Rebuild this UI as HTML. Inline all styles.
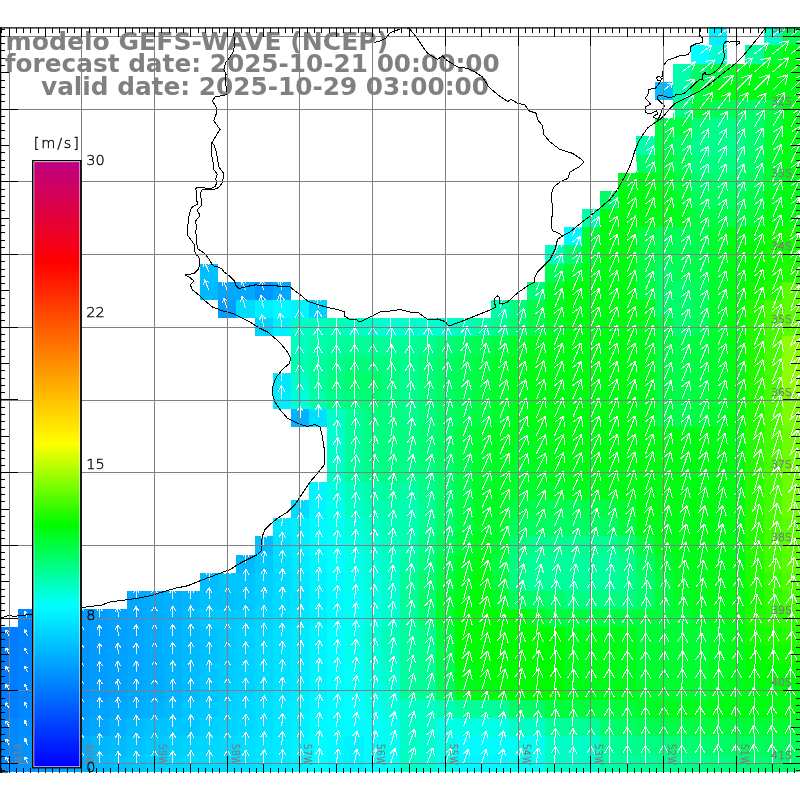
<!DOCTYPE html>
<html lang="pt"><head><meta charset="utf-8"><title>modelo GEFS-WAVE (NCEP)</title>
<style>html,body{margin:0;padding:0;background:#fff;width:800px;height:800px;overflow:hidden}svg{display:block}text{font-family:"DejaVu Sans","Liberation Sans",sans-serif}.ls text{font-family:"DejaVu Sans Light","DejaVu Sans","Liberation Sans",sans-serif;font-weight:200}</style></head><body>
<svg width="800" height="800" viewBox="0 0 800 800">
<rect width="800" height="800" fill="#fff"/>
<g shape-rendering="crispEdges">
<rect x="709.09" y="27.30" width="18.18" height="18.18" fill="#00f2ff"/>
<rect x="763.64" y="27.30" width="18.18" height="18.18" fill="#00fec6"/>
<rect x="781.82" y="27.30" width="18.18" height="18.18" fill="#00fd53"/>
<rect x="690.91" y="45.48" width="18.18" height="18.18" fill="#00ffff"/>
<rect x="709.09" y="45.48" width="18.18" height="18.18" fill="#00fed2"/>
<rect x="745.45" y="45.48" width="18.18" height="18.18" fill="#00fe9f"/>
<rect x="763.64" y="45.48" width="18.18" height="18.18" fill="#00fd33"/>
<rect x="781.82" y="45.48" width="18.18" height="18.18" fill="#00fc13"/>
<rect x="672.73" y="63.66" width="18.18" height="18.18" fill="#00feac"/>
<rect x="690.91" y="63.66" width="18.18" height="18.18" fill="#00fd66"/>
<rect x="709.09" y="63.66" width="18.18" height="18.18" fill="#00fd40"/>
<rect x="727.27" y="63.66" width="18.18" height="18.18" fill="#00fc20"/>
<rect x="745.45" y="63.66" width="54.55" height="18.18" fill="#00fc13"/>
<rect x="654.55" y="81.84" width="18.18" height="18.18" fill="#00bfff"/>
<rect x="672.73" y="81.84" width="18.18" height="18.18" fill="#00feac"/>
<rect x="690.91" y="81.84" width="18.18" height="18.18" fill="#00fd40"/>
<rect x="709.09" y="81.84" width="90.91" height="18.18" fill="#00fc13"/>
<rect x="672.73" y="100.02" width="18.18" height="18.18" fill="#00fe80"/>
<rect x="690.91" y="100.02" width="18.18" height="18.18" fill="#00fd33"/>
<rect x="709.09" y="100.02" width="36.36" height="18.18" fill="#00fd53"/>
<rect x="745.45" y="100.02" width="18.18" height="18.18" fill="#00fd66"/>
<rect x="763.64" y="100.02" width="18.18" height="18.18" fill="#00fd40"/>
<rect x="781.82" y="100.02" width="18.18" height="18.18" fill="#00fc13"/>
<rect x="654.55" y="118.20" width="18.18" height="18.18" fill="#00fd46"/>
<rect x="672.73" y="118.20" width="18.18" height="18.18" fill="#00fd40"/>
<rect x="690.91" y="118.20" width="18.18" height="18.18" fill="#00fd79"/>
<rect x="709.09" y="118.20" width="18.18" height="18.18" fill="#00fe8c"/>
<rect x="727.27" y="118.20" width="18.18" height="18.18" fill="#00fe80"/>
<rect x="745.45" y="118.20" width="18.18" height="18.18" fill="#00fd6c"/>
<rect x="763.64" y="118.20" width="18.18" height="18.18" fill="#00fd40"/>
<rect x="781.82" y="118.20" width="18.18" height="18.18" fill="#00fc13"/>
<rect x="636.36" y="136.38" width="18.18" height="18.18" fill="#00feac"/>
<rect x="654.55" y="136.38" width="18.18" height="18.18" fill="#00fd46"/>
<rect x="672.73" y="136.38" width="18.18" height="18.18" fill="#00fd66"/>
<rect x="690.91" y="136.38" width="54.55" height="18.18" fill="#00fe8c"/>
<rect x="745.45" y="136.38" width="18.18" height="18.18" fill="#00fd6c"/>
<rect x="763.64" y="136.38" width="18.18" height="18.18" fill="#00fd33"/>
<rect x="781.82" y="136.38" width="18.18" height="18.18" fill="#00fc13"/>
<rect x="636.36" y="154.56" width="18.18" height="18.18" fill="#00fd66"/>
<rect x="654.55" y="154.56" width="18.18" height="18.18" fill="#00fd33"/>
<rect x="672.73" y="154.56" width="18.18" height="18.18" fill="#00fd53"/>
<rect x="690.91" y="154.56" width="54.55" height="18.18" fill="#00fe80"/>
<rect x="745.45" y="154.56" width="18.18" height="18.18" fill="#00fd66"/>
<rect x="763.64" y="154.56" width="18.18" height="18.18" fill="#00fd33"/>
<rect x="781.82" y="154.56" width="18.18" height="18.18" fill="#00fc13"/>
<rect x="618.18" y="172.74" width="18.18" height="18.18" fill="#00fc20"/>
<rect x="636.36" y="172.74" width="18.18" height="18.18" fill="#00fc13"/>
<rect x="654.55" y="172.74" width="18.18" height="18.18" fill="#00fc20"/>
<rect x="672.73" y="172.74" width="18.18" height="18.18" fill="#00fd40"/>
<rect x="690.91" y="172.74" width="54.55" height="18.18" fill="#00fd6c"/>
<rect x="745.45" y="172.74" width="18.18" height="18.18" fill="#00fd59"/>
<rect x="763.64" y="172.74" width="18.18" height="18.18" fill="#00fd2d"/>
<rect x="781.82" y="172.74" width="18.18" height="18.18" fill="#00fc13"/>
<rect x="600.00" y="190.92" width="18.18" height="18.18" fill="#00fd66"/>
<rect x="618.18" y="190.92" width="18.18" height="18.18" fill="#00fc0d"/>
<rect x="636.36" y="190.92" width="36.36" height="18.18" fill="#00fc13"/>
<rect x="672.73" y="190.92" width="18.18" height="18.18" fill="#00fd2d"/>
<rect x="690.91" y="190.92" width="54.55" height="18.18" fill="#00fd59"/>
<rect x="745.45" y="190.92" width="18.18" height="18.18" fill="#00fd46"/>
<rect x="763.64" y="190.92" width="18.18" height="18.18" fill="#00fc20"/>
<rect x="781.82" y="190.92" width="18.18" height="18.18" fill="#00fc13"/>
<rect x="581.82" y="209.10" width="18.18" height="18.18" fill="#00feac"/>
<rect x="600.00" y="209.10" width="72.73" height="18.18" fill="#00fc13"/>
<rect x="672.73" y="209.10" width="18.18" height="18.18" fill="#00fc20"/>
<rect x="690.91" y="209.10" width="54.55" height="18.18" fill="#00fd46"/>
<rect x="745.45" y="209.10" width="18.18" height="18.18" fill="#00fd33"/>
<rect x="763.64" y="209.10" width="36.36" height="18.18" fill="#00fc13"/>
<rect x="563.64" y="227.28" width="18.18" height="18.18" fill="#00f9ff"/>
<rect x="581.82" y="227.28" width="18.18" height="18.18" fill="#00fd33"/>
<rect x="600.00" y="227.28" width="36.36" height="18.18" fill="#00fc13"/>
<rect x="636.36" y="227.28" width="18.18" height="18.18" fill="#00fd40"/>
<rect x="654.55" y="227.28" width="36.36" height="18.18" fill="#00fd53"/>
<rect x="690.91" y="227.28" width="18.18" height="18.18" fill="#00fd4c"/>
<rect x="709.09" y="227.28" width="18.18" height="18.18" fill="#00fd2d"/>
<rect x="727.27" y="227.28" width="36.36" height="18.18" fill="#00fc13"/>
<rect x="763.64" y="227.28" width="18.18" height="18.18" fill="#0dfc00"/>
<rect x="781.82" y="227.28" width="18.18" height="18.18" fill="#13fc00"/>
<rect x="545.45" y="245.46" width="18.18" height="18.18" fill="#00febf"/>
<rect x="563.64" y="245.46" width="18.18" height="18.18" fill="#00fd6c"/>
<rect x="581.82" y="245.46" width="18.18" height="18.18" fill="#00fd2d"/>
<rect x="600.00" y="245.46" width="36.36" height="18.18" fill="#00fc13"/>
<rect x="636.36" y="245.46" width="18.18" height="18.18" fill="#00fd40"/>
<rect x="654.55" y="245.46" width="36.36" height="18.18" fill="#00fd53"/>
<rect x="690.91" y="245.46" width="18.18" height="18.18" fill="#00fd4c"/>
<rect x="709.09" y="245.46" width="18.18" height="18.18" fill="#00fd2d"/>
<rect x="727.27" y="245.46" width="18.18" height="18.18" fill="#00fc13"/>
<rect x="745.45" y="245.46" width="18.18" height="18.18" fill="#00fc03"/>
<rect x="763.64" y="245.46" width="18.18" height="18.18" fill="#0dfc00"/>
<rect x="781.82" y="245.46" width="18.18" height="18.18" fill="#13fc00"/>
<rect x="200.00" y="263.64" width="18.18" height="18.18" fill="#00bfff"/>
<rect x="545.45" y="263.64" width="18.18" height="18.18" fill="#00fd53"/>
<rect x="563.64" y="263.64" width="18.18" height="18.18" fill="#00fd2d"/>
<rect x="581.82" y="263.64" width="18.18" height="18.18" fill="#00fc1a"/>
<rect x="600.00" y="263.64" width="18.18" height="18.18" fill="#00fc16"/>
<rect x="618.18" y="263.64" width="18.18" height="18.18" fill="#00fc13"/>
<rect x="636.36" y="263.64" width="18.18" height="18.18" fill="#00fd40"/>
<rect x="654.55" y="263.64" width="18.18" height="18.18" fill="#00fd66"/>
<rect x="672.73" y="263.64" width="18.18" height="18.18" fill="#00fd53"/>
<rect x="690.91" y="263.64" width="18.18" height="18.18" fill="#00fd4c"/>
<rect x="709.09" y="263.64" width="18.18" height="18.18" fill="#00fd2d"/>
<rect x="727.27" y="263.64" width="18.18" height="18.18" fill="#00fc13"/>
<rect x="745.45" y="263.64" width="18.18" height="18.18" fill="#00fc03"/>
<rect x="763.64" y="263.64" width="18.18" height="18.18" fill="#0dfc00"/>
<rect x="781.82" y="263.64" width="18.18" height="18.18" fill="#20fc00"/>
<rect x="200.00" y="281.82" width="18.18" height="18.18" fill="#00b9ff"/>
<rect x="218.18" y="281.82" width="18.18" height="18.18" fill="#00a6ff"/>
<rect x="236.36" y="281.82" width="18.18" height="18.18" fill="#00a9ff"/>
<rect x="254.55" y="281.82" width="18.18" height="18.18" fill="#0096ff"/>
<rect x="272.73" y="281.82" width="18.18" height="18.18" fill="#00a9ff"/>
<rect x="527.27" y="281.82" width="18.18" height="18.18" fill="#00fd79"/>
<rect x="545.45" y="281.82" width="18.18" height="18.18" fill="#00fc26"/>
<rect x="563.64" y="281.82" width="18.18" height="18.18" fill="#00fc0d"/>
<rect x="581.82" y="281.82" width="54.55" height="18.18" fill="#00fc13"/>
<rect x="636.36" y="281.82" width="18.18" height="18.18" fill="#00fd40"/>
<rect x="654.55" y="281.82" width="18.18" height="18.18" fill="#00fd66"/>
<rect x="672.73" y="281.82" width="18.18" height="18.18" fill="#00fd6c"/>
<rect x="690.91" y="281.82" width="18.18" height="18.18" fill="#00fd59"/>
<rect x="709.09" y="281.82" width="18.18" height="18.18" fill="#00fd2d"/>
<rect x="727.27" y="281.82" width="18.18" height="18.18" fill="#00fc13"/>
<rect x="745.45" y="281.82" width="18.18" height="18.18" fill="#0dfc00"/>
<rect x="763.64" y="281.82" width="18.18" height="18.18" fill="#20fc00"/>
<rect x="781.82" y="281.82" width="18.18" height="18.18" fill="#59fd00"/>
<rect x="218.18" y="300.00" width="18.18" height="18.18" fill="#009fff"/>
<rect x="236.36" y="300.00" width="18.18" height="18.18" fill="#00dcff"/>
<rect x="254.55" y="300.00" width="18.18" height="18.18" fill="#00efff"/>
<rect x="272.73" y="300.00" width="18.18" height="18.18" fill="#00f9ff"/>
<rect x="290.91" y="300.00" width="18.18" height="18.18" fill="#00f5ff"/>
<rect x="309.09" y="300.00" width="18.18" height="18.18" fill="#00d2ff"/>
<rect x="490.91" y="300.00" width="18.18" height="18.18" fill="#00feac"/>
<rect x="509.09" y="300.00" width="18.18" height="18.18" fill="#00fe80"/>
<rect x="527.27" y="300.00" width="18.18" height="18.18" fill="#00fd46"/>
<rect x="545.45" y="300.00" width="18.18" height="18.18" fill="#00fc1a"/>
<rect x="563.64" y="300.00" width="72.73" height="18.18" fill="#00fc13"/>
<rect x="636.36" y="300.00" width="18.18" height="18.18" fill="#00fc1a"/>
<rect x="654.55" y="300.00" width="18.18" height="18.18" fill="#00fd66"/>
<rect x="672.73" y="300.00" width="18.18" height="18.18" fill="#00fd6c"/>
<rect x="690.91" y="300.00" width="18.18" height="18.18" fill="#00fd59"/>
<rect x="709.09" y="300.00" width="18.18" height="18.18" fill="#00fd2d"/>
<rect x="727.27" y="300.00" width="18.18" height="18.18" fill="#00fc13"/>
<rect x="745.45" y="300.00" width="18.18" height="18.18" fill="#20fc00"/>
<rect x="763.64" y="300.00" width="18.18" height="18.18" fill="#46fd00"/>
<rect x="781.82" y="300.00" width="18.18" height="18.18" fill="#59fd00"/>
<rect x="254.55" y="318.18" width="18.18" height="18.18" fill="#00d2ff"/>
<rect x="272.73" y="318.18" width="18.18" height="18.18" fill="#00efff"/>
<rect x="290.91" y="318.18" width="18.18" height="18.18" fill="#00fec6"/>
<rect x="309.09" y="318.18" width="18.18" height="18.18" fill="#00febf"/>
<rect x="327.27" y="318.18" width="18.18" height="18.18" fill="#00feb3"/>
<rect x="345.45" y="318.18" width="18.18" height="18.18" fill="#00fec6"/>
<rect x="363.64" y="318.18" width="18.18" height="18.18" fill="#00fecc"/>
<rect x="381.82" y="318.18" width="18.18" height="18.18" fill="#00fed2"/>
<rect x="400.00" y="318.18" width="18.18" height="18.18" fill="#00fecc"/>
<rect x="418.18" y="318.18" width="18.18" height="18.18" fill="#00fecf"/>
<rect x="436.36" y="318.18" width="18.18" height="18.18" fill="#00fed2"/>
<rect x="454.55" y="318.18" width="18.18" height="18.18" fill="#00febf"/>
<rect x="472.73" y="318.18" width="18.18" height="18.18" fill="#00fea6"/>
<rect x="490.91" y="318.18" width="18.18" height="18.18" fill="#00fe8c"/>
<rect x="509.09" y="318.18" width="18.18" height="18.18" fill="#00fd6c"/>
<rect x="527.27" y="318.18" width="18.18" height="18.18" fill="#00fd46"/>
<rect x="545.45" y="318.18" width="18.18" height="18.18" fill="#00fc26"/>
<rect x="563.64" y="318.18" width="72.73" height="18.18" fill="#00fc13"/>
<rect x="636.36" y="318.18" width="18.18" height="18.18" fill="#00fc1a"/>
<rect x="654.55" y="318.18" width="18.18" height="18.18" fill="#00fd40"/>
<rect x="672.73" y="318.18" width="18.18" height="18.18" fill="#00fd6c"/>
<rect x="690.91" y="318.18" width="18.18" height="18.18" fill="#00fd59"/>
<rect x="709.09" y="318.18" width="18.18" height="18.18" fill="#00fd2d"/>
<rect x="727.27" y="318.18" width="18.18" height="18.18" fill="#00fc13"/>
<rect x="745.45" y="318.18" width="18.18" height="18.18" fill="#20fc00"/>
<rect x="763.64" y="318.18" width="18.18" height="18.18" fill="#46fd00"/>
<rect x="781.82" y="318.18" width="18.18" height="18.18" fill="#59fd00"/>
<rect x="290.91" y="336.36" width="18.18" height="18.18" fill="#00febf"/>
<rect x="309.09" y="336.36" width="18.18" height="18.18" fill="#00feac"/>
<rect x="327.27" y="336.36" width="18.18" height="18.18" fill="#00fe9f"/>
<rect x="345.45" y="336.36" width="72.73" height="18.18" fill="#00fe99"/>
<rect x="418.18" y="336.36" width="18.18" height="18.18" fill="#00fe8c"/>
<rect x="436.36" y="336.36" width="18.18" height="18.18" fill="#00fd79"/>
<rect x="454.55" y="336.36" width="18.18" height="18.18" fill="#00fd66"/>
<rect x="472.73" y="336.36" width="18.18" height="18.18" fill="#00fd53"/>
<rect x="490.91" y="336.36" width="18.18" height="18.18" fill="#00fd46"/>
<rect x="509.09" y="336.36" width="18.18" height="18.18" fill="#00fd2d"/>
<rect x="527.27" y="336.36" width="18.18" height="18.18" fill="#00fc1a"/>
<rect x="545.45" y="336.36" width="90.91" height="18.18" fill="#00fc13"/>
<rect x="636.36" y="336.36" width="18.18" height="18.18" fill="#00fc1a"/>
<rect x="654.55" y="336.36" width="18.18" height="18.18" fill="#00fd40"/>
<rect x="672.73" y="336.36" width="18.18" height="18.18" fill="#00fd4c"/>
<rect x="690.91" y="336.36" width="18.18" height="18.18" fill="#00fd40"/>
<rect x="709.09" y="336.36" width="18.18" height="18.18" fill="#00fd2d"/>
<rect x="727.27" y="336.36" width="18.18" height="18.18" fill="#00fc13"/>
<rect x="745.45" y="336.36" width="18.18" height="18.18" fill="#20fc00"/>
<rect x="763.64" y="336.36" width="18.18" height="18.18" fill="#46fd00"/>
<rect x="781.82" y="336.36" width="18.18" height="18.18" fill="#8cfe00"/>
<rect x="290.91" y="354.54" width="18.18" height="18.18" fill="#00feb3"/>
<rect x="309.09" y="354.54" width="18.18" height="18.18" fill="#00fe9f"/>
<rect x="327.27" y="354.54" width="18.18" height="18.18" fill="#00fe8c"/>
<rect x="345.45" y="354.54" width="18.18" height="18.18" fill="#00fd79"/>
<rect x="363.64" y="354.54" width="18.18" height="18.18" fill="#00fd7c"/>
<rect x="381.82" y="354.54" width="18.18" height="18.18" fill="#00fe80"/>
<rect x="400.00" y="354.54" width="18.18" height="18.18" fill="#00fe8c"/>
<rect x="418.18" y="354.54" width="18.18" height="18.18" fill="#00fd79"/>
<rect x="436.36" y="354.54" width="18.18" height="18.18" fill="#00fd66"/>
<rect x="454.55" y="354.54" width="18.18" height="18.18" fill="#00fd53"/>
<rect x="472.73" y="354.54" width="18.18" height="18.18" fill="#00fd40"/>
<rect x="490.91" y="354.54" width="18.18" height="18.18" fill="#00fd2d"/>
<rect x="509.09" y="354.54" width="18.18" height="18.18" fill="#00fc20"/>
<rect x="527.27" y="354.54" width="109.09" height="18.18" fill="#00fc13"/>
<rect x="636.36" y="354.54" width="18.18" height="18.18" fill="#00fc1a"/>
<rect x="654.55" y="354.54" width="18.18" height="18.18" fill="#00fd40"/>
<rect x="672.73" y="354.54" width="18.18" height="18.18" fill="#00fd4c"/>
<rect x="690.91" y="354.54" width="18.18" height="18.18" fill="#00fd40"/>
<rect x="709.09" y="354.54" width="18.18" height="18.18" fill="#00fd2d"/>
<rect x="727.27" y="354.54" width="18.18" height="18.18" fill="#00fc13"/>
<rect x="745.45" y="354.54" width="18.18" height="18.18" fill="#20fc00"/>
<rect x="763.64" y="354.54" width="18.18" height="18.18" fill="#46fd00"/>
<rect x="781.82" y="354.54" width="18.18" height="18.18" fill="#8cfe00"/>
<rect x="272.73" y="372.72" width="18.18" height="18.18" fill="#00e6ff"/>
<rect x="290.91" y="372.72" width="18.18" height="18.18" fill="#00fec6"/>
<rect x="309.09" y="372.72" width="18.18" height="18.18" fill="#00fe9f"/>
<rect x="327.27" y="372.72" width="18.18" height="18.18" fill="#00fe80"/>
<rect x="345.45" y="372.72" width="36.36" height="18.18" fill="#00fd6c"/>
<rect x="381.82" y="372.72" width="18.18" height="18.18" fill="#00fe80"/>
<rect x="400.00" y="372.72" width="18.18" height="18.18" fill="#00fe8c"/>
<rect x="418.18" y="372.72" width="18.18" height="18.18" fill="#00fd79"/>
<rect x="436.36" y="372.72" width="18.18" height="18.18" fill="#00fd66"/>
<rect x="454.55" y="372.72" width="18.18" height="18.18" fill="#00fd53"/>
<rect x="472.73" y="372.72" width="18.18" height="18.18" fill="#00fd40"/>
<rect x="490.91" y="372.72" width="18.18" height="18.18" fill="#00fd2d"/>
<rect x="509.09" y="372.72" width="18.18" height="18.18" fill="#00fc20"/>
<rect x="527.27" y="372.72" width="109.09" height="18.18" fill="#00fc13"/>
<rect x="636.36" y="372.72" width="18.18" height="18.18" fill="#00fc1a"/>
<rect x="654.55" y="372.72" width="18.18" height="18.18" fill="#00fd40"/>
<rect x="672.73" y="372.72" width="18.18" height="18.18" fill="#00fd4c"/>
<rect x="690.91" y="372.72" width="18.18" height="18.18" fill="#00fd40"/>
<rect x="709.09" y="372.72" width="18.18" height="18.18" fill="#00fd2d"/>
<rect x="727.27" y="372.72" width="18.18" height="18.18" fill="#00fc13"/>
<rect x="745.45" y="372.72" width="18.18" height="18.18" fill="#20fc00"/>
<rect x="763.64" y="372.72" width="18.18" height="18.18" fill="#46fd00"/>
<rect x="781.82" y="372.72" width="18.18" height="18.18" fill="#8cfe00"/>
<rect x="272.73" y="390.90" width="18.18" height="18.18" fill="#00ecff"/>
<rect x="290.91" y="390.90" width="18.18" height="18.18" fill="#00ffd9"/>
<rect x="309.09" y="390.90" width="18.18" height="18.18" fill="#00feac"/>
<rect x="327.27" y="390.90" width="18.18" height="18.18" fill="#00fe8c"/>
<rect x="345.45" y="390.90" width="18.18" height="18.18" fill="#00fd79"/>
<rect x="363.64" y="390.90" width="18.18" height="18.18" fill="#00fd73"/>
<rect x="381.82" y="390.90" width="18.18" height="18.18" fill="#00fe80"/>
<rect x="400.00" y="390.90" width="18.18" height="18.18" fill="#00fe8c"/>
<rect x="418.18" y="390.90" width="18.18" height="18.18" fill="#00fd79"/>
<rect x="436.36" y="390.90" width="18.18" height="18.18" fill="#00fd66"/>
<rect x="454.55" y="390.90" width="18.18" height="18.18" fill="#00fd53"/>
<rect x="472.73" y="390.90" width="18.18" height="18.18" fill="#00fd40"/>
<rect x="490.91" y="390.90" width="18.18" height="18.18" fill="#00fd2d"/>
<rect x="509.09" y="390.90" width="18.18" height="18.18" fill="#00fc20"/>
<rect x="527.27" y="390.90" width="109.09" height="18.18" fill="#00fc13"/>
<rect x="636.36" y="390.90" width="18.18" height="18.18" fill="#00fc1a"/>
<rect x="654.55" y="390.90" width="18.18" height="18.18" fill="#00fd40"/>
<rect x="672.73" y="390.90" width="18.18" height="18.18" fill="#00fd4c"/>
<rect x="690.91" y="390.90" width="18.18" height="18.18" fill="#00fd40"/>
<rect x="709.09" y="390.90" width="18.18" height="18.18" fill="#00fd2d"/>
<rect x="727.27" y="390.90" width="18.18" height="18.18" fill="#00fc13"/>
<rect x="745.45" y="390.90" width="18.18" height="18.18" fill="#20fc00"/>
<rect x="763.64" y="390.90" width="18.18" height="18.18" fill="#46fd00"/>
<rect x="781.82" y="390.90" width="18.18" height="18.18" fill="#79fd00"/>
<rect x="290.91" y="409.08" width="18.18" height="18.18" fill="#00b2ff"/>
<rect x="309.09" y="409.08" width="18.18" height="18.18" fill="#00dfff"/>
<rect x="327.27" y="409.08" width="18.18" height="18.18" fill="#00fec6"/>
<rect x="345.45" y="409.08" width="18.18" height="18.18" fill="#00fe99"/>
<rect x="363.64" y="409.08" width="36.36" height="18.18" fill="#00fe80"/>
<rect x="400.00" y="409.08" width="18.18" height="18.18" fill="#00fe8c"/>
<rect x="418.18" y="409.08" width="18.18" height="18.18" fill="#00fd79"/>
<rect x="436.36" y="409.08" width="18.18" height="18.18" fill="#00fd66"/>
<rect x="454.55" y="409.08" width="18.18" height="18.18" fill="#00fd53"/>
<rect x="472.73" y="409.08" width="18.18" height="18.18" fill="#00fd40"/>
<rect x="490.91" y="409.08" width="18.18" height="18.18" fill="#00fd2d"/>
<rect x="509.09" y="409.08" width="18.18" height="18.18" fill="#00fc20"/>
<rect x="527.27" y="409.08" width="109.09" height="18.18" fill="#00fc13"/>
<rect x="636.36" y="409.08" width="18.18" height="18.18" fill="#00fc1a"/>
<rect x="654.55" y="409.08" width="18.18" height="18.18" fill="#00fd40"/>
<rect x="672.73" y="409.08" width="18.18" height="18.18" fill="#00fd4c"/>
<rect x="690.91" y="409.08" width="18.18" height="18.18" fill="#00fd40"/>
<rect x="709.09" y="409.08" width="18.18" height="18.18" fill="#00fd2d"/>
<rect x="727.27" y="409.08" width="18.18" height="18.18" fill="#00fc13"/>
<rect x="745.45" y="409.08" width="18.18" height="18.18" fill="#20fc00"/>
<rect x="763.64" y="409.08" width="18.18" height="18.18" fill="#46fd00"/>
<rect x="781.82" y="409.08" width="18.18" height="18.18" fill="#79fd00"/>
<rect x="327.27" y="427.26" width="18.18" height="18.18" fill="#00fed2"/>
<rect x="345.45" y="427.26" width="18.18" height="18.18" fill="#00fe99"/>
<rect x="363.64" y="427.26" width="54.55" height="18.18" fill="#00fe80"/>
<rect x="418.18" y="427.26" width="18.18" height="18.18" fill="#00fd73"/>
<rect x="436.36" y="427.26" width="18.18" height="18.18" fill="#00fd66"/>
<rect x="454.55" y="427.26" width="18.18" height="18.18" fill="#00fd46"/>
<rect x="472.73" y="427.26" width="18.18" height="18.18" fill="#00fd2d"/>
<rect x="490.91" y="427.26" width="36.36" height="18.18" fill="#00fc20"/>
<rect x="527.27" y="427.26" width="18.18" height="18.18" fill="#00fc1a"/>
<rect x="545.45" y="427.26" width="200.00" height="18.18" fill="#00fc13"/>
<rect x="745.45" y="427.26" width="18.18" height="18.18" fill="#26fc00"/>
<rect x="763.64" y="427.26" width="18.18" height="18.18" fill="#46fd00"/>
<rect x="781.82" y="427.26" width="18.18" height="18.18" fill="#6cfd00"/>
<rect x="327.27" y="445.44" width="18.18" height="18.18" fill="#00fecc"/>
<rect x="345.45" y="445.44" width="18.18" height="18.18" fill="#00fe9c"/>
<rect x="363.64" y="445.44" width="18.18" height="18.18" fill="#00fe86"/>
<rect x="381.82" y="445.44" width="18.18" height="18.18" fill="#00fe83"/>
<rect x="400.00" y="445.44" width="18.18" height="18.18" fill="#00fe86"/>
<rect x="418.18" y="445.44" width="18.18" height="18.18" fill="#00fd79"/>
<rect x="436.36" y="445.44" width="18.18" height="18.18" fill="#00fd69"/>
<rect x="454.55" y="445.44" width="18.18" height="18.18" fill="#00fd49"/>
<rect x="472.73" y="445.44" width="18.18" height="18.18" fill="#00fd2d"/>
<rect x="490.91" y="445.44" width="18.18" height="18.18" fill="#00fc23"/>
<rect x="509.09" y="445.44" width="18.18" height="18.18" fill="#00fc26"/>
<rect x="527.27" y="445.44" width="18.18" height="18.18" fill="#00fc1e"/>
<rect x="545.45" y="445.44" width="36.36" height="18.18" fill="#00fc16"/>
<rect x="581.82" y="445.44" width="18.18" height="18.18" fill="#00fc15"/>
<rect x="600.00" y="445.44" width="18.18" height="18.18" fill="#00fc14"/>
<rect x="618.18" y="445.44" width="127.27" height="18.18" fill="#00fc13"/>
<rect x="745.45" y="445.44" width="18.18" height="18.18" fill="#26fc00"/>
<rect x="763.64" y="445.44" width="18.18" height="18.18" fill="#46fd00"/>
<rect x="781.82" y="445.44" width="18.18" height="18.18" fill="#6cfd00"/>
<rect x="327.27" y="463.62" width="18.18" height="18.18" fill="#00fec6"/>
<rect x="345.45" y="463.62" width="18.18" height="18.18" fill="#00fe9f"/>
<rect x="363.64" y="463.62" width="18.18" height="18.18" fill="#00fe8c"/>
<rect x="381.82" y="463.62" width="18.18" height="18.18" fill="#00fe86"/>
<rect x="400.00" y="463.62" width="18.18" height="18.18" fill="#00fe8c"/>
<rect x="418.18" y="463.62" width="18.18" height="18.18" fill="#00fe80"/>
<rect x="436.36" y="463.62" width="18.18" height="18.18" fill="#00fd6c"/>
<rect x="454.55" y="463.62" width="18.18" height="18.18" fill="#00fd4c"/>
<rect x="472.73" y="463.62" width="18.18" height="18.18" fill="#00fd2d"/>
<rect x="490.91" y="463.62" width="18.18" height="18.18" fill="#00fc26"/>
<rect x="509.09" y="463.62" width="18.18" height="18.18" fill="#00fd2d"/>
<rect x="527.27" y="463.62" width="18.18" height="18.18" fill="#00fc23"/>
<rect x="545.45" y="463.62" width="18.18" height="18.18" fill="#00fc1a"/>
<rect x="563.64" y="463.62" width="18.18" height="18.18" fill="#00fc18"/>
<rect x="581.82" y="463.62" width="18.18" height="18.18" fill="#00fc16"/>
<rect x="600.00" y="463.62" width="18.18" height="18.18" fill="#00fc15"/>
<rect x="618.18" y="463.62" width="127.27" height="18.18" fill="#00fc13"/>
<rect x="745.45" y="463.62" width="18.18" height="18.18" fill="#26fc00"/>
<rect x="763.64" y="463.62" width="18.18" height="18.18" fill="#46fd00"/>
<rect x="781.82" y="463.62" width="18.18" height="18.18" fill="#6cfd00"/>
<rect x="309.09" y="481.80" width="18.18" height="18.18" fill="#00f5ff"/>
<rect x="327.27" y="481.80" width="18.18" height="18.18" fill="#00ffdf"/>
<rect x="345.45" y="481.80" width="18.18" height="18.18" fill="#00febf"/>
<rect x="363.64" y="481.80" width="18.18" height="18.18" fill="#00feac"/>
<rect x="381.82" y="481.80" width="18.18" height="18.18" fill="#00fe9f"/>
<rect x="400.00" y="481.80" width="18.18" height="18.18" fill="#00fea6"/>
<rect x="418.18" y="481.80" width="18.18" height="18.18" fill="#00fe8c"/>
<rect x="436.36" y="481.80" width="18.18" height="18.18" fill="#00fd6c"/>
<rect x="454.55" y="481.80" width="18.18" height="18.18" fill="#00fd4c"/>
<rect x="472.73" y="481.80" width="18.18" height="18.18" fill="#00fc26"/>
<rect x="490.91" y="481.80" width="18.18" height="18.18" fill="#00fc20"/>
<rect x="509.09" y="481.80" width="54.55" height="18.18" fill="#00fd2d"/>
<rect x="563.64" y="481.80" width="18.18" height="18.18" fill="#00fc26"/>
<rect x="581.82" y="481.80" width="18.18" height="18.18" fill="#00fc20"/>
<rect x="600.00" y="481.80" width="18.18" height="18.18" fill="#00fc1a"/>
<rect x="618.18" y="481.80" width="127.27" height="18.18" fill="#00fc13"/>
<rect x="745.45" y="481.80" width="18.18" height="18.18" fill="#26fc00"/>
<rect x="763.64" y="481.80" width="18.18" height="18.18" fill="#46fd00"/>
<rect x="781.82" y="481.80" width="18.18" height="18.18" fill="#6cfd00"/>
<rect x="290.91" y="499.98" width="18.18" height="18.18" fill="#00dcff"/>
<rect x="309.09" y="499.98" width="18.18" height="18.18" fill="#00f5ff"/>
<rect x="327.27" y="499.98" width="18.18" height="18.18" fill="#00ffec"/>
<rect x="345.45" y="499.98" width="18.18" height="18.18" fill="#00fec6"/>
<rect x="363.64" y="499.98" width="18.18" height="18.18" fill="#00feb9"/>
<rect x="381.82" y="499.98" width="18.18" height="18.18" fill="#00feac"/>
<rect x="400.00" y="499.98" width="18.18" height="18.18" fill="#00feb3"/>
<rect x="418.18" y="499.98" width="18.18" height="18.18" fill="#00fe93"/>
<rect x="436.36" y="499.98" width="18.18" height="18.18" fill="#00fd6c"/>
<rect x="454.55" y="499.98" width="18.18" height="18.18" fill="#00fd46"/>
<rect x="472.73" y="499.98" width="36.36" height="18.18" fill="#00fc26"/>
<rect x="509.09" y="499.98" width="18.18" height="18.18" fill="#00fd46"/>
<rect x="527.27" y="499.98" width="18.18" height="18.18" fill="#00fd4a"/>
<rect x="545.45" y="499.98" width="18.18" height="18.18" fill="#00fd4f"/>
<rect x="563.64" y="499.98" width="18.18" height="18.18" fill="#00fd53"/>
<rect x="581.82" y="499.98" width="18.18" height="18.18" fill="#00fd4c"/>
<rect x="600.00" y="499.98" width="18.18" height="18.18" fill="#00fd46"/>
<rect x="618.18" y="499.98" width="18.18" height="18.18" fill="#00fd2d"/>
<rect x="636.36" y="499.98" width="109.09" height="18.18" fill="#00fc13"/>
<rect x="745.45" y="499.98" width="18.18" height="18.18" fill="#26fc00"/>
<rect x="763.64" y="499.98" width="18.18" height="18.18" fill="#46fd00"/>
<rect x="781.82" y="499.98" width="18.18" height="18.18" fill="#6cfd00"/>
<rect x="272.73" y="518.16" width="18.18" height="18.18" fill="#00e6ff"/>
<rect x="290.91" y="518.16" width="18.18" height="18.18" fill="#00efff"/>
<rect x="309.09" y="518.16" width="18.18" height="18.18" fill="#00f9ff"/>
<rect x="327.27" y="518.16" width="18.18" height="18.18" fill="#00fff2"/>
<rect x="345.45" y="518.16" width="18.18" height="18.18" fill="#00ffdf"/>
<rect x="363.64" y="518.16" width="18.18" height="18.18" fill="#00fec6"/>
<rect x="381.82" y="518.16" width="18.18" height="18.18" fill="#00feb9"/>
<rect x="400.00" y="518.16" width="18.18" height="18.18" fill="#00feb3"/>
<rect x="418.18" y="518.16" width="18.18" height="18.18" fill="#00fe93"/>
<rect x="436.36" y="518.16" width="18.18" height="18.18" fill="#00fd6c"/>
<rect x="454.55" y="518.16" width="18.18" height="18.18" fill="#00fd46"/>
<rect x="472.73" y="518.16" width="18.18" height="18.18" fill="#00fc20"/>
<rect x="490.91" y="518.16" width="18.18" height="18.18" fill="#00fd2d"/>
<rect x="509.09" y="518.16" width="18.18" height="18.18" fill="#00fd59"/>
<rect x="527.27" y="518.16" width="18.18" height="18.18" fill="#00fd5e"/>
<rect x="545.45" y="518.16" width="18.18" height="18.18" fill="#00fd62"/>
<rect x="563.64" y="518.16" width="18.18" height="18.18" fill="#00fd66"/>
<rect x="581.82" y="518.16" width="18.18" height="18.18" fill="#00fd63"/>
<rect x="600.00" y="518.16" width="18.18" height="18.18" fill="#00fd60"/>
<rect x="618.18" y="518.16" width="18.18" height="18.18" fill="#00fd40"/>
<rect x="636.36" y="518.16" width="18.18" height="18.18" fill="#00fc1a"/>
<rect x="654.55" y="518.16" width="18.18" height="18.18" fill="#00fc18"/>
<rect x="672.73" y="518.16" width="18.18" height="18.18" fill="#00fc17"/>
<rect x="690.91" y="518.16" width="18.18" height="18.18" fill="#00fc16"/>
<rect x="709.09" y="518.16" width="18.18" height="18.18" fill="#00fc14"/>
<rect x="727.27" y="518.16" width="18.18" height="18.18" fill="#00fc13"/>
<rect x="745.45" y="518.16" width="18.18" height="18.18" fill="#26fc00"/>
<rect x="763.64" y="518.16" width="18.18" height="18.18" fill="#46fd00"/>
<rect x="781.82" y="518.16" width="18.18" height="18.18" fill="#59fd00"/>
<rect x="254.55" y="536.34" width="18.18" height="18.18" fill="#00bfff"/>
<rect x="272.73" y="536.34" width="18.18" height="18.18" fill="#00dfff"/>
<rect x="290.91" y="536.34" width="18.18" height="18.18" fill="#00ecff"/>
<rect x="309.09" y="536.34" width="18.18" height="18.18" fill="#00f9ff"/>
<rect x="327.27" y="536.34" width="18.18" height="18.18" fill="#00fff9"/>
<rect x="345.45" y="536.34" width="18.18" height="18.18" fill="#00ffe5"/>
<rect x="363.64" y="536.34" width="18.18" height="18.18" fill="#00fed2"/>
<rect x="381.82" y="536.34" width="18.18" height="18.18" fill="#00febf"/>
<rect x="400.00" y="536.34" width="18.18" height="18.18" fill="#00feb3"/>
<rect x="418.18" y="536.34" width="18.18" height="18.18" fill="#00fe8c"/>
<rect x="436.36" y="536.34" width="18.18" height="18.18" fill="#00fd60"/>
<rect x="454.55" y="536.34" width="18.18" height="18.18" fill="#00fd39"/>
<rect x="472.73" y="536.34" width="18.18" height="18.18" fill="#00fc1a"/>
<rect x="490.91" y="536.34" width="18.18" height="18.18" fill="#00fd33"/>
<rect x="509.09" y="536.34" width="18.18" height="18.18" fill="#00fd73"/>
<rect x="527.27" y="536.34" width="18.18" height="18.18" fill="#00fe8c"/>
<rect x="545.45" y="536.34" width="18.18" height="18.18" fill="#00fe8e"/>
<rect x="563.64" y="536.34" width="18.18" height="18.18" fill="#00fe8f"/>
<rect x="581.82" y="536.34" width="18.18" height="18.18" fill="#00fe91"/>
<rect x="600.00" y="536.34" width="18.18" height="18.18" fill="#00fe93"/>
<rect x="618.18" y="536.34" width="18.18" height="18.18" fill="#00fd73"/>
<rect x="636.36" y="536.34" width="18.18" height="18.18" fill="#00fd40"/>
<rect x="654.55" y="536.34" width="18.18" height="18.18" fill="#00fc1a"/>
<rect x="672.73" y="536.34" width="18.18" height="18.18" fill="#00fc18"/>
<rect x="690.91" y="536.34" width="18.18" height="18.18" fill="#00fc16"/>
<rect x="709.09" y="536.34" width="18.18" height="18.18" fill="#00fc15"/>
<rect x="727.27" y="536.34" width="18.18" height="18.18" fill="#00fc13"/>
<rect x="745.45" y="536.34" width="18.18" height="18.18" fill="#26fc00"/>
<rect x="763.64" y="536.34" width="18.18" height="18.18" fill="#46fd00"/>
<rect x="781.82" y="536.34" width="18.18" height="18.18" fill="#59fd00"/>
<rect x="236.36" y="554.52" width="18.18" height="18.18" fill="#00b9ff"/>
<rect x="254.55" y="554.52" width="18.18" height="18.18" fill="#00c9ff"/>
<rect x="272.73" y="554.52" width="18.18" height="18.18" fill="#00dcff"/>
<rect x="290.91" y="554.52" width="18.18" height="18.18" fill="#00e9ff"/>
<rect x="309.09" y="554.52" width="18.18" height="18.18" fill="#00f5ff"/>
<rect x="327.27" y="554.52" width="18.18" height="18.18" fill="#00ffff"/>
<rect x="345.45" y="554.52" width="18.18" height="18.18" fill="#00ffec"/>
<rect x="363.64" y="554.52" width="18.18" height="18.18" fill="#00ffd9"/>
<rect x="381.82" y="554.52" width="18.18" height="18.18" fill="#00fec6"/>
<rect x="400.00" y="554.52" width="18.18" height="18.18" fill="#00fea6"/>
<rect x="418.18" y="554.52" width="18.18" height="18.18" fill="#00fe80"/>
<rect x="436.36" y="554.52" width="18.18" height="18.18" fill="#00fd4c"/>
<rect x="454.55" y="554.52" width="18.18" height="18.18" fill="#00fc26"/>
<rect x="472.73" y="554.52" width="18.18" height="18.18" fill="#00fc13"/>
<rect x="490.91" y="554.52" width="18.18" height="18.18" fill="#00fd40"/>
<rect x="509.09" y="554.52" width="18.18" height="18.18" fill="#00fe86"/>
<rect x="527.27" y="554.52" width="18.18" height="18.18" fill="#00fe99"/>
<rect x="545.45" y="554.52" width="18.18" height="18.18" fill="#00fe9b"/>
<rect x="563.64" y="554.52" width="18.18" height="18.18" fill="#00fe9c"/>
<rect x="581.82" y="554.52" width="18.18" height="18.18" fill="#00fe9e"/>
<rect x="600.00" y="554.52" width="18.18" height="18.18" fill="#00fe9f"/>
<rect x="618.18" y="554.52" width="18.18" height="18.18" fill="#00fe8c"/>
<rect x="636.36" y="554.52" width="18.18" height="18.18" fill="#00fd60"/>
<rect x="654.55" y="554.52" width="18.18" height="18.18" fill="#00fd33"/>
<rect x="672.73" y="554.52" width="18.18" height="18.18" fill="#00fc1a"/>
<rect x="690.91" y="554.52" width="18.18" height="18.18" fill="#00fc17"/>
<rect x="709.09" y="554.52" width="18.18" height="18.18" fill="#00fc15"/>
<rect x="727.27" y="554.52" width="18.18" height="18.18" fill="#00fc13"/>
<rect x="745.45" y="554.52" width="18.18" height="18.18" fill="#20fc00"/>
<rect x="763.64" y="554.52" width="18.18" height="18.18" fill="#40fd00"/>
<rect x="781.82" y="554.52" width="18.18" height="18.18" fill="#59fd00"/>
<rect x="200.00" y="572.70" width="18.18" height="18.18" fill="#00bcff"/>
<rect x="218.18" y="572.70" width="36.36" height="18.18" fill="#00c6ff"/>
<rect x="254.55" y="572.70" width="18.18" height="18.18" fill="#00cfff"/>
<rect x="272.73" y="572.70" width="18.18" height="18.18" fill="#00d9ff"/>
<rect x="290.91" y="572.70" width="18.18" height="18.18" fill="#00e6ff"/>
<rect x="309.09" y="572.70" width="18.18" height="18.18" fill="#00f2ff"/>
<rect x="327.27" y="572.70" width="18.18" height="18.18" fill="#00fcff"/>
<rect x="345.45" y="572.70" width="18.18" height="18.18" fill="#00fff2"/>
<rect x="363.64" y="572.70" width="18.18" height="18.18" fill="#00ffdf"/>
<rect x="381.82" y="572.70" width="18.18" height="18.18" fill="#00fecc"/>
<rect x="400.00" y="572.70" width="18.18" height="18.18" fill="#00fe99"/>
<rect x="418.18" y="572.70" width="18.18" height="18.18" fill="#00fd73"/>
<rect x="436.36" y="572.70" width="18.18" height="18.18" fill="#00fd40"/>
<rect x="454.55" y="572.70" width="18.18" height="18.18" fill="#00fc1a"/>
<rect x="472.73" y="572.70" width="18.18" height="18.18" fill="#00fc0d"/>
<rect x="490.91" y="572.70" width="18.18" height="18.18" fill="#00fd39"/>
<rect x="509.09" y="572.70" width="18.18" height="18.18" fill="#00fe86"/>
<rect x="527.27" y="572.70" width="18.18" height="18.18" fill="#00fe99"/>
<rect x="545.45" y="572.70" width="18.18" height="18.18" fill="#00fe9b"/>
<rect x="563.64" y="572.70" width="18.18" height="18.18" fill="#00fe9c"/>
<rect x="581.82" y="572.70" width="18.18" height="18.18" fill="#00fe9e"/>
<rect x="600.00" y="572.70" width="18.18" height="18.18" fill="#00fe9f"/>
<rect x="618.18" y="572.70" width="18.18" height="18.18" fill="#00fe8c"/>
<rect x="636.36" y="572.70" width="18.18" height="18.18" fill="#00fd6c"/>
<rect x="654.55" y="572.70" width="18.18" height="18.18" fill="#00fd40"/>
<rect x="672.73" y="572.70" width="18.18" height="18.18" fill="#00fc20"/>
<rect x="690.91" y="572.70" width="18.18" height="18.18" fill="#00fc1c"/>
<rect x="709.09" y="572.70" width="18.18" height="18.18" fill="#00fc17"/>
<rect x="727.27" y="572.70" width="18.18" height="18.18" fill="#00fc13"/>
<rect x="745.45" y="572.70" width="18.18" height="18.18" fill="#1afc00"/>
<rect x="763.64" y="572.70" width="18.18" height="18.18" fill="#33fd00"/>
<rect x="781.82" y="572.70" width="18.18" height="18.18" fill="#4cfd00"/>
<rect x="127.27" y="590.88" width="18.18" height="18.18" fill="#00a9ff"/>
<rect x="145.45" y="590.88" width="18.18" height="18.18" fill="#00adff"/>
<rect x="163.64" y="590.88" width="18.18" height="18.18" fill="#00b1ff"/>
<rect x="181.82" y="590.88" width="18.18" height="18.18" fill="#00b6ff"/>
<rect x="200.00" y="590.88" width="36.36" height="18.18" fill="#00bfff"/>
<rect x="236.36" y="590.88" width="18.18" height="18.18" fill="#00c6ff"/>
<rect x="254.55" y="590.88" width="18.18" height="18.18" fill="#00cfff"/>
<rect x="272.73" y="590.88" width="18.18" height="18.18" fill="#00d9ff"/>
<rect x="290.91" y="590.88" width="18.18" height="18.18" fill="#00e2ff"/>
<rect x="309.09" y="590.88" width="18.18" height="18.18" fill="#00efff"/>
<rect x="327.27" y="590.88" width="18.18" height="18.18" fill="#00f9ff"/>
<rect x="345.45" y="590.88" width="18.18" height="18.18" fill="#00fff9"/>
<rect x="363.64" y="590.88" width="18.18" height="18.18" fill="#00ffe5"/>
<rect x="381.82" y="590.88" width="18.18" height="18.18" fill="#00fed2"/>
<rect x="400.00" y="590.88" width="18.18" height="18.18" fill="#00fe99"/>
<rect x="418.18" y="590.88" width="18.18" height="18.18" fill="#00fd6c"/>
<rect x="436.36" y="590.88" width="18.18" height="18.18" fill="#00fd33"/>
<rect x="454.55" y="590.88" width="18.18" height="18.18" fill="#00fc13"/>
<rect x="472.73" y="590.88" width="18.18" height="18.18" fill="#00fc06"/>
<rect x="490.91" y="590.88" width="18.18" height="18.18" fill="#00fc26"/>
<rect x="509.09" y="590.88" width="18.18" height="18.18" fill="#00fd60"/>
<rect x="527.27" y="590.88" width="18.18" height="18.18" fill="#00fd66"/>
<rect x="545.45" y="590.88" width="18.18" height="18.18" fill="#00fd6c"/>
<rect x="563.64" y="590.88" width="72.73" height="18.18" fill="#00fe80"/>
<rect x="636.36" y="590.88" width="18.18" height="18.18" fill="#00fd6c"/>
<rect x="654.55" y="590.88" width="18.18" height="18.18" fill="#00fd40"/>
<rect x="672.73" y="590.88" width="18.18" height="18.18" fill="#00fc26"/>
<rect x="690.91" y="590.88" width="18.18" height="18.18" fill="#00fc1a"/>
<rect x="709.09" y="590.88" width="18.18" height="18.18" fill="#00fc16"/>
<rect x="727.27" y="590.88" width="18.18" height="18.18" fill="#00fc13"/>
<rect x="745.45" y="590.88" width="18.18" height="18.18" fill="#13fc00"/>
<rect x="763.64" y="590.88" width="18.18" height="18.18" fill="#2dfd00"/>
<rect x="781.82" y="590.88" width="18.18" height="18.18" fill="#40fd00"/>
<rect x="18.18" y="609.06" width="18.18" height="18.18" fill="#0086ff"/>
<rect x="36.36" y="609.06" width="18.18" height="18.18" fill="#008cff"/>
<rect x="54.55" y="609.06" width="18.18" height="18.18" fill="#0093ff"/>
<rect x="72.73" y="609.06" width="18.18" height="18.18" fill="#0099ff"/>
<rect x="90.91" y="609.06" width="18.18" height="18.18" fill="#009fff"/>
<rect x="109.09" y="609.06" width="18.18" height="18.18" fill="#00a3ff"/>
<rect x="127.27" y="609.06" width="18.18" height="18.18" fill="#00a6ff"/>
<rect x="145.45" y="609.06" width="18.18" height="18.18" fill="#00acff"/>
<rect x="163.64" y="609.06" width="18.18" height="18.18" fill="#00b2ff"/>
<rect x="181.82" y="609.06" width="18.18" height="18.18" fill="#00bcff"/>
<rect x="200.00" y="609.06" width="18.18" height="18.18" fill="#00c6ff"/>
<rect x="218.18" y="609.06" width="18.18" height="18.18" fill="#00c9ff"/>
<rect x="236.36" y="609.06" width="18.18" height="18.18" fill="#00ccff"/>
<rect x="254.55" y="609.06" width="18.18" height="18.18" fill="#00d4ff"/>
<rect x="272.73" y="609.06" width="18.18" height="18.18" fill="#00dcff"/>
<rect x="290.91" y="609.06" width="18.18" height="18.18" fill="#00e6ff"/>
<rect x="309.09" y="609.06" width="18.18" height="18.18" fill="#00efff"/>
<rect x="327.27" y="609.06" width="18.18" height="18.18" fill="#00f9ff"/>
<rect x="345.45" y="609.06" width="18.18" height="18.18" fill="#00fff9"/>
<rect x="363.64" y="609.06" width="18.18" height="18.18" fill="#00ffe2"/>
<rect x="381.82" y="609.06" width="18.18" height="18.18" fill="#00fecc"/>
<rect x="400.00" y="609.06" width="18.18" height="18.18" fill="#00fe9f"/>
<rect x="418.18" y="609.06" width="18.18" height="18.18" fill="#00fd73"/>
<rect x="436.36" y="609.06" width="18.18" height="18.18" fill="#00fd2d"/>
<rect x="454.55" y="609.06" width="72.73" height="18.18" fill="#00fc06"/>
<rect x="527.27" y="609.06" width="18.18" height="18.18" fill="#00fc20"/>
<rect x="545.45" y="609.06" width="90.91" height="18.18" fill="#00fd40"/>
<rect x="636.36" y="609.06" width="54.55" height="18.18" fill="#00fd39"/>
<rect x="690.91" y="609.06" width="18.18" height="18.18" fill="#00fc26"/>
<rect x="709.09" y="609.06" width="18.18" height="18.18" fill="#00fc1d"/>
<rect x="727.27" y="609.06" width="18.18" height="18.18" fill="#00fc13"/>
<rect x="745.45" y="609.06" width="18.18" height="18.18" fill="#20fc00"/>
<rect x="763.64" y="609.06" width="18.18" height="18.18" fill="#29fc00"/>
<rect x="781.82" y="609.06" width="18.18" height="18.18" fill="#33fd00"/>
<rect x="0.00" y="627.24" width="18.18" height="18.18" fill="#007cff"/>
<rect x="18.18" y="627.24" width="18.18" height="18.18" fill="#0083ff"/>
<rect x="36.36" y="627.24" width="18.18" height="18.18" fill="#0089ff"/>
<rect x="54.55" y="627.24" width="18.18" height="18.18" fill="#008fff"/>
<rect x="72.73" y="627.24" width="18.18" height="18.18" fill="#0096ff"/>
<rect x="90.91" y="627.24" width="18.18" height="18.18" fill="#009cff"/>
<rect x="109.09" y="627.24" width="18.18" height="18.18" fill="#00a1ff"/>
<rect x="127.27" y="627.24" width="18.18" height="18.18" fill="#00a6ff"/>
<rect x="145.45" y="627.24" width="18.18" height="18.18" fill="#00acff"/>
<rect x="163.64" y="627.24" width="18.18" height="18.18" fill="#00b2ff"/>
<rect x="181.82" y="627.24" width="18.18" height="18.18" fill="#00b9ff"/>
<rect x="200.00" y="627.24" width="18.18" height="18.18" fill="#00bfff"/>
<rect x="218.18" y="627.24" width="18.18" height="18.18" fill="#00c7ff"/>
<rect x="236.36" y="627.24" width="18.18" height="18.18" fill="#00cfff"/>
<rect x="254.55" y="627.24" width="18.18" height="18.18" fill="#00d7ff"/>
<rect x="272.73" y="627.24" width="18.18" height="18.18" fill="#00dfff"/>
<rect x="290.91" y="627.24" width="18.18" height="18.18" fill="#00e9ff"/>
<rect x="309.09" y="627.24" width="18.18" height="18.18" fill="#00f2ff"/>
<rect x="327.27" y="627.24" width="18.18" height="18.18" fill="#00fdff"/>
<rect x="345.45" y="627.24" width="18.18" height="18.18" fill="#00ffec"/>
<rect x="363.64" y="627.24" width="18.18" height="18.18" fill="#00fed2"/>
<rect x="381.82" y="627.24" width="18.18" height="18.18" fill="#00feb9"/>
<rect x="400.00" y="627.24" width="18.18" height="18.18" fill="#00fe9f"/>
<rect x="418.18" y="627.24" width="18.18" height="18.18" fill="#00fe8c"/>
<rect x="436.36" y="627.24" width="18.18" height="18.18" fill="#00fd40"/>
<rect x="454.55" y="627.24" width="109.09" height="18.18" fill="#00fc00"/>
<rect x="563.64" y="627.24" width="72.73" height="18.18" fill="#00fc1a"/>
<rect x="636.36" y="627.24" width="72.73" height="18.18" fill="#00fd33"/>
<rect x="709.09" y="627.24" width="18.18" height="18.18" fill="#00fc26"/>
<rect x="727.27" y="627.24" width="18.18" height="18.18" fill="#00fc1a"/>
<rect x="745.45" y="627.24" width="18.18" height="18.18" fill="#13fc00"/>
<rect x="763.64" y="627.24" width="18.18" height="18.18" fill="#1dfc00"/>
<rect x="781.82" y="627.24" width="18.18" height="18.18" fill="#26fc00"/>
<rect x="0.00" y="645.42" width="18.18" height="18.18" fill="#007cff"/>
<rect x="18.18" y="645.42" width="18.18" height="18.18" fill="#0083ff"/>
<rect x="36.36" y="645.42" width="18.18" height="18.18" fill="#0089ff"/>
<rect x="54.55" y="645.42" width="18.18" height="18.18" fill="#008fff"/>
<rect x="72.73" y="645.42" width="18.18" height="18.18" fill="#0096ff"/>
<rect x="90.91" y="645.42" width="18.18" height="18.18" fill="#009cff"/>
<rect x="109.09" y="645.42" width="18.18" height="18.18" fill="#00a1ff"/>
<rect x="127.27" y="645.42" width="18.18" height="18.18" fill="#00a6ff"/>
<rect x="145.45" y="645.42" width="18.18" height="18.18" fill="#00acff"/>
<rect x="163.64" y="645.42" width="18.18" height="18.18" fill="#00b3ff"/>
<rect x="181.82" y="645.42" width="18.18" height="18.18" fill="#00baff"/>
<rect x="200.00" y="645.42" width="18.18" height="18.18" fill="#00c1ff"/>
<rect x="218.18" y="645.42" width="18.18" height="18.18" fill="#00c9ff"/>
<rect x="236.36" y="645.42" width="18.18" height="18.18" fill="#00d0ff"/>
<rect x="254.55" y="645.42" width="18.18" height="18.18" fill="#00d8ff"/>
<rect x="272.73" y="645.42" width="18.18" height="18.18" fill="#00e0ff"/>
<rect x="290.91" y="645.42" width="18.18" height="18.18" fill="#00e9ff"/>
<rect x="309.09" y="645.42" width="18.18" height="18.18" fill="#00f2ff"/>
<rect x="327.27" y="645.42" width="18.18" height="18.18" fill="#00fcff"/>
<rect x="345.45" y="645.42" width="18.18" height="18.18" fill="#00fff0"/>
<rect x="363.64" y="645.42" width="18.18" height="18.18" fill="#00ffda"/>
<rect x="381.82" y="645.42" width="18.18" height="18.18" fill="#00fec4"/>
<rect x="400.00" y="645.42" width="18.18" height="18.18" fill="#00fe9f"/>
<rect x="418.18" y="645.42" width="18.18" height="18.18" fill="#00fe90"/>
<rect x="436.36" y="645.42" width="18.18" height="18.18" fill="#00fd4a"/>
<rect x="454.55" y="645.42" width="18.18" height="18.18" fill="#00fc0b"/>
<rect x="472.73" y="645.42" width="18.18" height="18.18" fill="#00fc06"/>
<rect x="490.91" y="645.42" width="18.18" height="18.18" fill="#00fc03"/>
<rect x="509.09" y="645.42" width="54.55" height="18.18" fill="#00fc00"/>
<rect x="563.64" y="645.42" width="72.73" height="18.18" fill="#00fc19"/>
<rect x="636.36" y="645.42" width="72.73" height="18.18" fill="#00fd31"/>
<rect x="709.09" y="645.42" width="18.18" height="18.18" fill="#00fc25"/>
<rect x="727.27" y="645.42" width="18.18" height="18.18" fill="#00fc19"/>
<rect x="745.45" y="645.42" width="18.18" height="18.18" fill="#06fc00"/>
<rect x="763.64" y="645.42" width="18.18" height="18.18" fill="#0dfc00"/>
<rect x="781.82" y="645.42" width="18.18" height="18.18" fill="#15fc00"/>
<rect x="0.00" y="663.60" width="18.18" height="18.18" fill="#007cff"/>
<rect x="18.18" y="663.60" width="18.18" height="18.18" fill="#0083ff"/>
<rect x="36.36" y="663.60" width="18.18" height="18.18" fill="#0089ff"/>
<rect x="54.55" y="663.60" width="18.18" height="18.18" fill="#008fff"/>
<rect x="72.73" y="663.60" width="18.18" height="18.18" fill="#0096ff"/>
<rect x="90.91" y="663.60" width="18.18" height="18.18" fill="#009cff"/>
<rect x="109.09" y="663.60" width="18.18" height="18.18" fill="#00a1ff"/>
<rect x="127.27" y="663.60" width="18.18" height="18.18" fill="#00a6ff"/>
<rect x="145.45" y="663.60" width="18.18" height="18.18" fill="#00acff"/>
<rect x="163.64" y="663.60" width="18.18" height="18.18" fill="#00b4ff"/>
<rect x="181.82" y="663.60" width="18.18" height="18.18" fill="#00bbff"/>
<rect x="200.00" y="663.60" width="18.18" height="18.18" fill="#00c3ff"/>
<rect x="218.18" y="663.60" width="18.18" height="18.18" fill="#00caff"/>
<rect x="236.36" y="663.60" width="18.18" height="18.18" fill="#00d1ff"/>
<rect x="254.55" y="663.60" width="18.18" height="18.18" fill="#00d9ff"/>
<rect x="272.73" y="663.60" width="18.18" height="18.18" fill="#00e1ff"/>
<rect x="290.91" y="663.60" width="18.18" height="18.18" fill="#00eaff"/>
<rect x="309.09" y="663.60" width="18.18" height="18.18" fill="#00f2ff"/>
<rect x="327.27" y="663.60" width="18.18" height="18.18" fill="#00fbff"/>
<rect x="345.45" y="663.60" width="18.18" height="18.18" fill="#00fff4"/>
<rect x="363.64" y="663.60" width="18.18" height="18.18" fill="#00ffe1"/>
<rect x="381.82" y="663.60" width="18.18" height="18.18" fill="#00fece"/>
<rect x="400.00" y="663.60" width="18.18" height="18.18" fill="#00fe9f"/>
<rect x="418.18" y="663.60" width="18.18" height="18.18" fill="#00fe95"/>
<rect x="436.36" y="663.60" width="18.18" height="18.18" fill="#00fd55"/>
<rect x="454.55" y="663.60" width="18.18" height="18.18" fill="#00fc15"/>
<rect x="472.73" y="663.60" width="18.18" height="18.18" fill="#00fc0d"/>
<rect x="490.91" y="663.60" width="18.18" height="18.18" fill="#00fc06"/>
<rect x="509.09" y="663.60" width="54.55" height="18.18" fill="#00fc00"/>
<rect x="563.64" y="663.60" width="72.73" height="18.18" fill="#00fc1a"/>
<rect x="636.36" y="663.60" width="72.73" height="18.18" fill="#00fd2f"/>
<rect x="709.09" y="663.60" width="18.18" height="18.18" fill="#00fc24"/>
<rect x="727.27" y="663.60" width="18.18" height="18.18" fill="#00fc1a"/>
<rect x="745.45" y="663.60" width="18.18" height="18.18" fill="#00fc08"/>
<rect x="763.64" y="663.60" width="18.18" height="18.18" fill="#00fc02"/>
<rect x="781.82" y="663.60" width="18.18" height="18.18" fill="#04fc00"/>
<rect x="0.00" y="681.78" width="18.18" height="18.18" fill="#007cff"/>
<rect x="18.18" y="681.78" width="18.18" height="18.18" fill="#0083ff"/>
<rect x="36.36" y="681.78" width="18.18" height="18.18" fill="#0089ff"/>
<rect x="54.55" y="681.78" width="18.18" height="18.18" fill="#008fff"/>
<rect x="72.73" y="681.78" width="18.18" height="18.18" fill="#0096ff"/>
<rect x="90.91" y="681.78" width="18.18" height="18.18" fill="#009cff"/>
<rect x="109.09" y="681.78" width="18.18" height="18.18" fill="#00a2ff"/>
<rect x="127.27" y="681.78" width="18.18" height="18.18" fill="#00a7ff"/>
<rect x="145.45" y="681.78" width="18.18" height="18.18" fill="#00acff"/>
<rect x="163.64" y="681.78" width="18.18" height="18.18" fill="#00b4ff"/>
<rect x="181.82" y="681.78" width="18.18" height="18.18" fill="#00bcff"/>
<rect x="200.00" y="681.78" width="18.18" height="18.18" fill="#00c6ff"/>
<rect x="218.18" y="681.78" width="18.18" height="18.18" fill="#00ccff"/>
<rect x="236.36" y="681.78" width="18.18" height="18.18" fill="#00d2ff"/>
<rect x="254.55" y="681.78" width="18.18" height="18.18" fill="#00daff"/>
<rect x="272.73" y="681.78" width="18.18" height="18.18" fill="#00e2ff"/>
<rect x="290.91" y="681.78" width="18.18" height="18.18" fill="#00eaff"/>
<rect x="309.09" y="681.78" width="18.18" height="18.18" fill="#00f2ff"/>
<rect x="327.27" y="681.78" width="18.18" height="18.18" fill="#00faff"/>
<rect x="345.45" y="681.78" width="18.18" height="18.18" fill="#00fff9"/>
<rect x="363.64" y="681.78" width="18.18" height="18.18" fill="#00ffe9"/>
<rect x="381.82" y="681.78" width="18.18" height="18.18" fill="#00ffd9"/>
<rect x="400.00" y="681.78" width="18.18" height="18.18" fill="#00fe9f"/>
<rect x="418.18" y="681.78" width="18.18" height="18.18" fill="#00fe99"/>
<rect x="436.36" y="681.78" width="18.18" height="18.18" fill="#00fd60"/>
<rect x="454.55" y="681.78" width="18.18" height="18.18" fill="#00fc20"/>
<rect x="472.73" y="681.78" width="18.18" height="18.18" fill="#00fc13"/>
<rect x="490.91" y="681.78" width="18.18" height="18.18" fill="#00fc0a"/>
<rect x="509.09" y="681.78" width="54.55" height="18.18" fill="#00fc00"/>
<rect x="563.64" y="681.78" width="72.73" height="18.18" fill="#00fc1a"/>
<rect x="636.36" y="681.78" width="72.73" height="18.18" fill="#00fd2d"/>
<rect x="709.09" y="681.78" width="18.18" height="18.18" fill="#00fc23"/>
<rect x="727.27" y="681.78" width="18.18" height="18.18" fill="#00fc1a"/>
<rect x="745.45" y="681.78" width="18.18" height="18.18" fill="#00fc15"/>
<rect x="763.64" y="681.78" width="18.18" height="18.18" fill="#00fc11"/>
<rect x="781.82" y="681.78" width="18.18" height="18.18" fill="#00fc0d"/>
<rect x="0.00" y="699.96" width="18.18" height="18.18" fill="#0080ff"/>
<rect x="18.18" y="699.96" width="18.18" height="18.18" fill="#0087ff"/>
<rect x="36.36" y="699.96" width="18.18" height="18.18" fill="#008eff"/>
<rect x="54.55" y="699.96" width="18.18" height="18.18" fill="#0095ff"/>
<rect x="72.73" y="699.96" width="18.18" height="18.18" fill="#009cff"/>
<rect x="90.91" y="699.96" width="18.18" height="18.18" fill="#00a3ff"/>
<rect x="109.09" y="699.96" width="18.18" height="18.18" fill="#00a8ff"/>
<rect x="127.27" y="699.96" width="18.18" height="18.18" fill="#00adff"/>
<rect x="145.45" y="699.96" width="18.18" height="18.18" fill="#00b2ff"/>
<rect x="163.64" y="699.96" width="18.18" height="18.18" fill="#00bcff"/>
<rect x="181.82" y="699.96" width="18.18" height="18.18" fill="#00c6ff"/>
<rect x="200.00" y="699.96" width="18.18" height="18.18" fill="#00c9ff"/>
<rect x="218.18" y="699.96" width="18.18" height="18.18" fill="#00cfff"/>
<rect x="236.36" y="699.96" width="18.18" height="18.18" fill="#00d6ff"/>
<rect x="254.55" y="699.96" width="18.18" height="18.18" fill="#00deff"/>
<rect x="272.73" y="699.96" width="18.18" height="18.18" fill="#00e6ff"/>
<rect x="290.91" y="699.96" width="18.18" height="18.18" fill="#00edff"/>
<rect x="309.09" y="699.96" width="18.18" height="18.18" fill="#00f5ff"/>
<rect x="327.27" y="699.96" width="18.18" height="18.18" fill="#00faff"/>
<rect x="345.45" y="699.96" width="18.18" height="18.18" fill="#00ffff"/>
<rect x="363.64" y="699.96" width="18.18" height="18.18" fill="#00ffef"/>
<rect x="381.82" y="699.96" width="18.18" height="18.18" fill="#00ffdf"/>
<rect x="400.00" y="699.96" width="36.36" height="18.18" fill="#00fec6"/>
<rect x="436.36" y="699.96" width="18.18" height="18.18" fill="#00feb3"/>
<rect x="454.55" y="699.96" width="54.55" height="18.18" fill="#00fe99"/>
<rect x="509.09" y="699.96" width="36.36" height="18.18" fill="#00fd66"/>
<rect x="545.45" y="699.96" width="72.73" height="18.18" fill="#00fd40"/>
<rect x="618.18" y="699.96" width="18.18" height="18.18" fill="#00fd35"/>
<rect x="636.36" y="699.96" width="18.18" height="18.18" fill="#00fc2a"/>
<rect x="654.55" y="699.96" width="18.18" height="18.18" fill="#00fc20"/>
<rect x="672.73" y="699.96" width="18.18" height="18.18" fill="#00fc1d"/>
<rect x="690.91" y="699.96" width="18.18" height="18.18" fill="#00fc1a"/>
<rect x="709.09" y="699.96" width="18.18" height="18.18" fill="#00fc16"/>
<rect x="727.27" y="699.96" width="72.73" height="18.18" fill="#00fc13"/>
<rect x="0.00" y="718.14" width="18.18" height="18.18" fill="#0086ff"/>
<rect x="18.18" y="718.14" width="18.18" height="18.18" fill="#008dff"/>
<rect x="36.36" y="718.14" width="18.18" height="18.18" fill="#0094ff"/>
<rect x="54.55" y="718.14" width="18.18" height="18.18" fill="#009bff"/>
<rect x="72.73" y="718.14" width="18.18" height="18.18" fill="#00a2ff"/>
<rect x="90.91" y="718.14" width="18.18" height="18.18" fill="#00a9ff"/>
<rect x="109.09" y="718.14" width="18.18" height="18.18" fill="#00b1ff"/>
<rect x="127.27" y="718.14" width="18.18" height="18.18" fill="#00baff"/>
<rect x="145.45" y="718.14" width="18.18" height="18.18" fill="#00c2ff"/>
<rect x="163.64" y="718.14" width="18.18" height="18.18" fill="#00c4ff"/>
<rect x="181.82" y="718.14" width="18.18" height="18.18" fill="#00c6ff"/>
<rect x="200.00" y="718.14" width="18.18" height="18.18" fill="#00cfff"/>
<rect x="218.18" y="718.14" width="18.18" height="18.18" fill="#00d4ff"/>
<rect x="236.36" y="718.14" width="18.18" height="18.18" fill="#00d9ff"/>
<rect x="254.55" y="718.14" width="18.18" height="18.18" fill="#00dfff"/>
<rect x="272.73" y="718.14" width="18.18" height="18.18" fill="#00e6ff"/>
<rect x="290.91" y="718.14" width="18.18" height="18.18" fill="#00efff"/>
<rect x="309.09" y="718.14" width="18.18" height="18.18" fill="#00f9ff"/>
<rect x="327.27" y="718.14" width="18.18" height="18.18" fill="#00faff"/>
<rect x="345.45" y="718.14" width="18.18" height="18.18" fill="#00fcff"/>
<rect x="363.64" y="718.14" width="18.18" height="18.18" fill="#00fff9"/>
<rect x="381.82" y="718.14" width="18.18" height="18.18" fill="#00ffec"/>
<rect x="400.00" y="718.14" width="18.18" height="18.18" fill="#00fec6"/>
<rect x="418.18" y="718.14" width="18.18" height="18.18" fill="#00fecc"/>
<rect x="436.36" y="718.14" width="72.73" height="18.18" fill="#00ffe5"/>
<rect x="509.09" y="718.14" width="36.36" height="18.18" fill="#00fec6"/>
<rect x="545.45" y="718.14" width="54.55" height="18.18" fill="#00fe99"/>
<rect x="600.00" y="718.14" width="18.18" height="18.18" fill="#00fd6c"/>
<rect x="618.18" y="718.14" width="18.18" height="18.18" fill="#00fd62"/>
<rect x="636.36" y="718.14" width="18.18" height="18.18" fill="#00fd57"/>
<rect x="654.55" y="718.14" width="18.18" height="18.18" fill="#00fd4c"/>
<rect x="672.73" y="718.14" width="18.18" height="18.18" fill="#00fd48"/>
<rect x="690.91" y="718.14" width="18.18" height="18.18" fill="#00fd44"/>
<rect x="709.09" y="718.14" width="18.18" height="18.18" fill="#00fd40"/>
<rect x="727.27" y="718.14" width="18.18" height="18.18" fill="#00fd3d"/>
<rect x="745.45" y="718.14" width="18.18" height="18.18" fill="#00fd39"/>
<rect x="763.64" y="718.14" width="18.18" height="18.18" fill="#00fd36"/>
<rect x="781.82" y="718.14" width="18.18" height="18.18" fill="#00fd33"/>
<rect x="0.00" y="736.32" width="18.18" height="18.18" fill="#0089ff"/>
<rect x="18.18" y="736.32" width="18.18" height="18.18" fill="#0092ff"/>
<rect x="36.36" y="736.32" width="18.18" height="18.18" fill="#009bff"/>
<rect x="54.55" y="736.32" width="18.18" height="18.18" fill="#00a4ff"/>
<rect x="72.73" y="736.32" width="18.18" height="18.18" fill="#00adff"/>
<rect x="90.91" y="736.32" width="18.18" height="18.18" fill="#00b6ff"/>
<rect x="109.09" y="736.32" width="18.18" height="18.18" fill="#00bcff"/>
<rect x="127.27" y="736.32" width="18.18" height="18.18" fill="#00c2ff"/>
<rect x="145.45" y="736.32" width="18.18" height="18.18" fill="#00c9ff"/>
<rect x="163.64" y="736.32" width="18.18" height="18.18" fill="#00ceff"/>
<rect x="181.82" y="736.32" width="18.18" height="18.18" fill="#00d2ff"/>
<rect x="200.00" y="736.32" width="18.18" height="18.18" fill="#00d6ff"/>
<rect x="218.18" y="736.32" width="18.18" height="18.18" fill="#00daff"/>
<rect x="236.36" y="736.32" width="18.18" height="18.18" fill="#00dfff"/>
<rect x="254.55" y="736.32" width="18.18" height="18.18" fill="#00e4ff"/>
<rect x="272.73" y="736.32" width="18.18" height="18.18" fill="#00e9ff"/>
<rect x="290.91" y="736.32" width="18.18" height="18.18" fill="#00f2ff"/>
<rect x="309.09" y="736.32" width="18.18" height="18.18" fill="#00fcff"/>
<rect x="327.27" y="736.32" width="18.18" height="18.18" fill="#00f7ff"/>
<rect x="345.45" y="736.32" width="18.18" height="18.18" fill="#00f2ff"/>
<rect x="363.64" y="736.32" width="18.18" height="18.18" fill="#00fcff"/>
<rect x="381.82" y="736.32" width="18.18" height="18.18" fill="#00fff2"/>
<rect x="400.00" y="736.32" width="18.18" height="18.18" fill="#00fec6"/>
<rect x="418.18" y="736.32" width="18.18" height="18.18" fill="#00fed2"/>
<rect x="436.36" y="736.32" width="18.18" height="18.18" fill="#00ffe5"/>
<rect x="454.55" y="736.32" width="54.55" height="18.18" fill="#00fcff"/>
<rect x="509.09" y="736.32" width="36.36" height="18.18" fill="#00fff2"/>
<rect x="545.45" y="736.32" width="54.55" height="18.18" fill="#00fec6"/>
<rect x="600.00" y="736.32" width="18.18" height="18.18" fill="#00fe99"/>
<rect x="618.18" y="736.32" width="18.18" height="18.18" fill="#00fe8f"/>
<rect x="636.36" y="736.32" width="18.18" height="18.18" fill="#00fe86"/>
<rect x="654.55" y="736.32" width="18.18" height="18.18" fill="#00fd7c"/>
<rect x="672.73" y="736.32" width="18.18" height="18.18" fill="#00fd73"/>
<rect x="690.91" y="736.32" width="18.18" height="18.18" fill="#00fd6c"/>
<rect x="709.09" y="736.32" width="18.18" height="18.18" fill="#00fd66"/>
<rect x="727.27" y="736.32" width="18.18" height="18.18" fill="#00fd60"/>
<rect x="745.45" y="736.32" width="18.18" height="18.18" fill="#00fd5b"/>
<rect x="763.64" y="736.32" width="18.18" height="18.18" fill="#00fd57"/>
<rect x="781.82" y="736.32" width="18.18" height="18.18" fill="#00fd53"/>
<rect x="0.00" y="754.50" width="18.18" height="17.50" fill="#008cff"/>
<rect x="18.18" y="754.50" width="18.18" height="17.50" fill="#0095ff"/>
<rect x="36.36" y="754.50" width="18.18" height="17.50" fill="#009eff"/>
<rect x="54.55" y="754.50" width="18.18" height="17.50" fill="#00a7ff"/>
<rect x="72.73" y="754.50" width="18.18" height="17.50" fill="#00b0ff"/>
<rect x="90.91" y="754.50" width="18.18" height="17.50" fill="#00b9ff"/>
<rect x="109.09" y="754.50" width="18.18" height="17.50" fill="#00c0ff"/>
<rect x="127.27" y="754.50" width="18.18" height="17.50" fill="#00c8ff"/>
<rect x="145.45" y="754.50" width="18.18" height="17.50" fill="#00cfff"/>
<rect x="163.64" y="754.50" width="18.18" height="17.50" fill="#00d4ff"/>
<rect x="181.82" y="754.50" width="36.36" height="17.50" fill="#00d9ff"/>
<rect x="218.18" y="754.50" width="18.18" height="17.50" fill="#00dcff"/>
<rect x="236.36" y="754.50" width="18.18" height="17.50" fill="#00dfff"/>
<rect x="254.55" y="754.50" width="18.18" height="17.50" fill="#00e4ff"/>
<rect x="272.73" y="754.50" width="18.18" height="17.50" fill="#00e9ff"/>
<rect x="290.91" y="754.50" width="18.18" height="17.50" fill="#00f2ff"/>
<rect x="309.09" y="754.50" width="18.18" height="17.50" fill="#00fcff"/>
<rect x="327.27" y="754.50" width="18.18" height="17.50" fill="#00f7ff"/>
<rect x="345.45" y="754.50" width="18.18" height="17.50" fill="#00f2ff"/>
<rect x="363.64" y="754.50" width="18.18" height="17.50" fill="#00fcff"/>
<rect x="381.82" y="754.50" width="18.18" height="17.50" fill="#00fff2"/>
<rect x="400.00" y="754.50" width="18.18" height="17.50" fill="#00fec6"/>
<rect x="418.18" y="754.50" width="18.18" height="17.50" fill="#00fed2"/>
<rect x="436.36" y="754.50" width="18.18" height="17.50" fill="#00ffe5"/>
<rect x="454.55" y="754.50" width="54.55" height="17.50" fill="#00f9ff"/>
<rect x="509.09" y="754.50" width="36.36" height="17.50" fill="#00fff2"/>
<rect x="545.45" y="754.50" width="54.55" height="17.50" fill="#00fec6"/>
<rect x="600.00" y="754.50" width="18.18" height="17.50" fill="#00fea6"/>
<rect x="618.18" y="754.50" width="18.18" height="17.50" fill="#00fe9f"/>
<rect x="636.36" y="754.50" width="18.18" height="17.50" fill="#00fe99"/>
<rect x="654.55" y="754.50" width="18.18" height="17.50" fill="#00fe93"/>
<rect x="672.73" y="754.50" width="18.18" height="17.50" fill="#00fe8c"/>
<rect x="690.91" y="754.50" width="18.18" height="17.50" fill="#00fe86"/>
<rect x="709.09" y="754.50" width="18.18" height="17.50" fill="#00fe80"/>
<rect x="727.27" y="754.50" width="18.18" height="17.50" fill="#00fd79"/>
<rect x="745.45" y="754.50" width="18.18" height="17.50" fill="#00fd75"/>
<rect x="763.64" y="754.50" width="18.18" height="17.50" fill="#00fd71"/>
<rect x="781.82" y="754.50" width="18.18" height="17.50" fill="#00fd6c"/>
</g>
<path d="M718.2 35.7L729.4 27.3M729.4 27.3L722.5 28.1M729.4 27.3L726.7 33.7M772.7 35.7L785.7 25.6M785.7 25.6L777.5 26.7M785.7 25.6L782.6 33.2M790.9 35.7L806.5 23.5M806.5 23.5L796.7 24.9M806.5 23.5L802.8 32.7M700.0 53.9L711.9 45.1M711.9 45.1L704.6 45.9M711.9 45.1L709.0 51.9M718.2 53.9L731.0 44.1M731.0 44.1L723.0 45.1M731.0 44.1L727.9 51.5M754.5 53.9L768.3 42.9M768.3 42.9L759.6 44.2M768.3 42.9L765.1 51.1M772.7 53.9L788.9 40.9M788.9 40.9L778.7 42.5M788.9 40.9L785.1 50.6M790.9 53.9L807.8 40.4M807.8 40.4L797.1 42.0M807.8 40.4L803.9 50.4M681.8 72.0L695.6 61.8M695.6 61.8L687.1 62.8M695.6 61.8L692.2 69.7M700.0 72.0L714.8 59.8M714.8 59.8L705.3 61.4M714.8 59.8L711.5 68.8M718.2 72.0L733.6 58.8M733.6 58.8L723.6 60.7M733.6 58.8L730.2 68.4M736.4 72.0L752.3 58.0M752.3 58.0L741.9 60.1M752.3 58.0L748.9 68.0M754.5 72.0L770.7 57.7M770.7 57.7L760.1 59.9M770.7 57.7L767.3 67.9M772.7 72.0L788.9 57.7M788.9 57.7L778.3 59.9M788.9 57.7L785.5 67.9M790.9 72.0L807.1 57.7M807.1 57.7L796.5 59.9M807.1 57.7L803.7 67.9M663.6 90.2L672.9 82.9M672.9 82.9L667.0 83.8M672.9 82.9L670.7 88.4M681.8 90.2L694.9 79.0M694.9 79.0L686.4 80.6M694.9 79.0L692.0 87.2M700.0 90.2L714.7 76.1M714.7 76.1L704.8 78.6M714.7 76.1L711.8 85.9M718.2 90.2L733.5 75.0M733.5 75.0L723.1 77.7M733.5 75.0L730.7 85.4M736.4 90.2L751.6 74.8M751.6 74.8L741.1 77.7M751.6 74.8L748.8 85.3M754.5 90.2L769.7 74.8M769.7 74.8L759.3 77.7M769.7 74.8L767.0 85.3M772.7 90.2L787.9 74.8M787.9 74.8L777.5 77.7M787.9 74.8L785.2 85.3M790.9 90.2L806.1 74.8M806.1 74.8L795.7 77.7M806.1 74.8L803.4 85.3M681.8 108.4L693.9 94.4M693.9 94.4L685.2 97.4M693.9 94.4L692.2 103.5M700.0 108.4L712.9 92.2M712.9 92.2L703.3 96.0M712.9 92.2L711.4 102.4M718.2 108.4L730.3 92.7M730.3 92.7L721.1 96.5M730.3 92.7L729.0 102.5M736.4 108.4L748.3 92.6M748.3 92.6L739.2 96.5M748.3 92.6L747.1 102.4M754.5 108.4L766.1 93.0M766.1 93.0L757.3 96.8M766.1 93.0L765.0 102.6M772.7 108.4L785.0 92.2M785.0 92.2L775.6 96.1M785.0 92.2L783.7 102.3M790.9 108.4L803.9 91.1M803.9 91.1L794.0 95.4M803.9 91.1L802.6 101.9M663.6 126.6L674.9 109.9M674.9 109.9L665.8 114.3M674.9 109.9L674.2 119.9M681.8 126.6L692.9 109.5M692.9 109.5L683.8 114.1M692.9 109.5L692.4 119.7M700.0 126.6L709.8 110.7M709.8 110.7L701.6 115.1M709.8 110.7L709.5 120.0M718.2 126.6L727.5 111.0M727.5 111.0L719.6 115.4M727.5 111.0L727.4 120.1M736.4 126.6L745.8 110.6M745.8 110.6L737.7 115.2M745.8 110.6L745.7 119.9M754.5 126.6L764.2 110.2M764.2 110.2L755.9 114.9M764.2 110.2L764.1 119.7M772.7 126.6L783.0 109.0M783.0 109.0L774.2 114.1M783.0 109.0L783.0 119.2M790.9 126.6L801.9 107.9M801.9 107.9L792.5 113.3M801.9 107.9L801.8 118.7M645.5 144.8L653.8 129.7M653.8 129.7L646.4 134.2M653.8 129.7L654.0 138.3M663.6 144.8L673.6 127.2M673.6 127.2L664.9 132.3M673.6 127.2L673.7 137.3M681.8 144.8L691.2 128.0M691.2 128.0L682.9 132.9M691.2 128.0L691.3 137.6M700.0 144.8L708.7 128.8M708.7 128.8L700.9 133.6M708.7 128.8L708.9 137.9M718.2 144.8L726.7 128.8M726.7 128.8L719.0 133.6M726.7 128.8L727.0 137.8M736.4 144.8L744.7 128.7M744.7 128.7L737.1 133.6M744.7 128.7L745.1 137.7M754.5 144.8L763.3 127.9M763.3 127.9L755.3 133.0M763.3 127.9L763.7 137.4M772.7 144.8L782.3 126.4M782.3 126.4L773.5 132.0M782.3 126.4L782.7 136.7M790.9 144.8L800.9 125.6M800.9 125.6L791.8 131.4M800.9 125.6L801.4 136.4M645.5 163.0L653.8 145.6M653.8 145.6L645.9 151.0M653.8 145.6L654.5 155.2M663.6 163.0L672.7 144.3M672.7 144.3L664.1 150.1M672.7 144.3L673.4 154.6M681.8 163.0L690.4 145.1M690.4 145.1L682.2 150.7M690.4 145.1L691.2 155.0M700.0 163.0L708.1 146.3M708.1 146.3L700.4 151.5M708.1 146.3L708.7 155.5M718.2 163.0L726.1 146.2M726.1 146.2L718.5 151.5M726.1 146.2L726.9 155.5M736.4 163.0L744.2 146.2M744.2 146.2L736.6 151.5M744.2 146.2L745.0 155.4M754.5 163.0L762.6 145.5M762.6 145.5L754.8 151.0M762.6 145.5L763.5 155.1M772.7 163.0L781.5 144.2M781.5 144.2L773.0 150.1M781.5 144.2L782.4 154.5M790.9 163.0L800.0 143.3M800.0 143.3L791.2 149.5M800.0 143.3L801.0 154.1M627.3 181.1L636.2 161.8M636.2 161.8L627.5 167.9M636.2 161.8L637.1 172.4M645.5 181.1L654.5 161.5M654.5 161.5L645.7 167.7M654.5 161.5L655.5 172.3M663.6 181.1L672.6 161.8M672.6 161.8L663.9 167.9M672.6 161.8L673.5 172.4M681.8 181.1L690.4 162.7M690.4 162.7L682.0 168.5M690.4 162.7L691.3 172.8M700.0 181.1L708.0 163.8M708.0 163.8L700.2 169.3M708.0 163.8L708.9 173.3M718.2 181.1L726.1 163.8M726.1 163.8L718.4 169.3M726.1 163.8L727.0 173.3M736.4 181.1L744.2 163.8M744.2 163.8L736.5 169.3M744.2 163.8L745.2 173.3M754.5 181.1L762.6 163.3M762.6 163.3L754.7 169.0M762.6 163.3L763.6 173.0M772.7 181.1L781.4 162.1M781.4 162.1L772.9 168.2M781.4 162.1L782.4 172.5M790.9 181.1L799.9 161.4M799.9 161.4L791.1 167.7M799.9 161.4L800.9 172.2M609.1 199.3L616.7 181.6M616.7 181.6L609.0 187.4M616.7 181.6L617.8 191.2M627.3 199.3L636.1 179.3M636.1 179.3L627.3 185.8M636.1 179.3L637.3 190.2M645.5 199.3L654.2 179.5M654.2 179.5L645.5 185.9M654.2 179.5L655.4 190.3M663.6 199.3L672.4 179.5M672.4 179.5L663.7 185.9M672.4 179.5L673.6 190.3M681.8 199.3L690.3 180.2M690.3 180.2L681.8 186.4M690.3 180.2L691.4 190.6M700.0 199.3L707.9 181.4M707.9 181.4L700.0 187.2M707.9 181.4L709.0 191.1M718.2 199.3L726.1 181.4M726.1 181.4L718.2 187.2M726.1 181.4L727.2 191.1M736.4 199.3L744.3 181.4M744.3 181.4L736.4 187.2M744.3 181.4L745.4 191.1M754.5 199.3L762.7 180.9M762.7 180.9L754.6 186.8M762.7 180.9L763.8 190.9M772.7 199.3L781.3 179.8M781.3 179.8L772.7 186.1M781.3 179.8L782.5 190.4M790.9 199.3L799.6 179.5M799.6 179.5L790.9 185.9M799.6 179.5L800.8 190.3M590.9 217.5L597.6 201.6M597.6 201.6L590.7 206.8M597.6 201.6L598.7 210.2M609.1 217.5L617.6 197.6M617.6 197.6L608.9 204.1M617.6 197.6L618.9 208.3M627.3 217.5L635.9 197.6M635.9 197.6L627.2 204.1M635.9 197.6L637.1 208.4M645.5 217.5L654.1 197.6M654.1 197.6L645.4 204.1M654.1 197.6L655.3 208.4M663.6 217.5L672.2 197.6M672.2 197.6L663.5 204.1M672.2 197.6L673.5 208.4M681.8 217.5L690.3 198.0M690.3 198.0L681.7 204.3M690.3 198.0L691.5 208.5M700.0 217.5L708.0 199.0M708.0 199.0L699.9 205.0M708.0 199.0L709.2 209.0M718.2 217.5L726.2 199.0M726.2 199.0L718.1 205.0M726.2 199.0L727.3 209.0M736.4 217.5L744.4 199.0M744.4 199.0L736.3 205.0M744.4 199.0L745.5 209.0M754.5 217.5L762.7 198.4M762.7 198.4L754.4 204.7M762.7 198.4L763.9 208.7M772.7 217.5L781.1 197.5M781.1 197.5L772.5 204.1M781.1 197.5L782.5 208.3M790.9 217.5L799.3 197.5M799.3 197.5L790.7 204.1M799.3 197.5L800.7 208.3M572.7 235.7L578.2 222.3M578.2 222.3L572.5 226.7M578.2 222.3L579.2 229.5M590.9 235.7L599.0 216.6M599.0 216.6L590.7 222.8M599.0 216.6L600.3 226.9M609.1 235.7L617.5 215.7M617.5 215.7L608.9 222.3M617.5 215.7L618.9 226.5M627.3 235.7L635.7 215.7M635.7 215.7L627.1 222.3M635.7 215.7L637.0 226.5M645.5 235.7L653.4 216.9M653.4 216.9L645.3 223.1M653.4 216.9L654.6 227.0M663.6 235.7L671.3 217.4M671.3 217.4L663.4 223.4M671.3 217.4L672.6 227.3M681.8 235.7L689.5 217.4M689.5 217.4L681.6 223.4M689.5 217.4L690.7 227.3M700.0 235.7L707.8 217.3M707.8 217.3L699.8 223.3M707.8 217.3L709.0 227.2M718.2 235.7L726.3 216.4M726.3 216.4L718.0 222.7M726.3 216.4L727.6 226.8M736.4 235.7L744.8 215.7M744.8 215.7L736.2 222.3M744.8 215.7L746.1 226.5M754.5 235.7L762.8 215.7M762.8 215.7L754.2 222.3M762.8 215.7L764.2 226.4M772.7 235.7L781.2 214.7M781.2 214.7L772.3 221.7M781.2 214.7L782.8 225.9M790.9 235.7L799.4 214.6M799.4 214.6L790.4 221.6M799.4 214.6L801.0 225.8M554.5 253.9L560.7 238.4M560.7 238.4L554.2 243.5M560.7 238.4L561.9 246.6M572.7 253.9L580.0 236.2M580.0 236.2L572.4 242.0M580.0 236.2L581.2 245.7M590.9 253.9L599.0 234.6M599.0 234.6L590.7 240.9M599.0 234.6L600.3 245.0M609.1 253.9L617.5 233.9M617.5 233.9L608.8 240.4M617.5 233.9L618.8 244.6M627.3 253.9L635.5 233.8M635.5 233.8L627.0 240.4M635.5 233.8L637.0 244.6M645.5 253.9L653.2 235.0M653.2 235.0L645.1 241.2M653.2 235.0L654.6 245.1M663.6 253.9L671.2 235.5M671.2 235.5L663.3 241.6M671.2 235.5L672.5 245.4M681.8 253.9L689.4 235.5M689.4 235.5L681.5 241.6M689.4 235.5L690.7 245.4M700.0 253.9L707.6 235.4M707.6 235.4L699.7 241.5M707.6 235.4L708.9 245.3M718.2 253.9L726.1 234.5M726.1 234.5L717.9 240.9M726.1 234.5L727.5 244.9M736.4 253.9L744.6 233.8M744.6 233.8L736.0 240.4M744.6 233.8L746.0 244.6M754.5 253.9L762.8 233.4M762.8 233.4L754.1 240.2M762.8 233.4L764.4 244.3M772.7 253.9L781.0 232.9M781.0 232.9L772.2 239.9M781.0 232.9L782.7 244.0M790.9 253.9L799.1 232.6M799.1 232.6L790.3 239.8M799.1 232.6L800.9 243.9M209.1 272.0L204.1 261.3M204.1 261.3L203.6 267.2M204.1 261.3L209.0 264.7M554.5 272.0L561.8 253.6M561.8 253.6L554.1 259.8M561.8 253.6L563.3 263.4M572.7 272.0L580.7 252.7M580.7 252.7L572.4 259.1M580.7 252.7L582.1 263.1M590.9 272.0L599.3 252.3M599.3 252.3L590.7 258.7M599.3 252.3L600.6 262.9M609.1 272.0L617.4 252.1M617.4 252.1L608.8 258.7M617.4 252.1L618.8 262.8M627.3 272.0L635.4 252.0M635.4 252.0L626.9 258.6M635.4 252.0L636.9 262.7M645.5 272.0L653.1 253.2M653.1 253.2L645.1 259.4M653.1 253.2L654.5 263.2M663.6 272.0L670.8 254.2M670.8 254.2L663.3 260.1M670.8 254.2L672.2 263.7M681.8 272.0L689.2 253.7M689.2 253.7L681.4 259.8M689.2 253.7L690.6 263.5M700.0 272.0L707.5 253.5M707.5 253.5L699.6 259.7M707.5 253.5L708.9 263.4M718.2 272.0L726.0 252.6M726.0 252.6L717.8 259.1M726.0 252.6L727.5 263.0M736.4 272.0L744.5 252.0M744.5 252.0L735.9 258.6M744.5 252.0L746.0 262.7M754.5 272.0L762.7 251.5M762.7 251.5L754.0 258.3M762.7 251.5L764.3 262.4M772.7 272.0L780.9 251.0M780.9 251.0L772.1 258.1M780.9 251.0L782.6 262.1M790.9 272.0L799.0 250.4M799.0 250.4L790.1 257.7M799.0 250.4L800.9 261.8M209.1 290.2L204.4 279.6M204.4 279.6L203.8 285.4M204.4 279.6L209.1 283.0M227.3 290.2L223.1 280.0M223.1 280.0L222.3 285.5M223.1 280.0L227.5 283.4M245.5 290.2L242.0 279.6M242.0 279.6L240.9 285.1M242.0 279.6L246.2 283.3M263.6 290.2L261.3 279.9M261.3 279.9L259.7 285.0M261.3 279.9L264.9 283.8M281.8 290.2L280.0 279.2M280.0 279.2L278.0 284.4M280.0 279.2L283.5 283.5M536.4 290.2L542.6 272.6M542.6 272.6L535.5 278.7M542.6 272.6L544.3 281.8M554.5 290.2L562.3 270.6M562.3 270.6L554.0 277.2M562.3 270.6L563.8 281.0M572.7 290.2L581.0 270.0M581.0 270.0L572.4 276.7M581.0 270.0L582.5 280.8M590.9 290.2L599.3 270.3M599.3 270.3L590.7 276.8M599.3 270.3L600.7 281.0M609.1 290.2L617.4 270.2M617.4 270.2L608.8 276.8M617.4 270.2L618.8 281.0M627.3 290.2L635.4 270.2M635.4 270.2L626.9 276.8M635.4 270.2L636.9 280.9M645.5 290.2L653.1 271.3M653.1 271.3L645.1 277.6M653.1 271.3L654.5 281.4M663.6 290.2L670.8 272.4M670.8 272.4L663.3 278.3M670.8 272.4L672.2 281.9M681.8 290.2L689.0 272.5M689.0 272.5L681.4 278.4M689.0 272.5L690.3 282.0M700.0 290.2L707.3 272.0M707.3 272.0L699.6 278.1M707.3 272.0L708.7 281.7M718.2 290.2L726.0 270.8M726.0 270.8L717.8 277.3M726.0 270.8L727.5 281.2M736.4 290.2L744.5 270.1M744.5 270.1L735.9 276.8M744.5 270.1L746.0 280.9M754.5 290.2L762.9 269.2M762.9 269.2L754.0 276.2M762.9 269.2L764.5 280.4M772.7 290.2L781.1 268.6M781.1 268.6L772.1 275.9M781.1 268.6L782.8 280.1M790.9 290.2L799.6 267.0M799.6 267.0L790.1 274.9M799.6 267.0L801.7 279.2M227.3 308.4L223.6 298.2M223.6 298.2L222.6 303.5M223.6 298.2L227.7 301.7M245.5 308.4L242.0 296.1M242.0 296.1L240.4 302.3M242.0 296.1L246.6 300.6M263.6 308.4L261.0 294.8M261.0 294.8L258.8 301.3M261.0 294.8L265.6 300.0M281.8 308.4L279.9 294.1M279.9 294.1L277.2 300.7M279.9 294.1L284.3 299.8M300.0 308.4L298.9 294.2M298.9 294.2L295.8 300.6M298.9 294.2L302.9 300.1M318.2 308.4L317.6 296.0M317.6 296.0L314.8 301.5M317.6 296.0L320.9 301.2M500.0 308.4L504.5 291.8M504.5 291.8L498.4 297.9M504.5 291.8L506.7 300.1M518.2 308.4L523.7 290.7M523.7 290.7L516.9 297.0M523.7 290.7L525.7 299.8M536.4 308.4L543.1 289.4M543.1 289.4L535.4 295.9M543.1 289.4L544.9 299.3M554.5 308.4L562.4 288.4M562.4 288.4L554.0 295.1M562.4 288.4L564.0 299.1M572.7 308.4L581.0 288.4M581.0 288.4L572.4 295.0M581.0 288.4L582.4 299.1M590.9 308.4L599.3 288.5M599.3 288.5L590.7 295.0M599.3 288.5L600.7 299.2M609.1 308.4L617.4 288.4M617.4 288.4L608.8 295.0M617.4 288.4L618.8 299.1M627.3 308.4L635.4 288.3M635.4 288.3L626.9 295.0M635.4 288.3L636.9 299.1M645.5 308.4L653.5 288.5M653.5 288.5L645.0 295.1M653.5 288.5L655.0 299.1M663.6 308.4L670.8 290.6M670.8 290.6L663.3 296.5M670.8 290.6L672.2 300.1M681.8 308.4L689.0 290.7M689.0 290.7L681.4 296.6M689.0 290.7L690.3 300.2M700.0 308.4L707.3 290.2M707.3 290.2L699.6 296.2M707.3 290.2L708.7 299.9M718.2 308.4L726.0 289.0M726.0 289.0L717.8 295.4M726.0 289.0L727.5 299.4M736.4 308.4L744.5 288.3M744.5 288.3L735.9 295.0M744.5 288.3L746.0 299.0M754.5 308.4L763.1 286.9M763.1 286.9L754.0 294.1M763.1 286.9L764.7 298.3M772.7 308.4L781.5 285.8M781.5 285.8L772.0 293.4M781.5 285.8L783.3 297.8M790.9 308.4L799.6 285.2M799.6 285.2L790.1 293.1M799.6 285.2L801.7 297.4M263.6 326.6L261.6 314.4M261.6 314.4L259.4 320.2M261.6 314.4L265.5 319.1M281.8 326.6L280.2 312.8M280.2 312.8L277.5 319.2M280.2 312.8L284.4 318.4M300.0 326.6L298.9 310.1M298.9 310.1L295.3 317.5M298.9 310.1L303.5 317.0M318.2 326.6L317.5 309.9M317.5 309.9L313.7 317.3M317.5 309.9L322.0 317.0M336.4 326.6L336.2 309.6M336.2 309.6L332.0 317.0M336.2 309.6L340.5 316.9M354.5 326.6L354.5 310.1M354.5 310.1L350.4 317.3M354.5 310.1L358.6 317.2M372.7 326.6L372.7 310.3M372.7 310.3L368.7 317.3M372.7 310.3L376.8 317.3M390.9 326.6L391.1 310.5M391.1 310.5L387.0 317.4M391.1 310.5L395.1 317.5M409.1 326.6L409.6 310.3M409.6 310.3L405.3 317.2M409.6 310.3L413.4 317.5M427.3 326.6L428.4 310.4M428.4 310.4L423.9 317.1M428.4 310.4L431.9 317.7M445.5 326.6L447.3 310.6M447.3 310.6L442.5 317.0M447.3 310.6L450.5 318.0M463.6 326.6L466.4 310.1M466.4 310.1L461.1 316.6M466.4 310.1L469.3 317.9M481.8 326.6L485.6 309.6M485.6 309.6L479.7 316.0M485.6 309.6L488.2 317.9M500.0 326.6L504.7 309.1M504.7 309.1L498.3 315.5M504.7 309.1L507.0 317.8M518.2 326.6L523.9 308.4M523.9 308.4L516.9 314.8M523.9 308.4L526.0 317.7M536.4 326.6L543.1 307.6M543.1 307.6L535.4 314.1M543.1 307.6L544.9 317.5M554.5 326.6L562.3 307.0M562.3 307.0L554.0 313.5M562.3 307.0L563.8 317.4M572.7 326.6L581.0 306.6M581.0 306.6L572.4 313.2M581.0 306.6L582.4 317.3M590.9 326.6L599.3 306.6M599.3 306.6L590.7 313.2M599.3 306.6L600.7 317.4M609.1 326.6L617.4 306.6M617.4 306.6L608.8 313.2M617.4 306.6L618.8 317.3M627.3 326.6L635.4 306.5M635.4 306.5L626.9 313.2M635.4 306.5L636.9 317.2M645.5 326.6L653.5 306.7M653.5 306.7L645.0 313.3M653.5 306.7L655.0 317.3M663.6 326.6L671.3 307.7M671.3 307.7L663.2 314.0M671.3 307.7L672.7 317.8M681.8 326.6L689.0 308.9M689.0 308.9L681.4 314.8M689.0 308.9L690.3 318.3M700.0 326.6L707.3 308.4M707.3 308.4L699.6 314.4M707.3 308.4L708.7 318.1M718.2 326.6L726.0 307.2M726.0 307.2L717.8 313.6M726.0 307.2L727.5 317.5M736.4 326.6L744.5 306.5M744.5 306.5L735.9 313.2M744.5 306.5L746.0 317.2M754.5 326.6L763.1 305.1M763.1 305.1L754.0 312.3M763.1 305.1L764.7 316.5M772.7 326.6L781.5 304.0M781.5 304.0L772.0 311.6M781.5 304.0L783.3 315.9M790.9 326.6L799.6 303.4M799.6 303.4L790.1 311.2M799.6 303.4L801.7 315.6M300.0 344.8L299.0 328.1M299.0 328.1L295.3 335.6M299.0 328.1L303.6 335.1M318.2 344.8L317.7 327.6M317.7 327.6L313.6 335.1M317.7 327.6L322.2 334.9M336.4 344.8L336.3 327.2M336.3 327.2L331.9 334.8M336.3 327.2L340.7 334.8M354.5 344.8L354.6 327.0M354.6 327.0L350.1 334.7M354.6 327.0L359.0 334.7M372.7 344.8L372.8 327.0M372.8 327.0L368.3 334.7M372.8 327.0L377.2 334.7M390.9 344.8L391.2 327.0M391.2 327.0L386.6 334.6M391.2 327.0L395.5 334.8M409.1 344.8L409.7 327.0M409.7 327.0L405.0 334.5M409.7 327.0L413.9 334.8M427.3 344.8L428.6 326.7M428.6 326.7L423.5 334.2M428.6 326.7L432.5 334.8M445.5 344.8L447.6 326.2M447.6 326.2L442.0 333.7M447.6 326.2L451.3 334.8M463.6 344.8L466.8 325.8M466.8 325.8L460.7 333.2M466.8 325.8L470.2 334.8M481.8 344.8L486.1 325.4M486.1 325.4L479.4 332.7M486.1 325.4L489.1 334.9M500.0 344.8L505.3 325.3M505.3 325.3L498.1 332.4M505.3 325.3L507.8 335.0M518.2 344.8L524.5 324.8M524.5 324.8L516.8 331.9M524.5 324.8L526.7 335.0M536.4 344.8L543.6 324.5M543.6 324.5L535.4 331.5M543.6 324.5L545.5 335.1M554.5 344.8L562.5 324.6M562.5 324.6L554.0 331.3M562.5 324.6L564.1 335.3M572.7 344.8L581.0 324.7M581.0 324.7L572.4 331.3M581.0 324.7L582.4 335.5M590.9 344.8L599.3 324.8M599.3 324.8L590.7 331.3M599.3 324.8L600.7 335.6M609.1 344.8L617.4 324.8M617.4 324.8L608.8 331.3M617.4 324.8L618.8 335.5M627.3 344.8L635.4 324.7M635.4 324.7L626.9 331.3M635.4 324.7L636.9 335.4M645.5 344.8L653.5 324.9M653.5 324.9L645.0 331.5M653.5 324.9L655.0 335.5M663.6 344.8L671.3 325.9M671.3 325.9L663.2 332.1M671.3 325.9L672.7 336.0M681.8 344.8L689.3 326.2M689.3 326.2L681.4 332.4M689.3 326.2L690.7 336.1M700.0 344.8L707.6 325.9M707.6 325.9L699.6 332.1M707.6 325.9L709.0 336.0M718.2 344.8L726.0 325.4M726.0 325.4L717.8 331.8M726.0 325.4L727.5 335.7M736.4 344.8L744.5 324.7M744.5 324.7L735.9 331.3M744.5 324.7L746.0 335.4M754.5 344.8L763.1 323.2M763.1 323.2L754.0 330.4M763.1 323.2L764.7 334.7M772.7 344.8L781.5 322.1M781.5 322.1L772.0 329.7M781.5 322.1L783.3 334.1M790.9 344.8L800.2 320.2M800.2 320.2L790.0 328.5M800.2 320.2L802.3 333.1M300.0 362.9L299.2 345.9M299.2 345.9L295.3 353.5M299.2 345.9L303.8 353.1M318.2 362.9L317.7 345.4M317.7 345.4L313.5 353.1M317.7 345.4L322.3 352.9M336.4 362.9L336.3 344.8M336.3 344.8L331.8 352.7M336.3 344.8L340.9 352.6M354.5 362.9L354.6 344.2M354.6 344.2L349.9 352.3M354.6 344.2L359.3 352.4M372.7 362.9L372.9 344.3M372.9 344.3L368.2 352.3M372.9 344.3L377.5 352.4M390.9 362.9L391.4 344.4M391.4 344.4L386.6 352.3M391.4 344.4L395.8 352.6M409.1 362.9L410.0 344.8M410.0 344.8L405.1 352.4M410.0 344.8L414.1 352.9M427.3 362.9L428.9 344.3M428.9 344.3L423.5 352.0M428.9 344.3L432.8 352.8M445.5 362.9L447.9 343.8M447.9 343.8L442.0 351.5M447.9 343.8L451.6 352.7M463.6 362.9L467.1 343.4M467.1 343.4L460.7 351.0M467.1 343.4L470.5 352.7M481.8 362.9L486.4 343.1M486.4 343.1L479.5 350.5M486.4 343.1L489.4 352.8M500.0 362.9L505.6 342.8M505.6 342.8L498.2 350.1M505.6 342.8L508.2 352.9M518.2 362.9L524.8 342.7M524.8 342.7L516.9 349.8M524.8 342.7L527.0 353.1M536.4 362.9L543.8 342.6M543.8 342.6L535.5 349.5M543.8 342.6L545.6 353.2M554.5 362.9L562.5 342.8M562.5 342.8L554.0 349.5M562.5 342.8L564.1 353.5M572.7 362.9L581.0 342.9M581.0 342.9L572.4 349.5M581.0 342.9L582.4 353.6M590.9 362.9L599.3 343.0M599.3 343.0L590.7 349.5M599.3 343.0L600.7 353.7M609.1 362.9L617.4 342.9M617.4 342.9L608.8 349.5M617.4 342.9L618.8 353.7M627.3 362.9L635.4 342.9M635.4 342.9L626.9 349.5M635.4 342.9L636.9 353.6M645.5 362.9L653.5 343.0M653.5 343.0L645.0 349.6M653.5 343.0L655.0 353.7M663.6 362.9L671.3 344.1M671.3 344.1L663.2 350.3M671.3 344.1L672.7 354.1M681.8 362.9L689.3 344.4M689.3 344.4L681.4 350.6M689.3 344.4L690.7 354.3M700.0 362.9L707.6 344.1M707.6 344.1L699.6 350.3M707.6 344.1L709.0 354.1M718.2 362.9L726.0 343.5M726.0 343.5L717.8 350.0M726.0 343.5L727.5 353.9M736.4 362.9L744.5 342.9M744.5 342.9L735.9 349.5M744.5 342.9L746.0 353.6M754.5 362.9L763.1 341.4M763.1 341.4L754.0 348.6M763.1 341.4L764.7 352.9M772.7 362.9L781.5 340.3M781.5 340.3L772.0 347.9M781.5 340.3L783.3 352.3M790.9 362.9L800.2 338.3M800.2 338.3L790.0 346.7M800.2 338.3L802.3 351.3M281.8 381.1L281.0 367.8M281.0 367.8L278.0 373.8M281.0 367.8L284.7 373.4M300.0 381.1L299.4 364.7M299.4 364.7L295.5 371.9M299.4 364.7L303.8 371.6M318.2 381.1L317.9 363.5M317.9 363.5L313.6 371.2M317.9 363.5L322.4 371.1M336.4 381.1L336.4 362.6M336.4 362.6L331.7 370.6M336.4 362.6L341.0 370.6M354.5 381.1L354.8 362.1M354.8 362.1L349.9 370.3M354.8 362.1L359.4 370.4M372.7 381.1L373.1 362.1M373.1 362.1L368.2 370.2M373.1 362.1L377.7 370.4M390.9 381.1L391.7 362.6M391.7 362.6L386.8 370.4M391.7 362.6L396.0 370.8M409.1 381.1L410.4 363.0M410.4 363.0L405.3 370.5M410.4 363.0L414.4 371.2M427.3 381.1L429.3 362.5M429.3 362.5L423.8 370.1M429.3 362.5L433.1 371.1M445.5 381.1L448.2 362.1M448.2 362.1L442.2 369.6M448.2 362.1L451.8 371.0M463.6 381.1L467.4 361.7M467.4 361.7L460.9 369.1M467.4 361.7L470.6 371.0M481.8 381.1L486.7 361.4M486.7 361.4L479.7 368.7M486.7 361.4L489.5 371.1M500.0 381.1L505.9 361.1M505.9 361.1L498.4 368.3M505.9 361.1L508.4 371.2M518.2 381.1L525.1 361.0M525.1 361.0L517.1 368.0M525.1 361.0L527.1 371.4M536.4 381.1L543.9 360.8M543.9 360.8L535.6 367.7M543.9 360.8L545.7 371.5M554.5 381.1L562.6 361.0M562.6 361.0L554.1 367.7M562.6 361.0L564.1 371.7M572.7 381.1L581.0 361.1M581.0 361.1L572.4 367.7M581.0 361.1L582.4 371.8M590.9 381.1L599.3 361.2M599.3 361.2L590.7 367.7M599.3 361.2L600.7 371.9M609.1 381.1L617.4 361.1M617.4 361.1L608.8 367.7M617.4 361.1L618.8 371.9M627.3 381.1L635.4 361.1M635.4 361.1L626.9 367.7M635.4 361.1L636.9 371.8M645.5 381.1L653.5 361.2M653.5 361.2L645.0 367.8M653.5 361.2L655.0 371.8M663.6 381.1L671.3 362.2M671.3 362.2L663.2 368.5M671.3 362.2L672.7 372.3M681.8 381.1L689.3 362.6M689.3 362.6L681.4 368.7M689.3 362.6L690.7 372.5M700.0 381.1L707.6 362.2M707.6 362.2L699.6 368.5M707.6 362.2L709.0 372.3M718.2 381.1L726.0 361.7M726.0 361.7L717.8 368.2M726.0 361.7L727.5 372.1M736.4 381.1L744.4 361.0M744.4 361.0L735.9 367.7M744.4 361.0L746.0 371.7M754.5 381.1L763.0 359.6M763.0 359.6L754.0 366.8M763.0 359.6L764.7 371.0M772.7 381.1L781.4 358.5M781.4 358.5L772.0 366.1M781.4 358.5L783.3 370.5M790.9 381.1L800.1 356.5M800.1 356.5L790.0 364.9M800.1 356.5L802.3 369.5M281.8 399.3L281.3 385.6M281.3 385.6L278.1 391.7M281.3 385.6L284.9 391.4M300.0 399.3L299.7 383.4M299.7 383.4L295.9 390.3M299.7 383.4L303.8 390.2M318.2 399.3L318.2 382.1M318.2 382.1L313.9 389.5M318.2 382.1L322.5 389.5M336.4 399.3L336.7 381.2M336.7 381.2L332.0 388.9M336.7 381.2L341.1 389.1M354.5 399.3L355.1 380.6M355.1 380.6L350.2 388.6M355.1 380.6L359.6 388.9M372.7 399.3L373.6 380.4M373.6 380.4L368.5 388.4M373.6 380.4L377.9 388.8M390.9 399.3L392.4 380.8M392.4 380.8L387.1 388.5M392.4 380.8L396.3 389.2M409.1 399.3L411.2 381.3M411.2 381.3L405.8 388.6M411.2 381.3L414.8 389.6M427.3 399.3L430.1 380.8M430.1 380.8L424.3 388.1M430.1 380.8L433.5 389.5M445.5 399.3L449.2 380.4M449.2 380.4L442.8 387.7M449.2 380.4L452.3 389.5M463.6 399.3L468.4 380.1M468.4 380.1L461.5 387.2M468.4 380.1L471.2 389.6M481.8 399.3L487.8 379.8M487.8 379.8L480.3 386.8M487.8 379.8L490.1 389.7M500.0 399.3L506.8 379.5M506.8 379.5L498.9 386.4M506.8 379.5L508.8 389.8M518.2 399.3L525.8 379.4M525.8 379.4L517.5 386.1M525.8 379.4L527.5 389.9M536.4 399.3L544.4 379.2M544.4 379.2L535.9 385.9M544.4 379.2L546.0 389.9M554.5 399.3L562.8 379.3M562.8 379.3L554.2 385.9M562.8 379.3L564.2 390.0M572.7 399.3L581.1 379.3M581.1 379.3L572.5 385.9M581.1 379.3L582.5 390.1M590.9 399.3L599.4 379.4M599.4 379.4L590.7 385.9M599.4 379.4L600.7 390.1M609.1 399.3L617.4 379.3M617.4 379.3L608.8 385.9M617.4 379.3L618.8 390.0M627.3 399.3L635.4 379.2M635.4 379.2L626.9 385.9M635.4 379.2L636.9 390.0M645.5 399.3L653.5 379.4M653.5 379.4L645.0 386.0M653.5 379.4L655.0 390.0M663.6 399.3L671.3 380.4M671.3 380.4L663.2 386.7M671.3 380.4L672.7 390.5M681.8 399.3L689.3 380.8M689.3 380.8L681.4 386.9M689.3 380.8L690.7 390.7M700.0 399.3L707.6 380.4M707.6 380.4L699.6 386.7M707.6 380.4L709.0 390.5M718.2 399.3L725.9 379.9M725.9 379.9L717.7 386.3M725.9 379.9L727.4 390.2M736.4 399.3L744.3 379.1M744.3 379.1L735.8 385.9M744.3 379.1L745.9 389.8M754.5 399.3L762.8 377.7M762.8 377.7L753.8 385.0M762.8 377.7L764.6 389.1M772.7 399.3L781.2 376.6M781.2 376.6L771.9 384.3M781.2 376.6L783.2 388.5M790.9 399.3L799.7 375.1M799.7 375.1L789.9 383.4M799.7 375.1L801.9 387.8M300.0 417.5L300.0 406.0M300.0 406.0L297.1 411.0M300.0 406.0L302.9 411.0M318.2 417.5L318.4 404.5M318.4 404.5L315.1 410.1M318.4 404.5L321.6 410.2M336.4 417.5L337.0 401.0M337.0 401.0L332.6 408.0M337.0 401.0L340.8 408.3M354.5 417.5L355.5 399.7M355.5 399.7L350.7 407.2M355.5 399.7L359.5 407.7M372.7 417.5L374.0 399.0M374.0 399.0L368.9 406.7M374.0 399.0L378.1 407.3M390.9 417.5L393.0 399.1M393.0 399.1L387.5 406.5M393.0 399.1L396.7 407.6M409.1 417.5L411.9 399.6M411.9 399.6L406.2 406.6M411.9 399.6L415.2 408.0M427.3 417.5L431.0 399.2M431.0 399.2L424.8 406.2M431.0 399.2L433.9 408.0M445.5 417.5L450.1 398.8M450.1 398.8L443.4 405.7M450.1 398.8L452.7 408.0M463.6 417.5L469.4 398.5M469.4 398.5L462.1 405.3M469.4 398.5L471.6 408.2M481.8 417.5L488.7 398.3M488.7 398.3L480.9 404.9M488.7 398.3L490.5 408.3M500.0 417.5L507.7 398.0M507.7 398.0L499.5 404.5M507.7 398.0L509.2 408.4M518.2 417.5L526.5 397.9M526.5 397.9L518.0 404.3M526.5 397.9L527.8 408.5M536.4 417.5L544.9 397.6M544.9 397.6L536.3 404.1M544.9 397.6L546.2 408.3M554.5 417.5L563.1 397.6M563.1 397.6L554.4 404.1M563.1 397.6L564.4 408.3M572.7 417.5L581.2 397.6M581.2 397.6L572.6 404.1M581.2 397.6L582.5 408.3M590.9 417.5L599.4 397.6M599.4 397.6L590.7 404.1M599.4 397.6L600.7 408.3M609.1 417.5L617.4 397.5M617.4 397.5L608.8 404.1M617.4 397.5L618.8 408.2M627.3 417.5L635.4 397.4M635.4 397.4L626.9 404.1M635.4 397.4L636.9 408.1M645.5 417.5L653.5 397.6M653.5 397.6L645.0 404.2M653.5 397.6L655.0 408.2M663.6 417.5L671.2 398.6M671.2 398.6L663.2 404.9M671.2 398.6L672.6 408.6M681.8 417.5L689.2 398.9M689.2 398.9L681.4 405.1M689.2 398.9L690.7 408.8M700.0 417.5L707.5 398.6M707.5 398.6L699.5 404.9M707.5 398.6L709.0 408.6M718.2 417.5L725.8 398.0M725.8 398.0L717.6 404.5M725.8 398.0L727.4 408.3M736.4 417.5L744.0 397.2M744.0 397.2L735.7 404.1M744.0 397.2L745.8 407.9M754.5 417.5L762.6 395.8M762.6 395.8L753.7 403.2M762.6 395.8L764.5 407.2M772.7 417.5L780.9 394.7M780.9 394.7L771.7 402.5M780.9 394.7L783.1 406.6M790.9 417.5L799.4 393.2M799.4 393.2L789.7 401.6M799.4 393.2L801.8 405.8M336.4 435.6L337.4 419.6M337.4 419.6L332.9 426.3M337.4 419.6L340.9 426.8M354.5 435.6L356.0 417.9M356.0 417.9L350.9 425.3M356.0 417.9L359.8 426.0M372.7 435.6L374.5 417.2M374.5 417.2L369.1 424.8M374.5 417.2L378.4 425.7M390.9 435.6L393.5 417.3M393.5 417.3L387.8 424.6M393.5 417.3L397.0 425.9M409.1 435.6L412.6 417.5M412.6 417.5L406.5 424.5M412.6 417.5L415.6 426.2M427.3 435.6L431.6 417.3M431.6 417.3L425.2 424.1M431.6 417.3L434.3 426.3M445.5 435.6L450.7 417.1M450.7 417.1L443.8 423.8M450.7 417.1L453.1 426.5M463.6 435.6L470.1 416.6M470.1 416.6L462.5 423.2M470.1 416.6L472.1 426.5M481.8 435.6L489.6 416.2M489.6 416.2L481.4 422.7M489.6 416.2L491.1 426.6M500.0 435.6L508.5 416.2M508.5 416.2L500.0 422.5M508.5 416.2L509.7 426.7M518.2 435.6L527.2 416.4M527.2 416.4L518.5 422.5M527.2 416.4L528.1 427.0M536.4 435.6L545.4 416.2M545.4 416.2L536.6 422.4M545.4 416.2L546.4 426.9M554.5 435.6L563.5 415.9M563.5 415.9L554.7 422.2M563.5 415.9L564.5 426.7M572.7 435.6L581.5 415.9M581.5 415.9L572.8 422.2M581.5 415.9L582.7 426.6M590.9 435.6L599.6 415.8M599.6 415.8L590.9 422.2M599.6 415.8L600.8 426.6M609.1 435.6L617.5 415.7M617.5 415.7L608.9 422.2M617.5 415.7L618.9 426.5M627.3 435.6L635.4 415.6M635.4 415.6L626.9 422.2M635.4 415.6L636.9 426.3M645.5 435.6L653.4 415.5M653.4 415.5L644.9 422.2M653.4 415.5L655.0 426.2M663.6 435.6L671.4 415.4M671.4 415.4L663.0 422.3M671.4 415.4L673.1 426.1M681.8 435.6L689.4 415.4M689.4 415.4L681.1 422.3M689.4 415.4L691.2 426.1M700.0 435.6L707.5 415.3M707.5 415.3L699.2 422.3M707.5 415.3L709.3 426.0M718.2 435.6L725.5 415.3M725.5 415.3L717.2 422.3M725.5 415.3L727.4 425.9M736.4 435.6L743.5 415.2M743.5 415.2L735.3 422.3M743.5 415.2L745.5 425.9M754.5 435.6L762.1 413.6M762.1 413.6L753.3 421.3M762.1 413.6L764.3 425.0M772.7 435.6L780.3 412.6M780.3 412.6L771.3 420.7M780.3 412.6L782.8 424.5M790.9 435.6L798.7 411.5M798.7 411.5L789.3 420.0M798.7 411.5L801.3 423.9M336.4 453.8L337.7 437.6M337.7 437.6L333.1 444.3M337.7 437.6L341.2 445.0M354.5 453.8L356.3 436.3M356.3 436.3L351.2 443.4M356.3 436.3L360.0 444.3M372.7 453.8L374.9 435.6M374.9 435.6L369.4 443.0M374.9 435.6L378.5 444.1M390.9 453.8L393.9 435.7M393.9 435.7L388.1 442.8M393.9 435.7L397.2 444.3M409.1 453.8L413.0 435.9M413.0 435.9L406.8 442.7M413.0 435.9L415.8 444.7M427.3 453.8L432.1 435.8M432.1 435.8L425.5 442.4M432.1 435.8L434.5 444.8M445.5 453.8L451.2 435.6M451.2 435.6L444.2 442.0M451.2 435.6L453.3 444.9M463.6 453.8L470.7 435.0M470.7 435.0L462.9 441.4M470.7 435.0L472.3 444.9M481.8 453.8L490.2 434.7M490.2 434.7L481.8 440.9M490.2 434.7L491.3 445.0M500.0 453.8L509.1 434.7M509.1 434.7L500.3 440.7M509.1 434.7L509.9 445.2M518.2 453.8L527.7 435.0M527.7 435.0L518.9 440.8M527.7 435.0L528.3 445.5M536.4 453.8L545.8 434.7M545.8 434.7L536.9 440.6M545.8 434.7L546.5 445.3M554.5 453.8L563.7 434.3M563.7 434.3L554.9 440.5M563.7 434.3L564.6 445.1M572.7 453.8L581.7 434.2M581.7 434.2L572.9 440.5M581.7 434.2L582.7 444.9M590.9 453.8L599.7 434.1M599.7 434.1L591.0 440.4M599.7 434.1L600.8 444.8M609.1 453.8L617.6 433.9M617.6 433.9L608.9 440.4M617.6 433.9L618.9 444.7M627.3 453.8L635.4 433.8M635.4 433.8L626.9 440.4M635.4 433.8L636.9 444.5M645.5 453.8L653.2 433.6M653.2 433.6L644.8 440.4M653.2 433.6L654.9 444.3M663.6 453.8L671.0 433.5M671.0 433.5L662.7 440.4M671.0 433.5L672.9 444.1M681.8 453.8L689.0 433.4M689.0 433.4L680.8 440.5M689.0 433.4L691.0 444.1M700.0 453.8L707.0 433.4M707.0 433.4L698.9 440.5M707.0 433.4L709.1 444.0M718.2 453.8L725.0 433.3M725.0 433.3L716.9 440.5M725.0 433.3L727.2 443.9M736.4 453.8L743.0 433.2M743.0 433.2L735.0 440.5M743.0 433.2L745.3 443.8M754.5 453.8L761.5 431.6M761.5 431.6L752.9 439.5M761.5 431.6L764.1 443.0M772.7 453.8L779.8 430.6M779.8 430.6L770.9 438.9M779.8 430.6L782.5 442.4M790.9 453.8L798.1 429.5M798.1 429.5L788.9 438.3M798.1 429.5L801.0 441.8M336.4 472.0L337.7 455.6M337.7 455.6L333.0 462.4M337.7 455.6L341.2 463.0M354.5 472.0L356.3 454.5M356.3 454.5L351.2 461.7M356.3 454.5L359.9 462.5M372.7 472.0L374.9 454.0M374.9 454.0L369.4 461.3M374.9 454.0L378.4 462.3M390.9 472.0L393.9 453.9M393.9 453.9L388.1 461.0M393.9 453.9L397.1 462.5M409.1 472.0L413.0 454.3M413.0 454.3L406.9 461.0M413.0 454.3L415.7 462.9M427.3 472.0L432.1 454.2M432.1 454.2L425.6 460.7M432.1 454.2L434.5 463.1M445.5 472.0L451.4 453.9M451.4 453.9L444.3 460.3M451.4 453.9L453.3 463.2M463.6 472.0L470.8 453.4M470.8 453.4L463.0 459.6M470.8 453.4L472.4 463.2M481.8 472.0L490.3 452.9M490.3 452.9L481.9 459.1M490.3 452.9L491.4 463.3M500.0 472.0L509.2 453.0M509.2 453.0L500.5 458.9M509.2 453.0L510.0 463.5M518.2 472.0L527.8 453.4M527.8 453.4L519.0 459.1M527.8 453.4L528.3 463.9M536.4 472.0L545.8 453.1M545.8 453.1L537.0 458.9M545.8 453.1L546.5 463.6M554.5 472.0L563.7 452.6M563.7 452.6L554.9 458.7M563.7 452.6L564.6 463.3M572.7 472.0L581.6 452.4M581.6 452.4L572.9 458.7M581.6 452.4L582.7 463.1M590.9 472.0L599.5 452.3M599.5 452.3L590.9 458.7M599.5 452.3L600.7 463.0M609.1 472.0L617.3 452.0M617.3 452.0L608.8 458.6M617.3 452.0L618.7 462.7M627.3 472.0L635.1 451.8M635.1 451.8L626.6 458.6M635.1 451.8L636.7 462.5M645.5 472.0L652.9 451.7M652.9 451.7L644.6 458.6M652.9 451.7L654.7 462.3M663.6 472.0L670.7 451.5M670.7 451.5L662.5 458.6M670.7 451.5L672.7 462.2M681.8 472.0L688.7 451.5M688.7 451.5L680.6 458.7M688.7 451.5L690.8 462.1M700.0 472.0L706.7 451.4M706.7 451.4L698.6 458.7M706.7 451.4L708.9 462.0M718.2 472.0L724.7 451.4M724.7 451.4L716.7 458.7M724.7 451.4L727.0 461.9M736.4 472.0L742.7 451.3M742.7 451.3L734.8 458.7M742.7 451.3L745.1 461.8M754.5 472.0L761.1 449.6M761.1 449.6L752.7 457.7M761.1 449.6L763.9 461.0M772.7 472.0L779.4 448.7M779.4 448.7L770.7 457.1M779.4 448.7L782.3 460.5M790.9 472.0L797.6 447.6M797.6 447.6L788.6 456.5M797.6 447.6L800.8 459.8M318.2 490.2L319.1 476.0M319.1 476.0L315.2 481.9M319.1 476.0L322.3 482.4M336.4 490.2L337.7 474.5M337.7 474.5L333.2 481.0M337.7 474.5L341.0 481.6M354.5 490.2L356.2 473.6M356.2 473.6L351.4 480.4M356.2 473.6L359.6 481.2M372.7 490.2L374.8 473.1M374.8 473.1L369.6 480.0M374.8 473.1L378.2 481.0M390.9 490.2L393.8 472.8M393.8 472.8L388.2 479.6M393.8 472.8L396.9 481.1M409.1 490.2L412.8 473.2M412.8 473.2L406.9 479.6M412.8 473.2L415.4 481.5M427.3 490.2L432.0 472.7M432.0 472.7L425.6 479.1M432.0 472.7L434.4 481.5M445.5 490.2L451.4 472.1M451.4 472.1L444.3 478.4M451.4 472.1L453.4 481.4M463.6 490.2L470.9 471.6M470.9 471.6L463.1 477.8M470.9 471.6L472.4 481.4M481.8 490.2L490.5 471.0M490.5 471.0L481.9 477.1M490.5 471.0L491.5 481.5M500.0 490.2L509.4 471.1M509.4 471.1L500.5 477.0M509.4 471.1L510.1 481.7M518.2 490.2L527.9 471.7M527.9 471.7L519.0 477.3M527.9 471.7L528.3 482.1M536.4 490.2L545.7 471.5M545.7 471.5L537.0 477.3M545.7 471.5L546.3 481.9M554.5 490.2L563.4 471.2M563.4 471.2L554.8 477.2M563.4 471.2L564.3 481.7M572.7 490.2L581.3 470.9M581.3 470.9L572.8 477.1M581.3 470.9L582.4 481.4M590.9 490.2L599.2 470.6M599.2 470.6L590.7 477.0M599.2 470.6L600.5 481.1M609.1 490.2L616.9 470.2M616.9 470.2L608.5 476.9M616.9 470.2L618.5 480.8M627.3 490.2L634.6 469.8M634.6 469.8L626.4 476.8M634.6 469.8L636.5 480.5M645.5 490.2L652.4 469.7M652.4 469.7L644.3 476.8M652.4 469.7L654.5 480.3M663.6 490.2L670.3 469.6M670.3 469.6L662.2 476.9M670.3 469.6L672.5 480.2M681.8 490.2L688.2 469.5M688.2 469.5L680.3 476.9M688.2 469.5L690.6 480.1M700.0 490.2L706.2 469.5M706.2 469.5L698.3 476.9M706.2 469.5L708.7 480.0M718.2 490.2L724.2 469.4M724.2 469.4L716.4 476.9M724.2 469.4L726.8 479.9M736.4 490.2L742.2 469.4M742.2 469.4L734.5 476.9M742.2 469.4L744.9 479.8M754.5 490.2L760.7 467.7M760.7 467.7L752.4 475.9M760.7 467.7L763.6 479.0M772.7 490.2L778.9 466.7M778.9 466.7L770.4 475.4M778.9 466.7L782.1 478.4M790.9 490.2L797.1 465.6M797.1 465.6L788.3 474.7M797.1 465.6L800.6 477.8M300.0 508.4L300.8 495.6M300.8 495.6L297.2 501.0M300.8 495.6L303.6 501.3M318.2 508.4L319.2 494.2M319.2 494.2L315.2 500.1M319.2 494.2L322.3 500.6M336.4 508.4L337.7 493.1M337.7 493.1L333.3 499.4M337.7 493.1L340.9 500.0M354.5 508.4L356.2 492.0M356.2 492.0L351.4 498.7M356.2 492.0L359.6 499.5M372.7 508.4L374.7 491.7M374.7 491.7L369.7 498.4M374.7 491.7L378.0 499.4M390.9 508.4L393.6 491.4M393.6 491.4L388.2 498.1M393.6 491.4L396.7 499.4M409.1 508.4L412.6 491.7M412.6 491.7L406.9 498.1M412.6 491.7L415.2 499.8M427.3 508.4L431.8 491.0M431.8 491.0L425.5 497.4M431.8 491.0L434.2 499.6M445.5 508.4L451.1 490.2M451.1 490.2L444.1 496.6M451.1 490.2L453.2 499.5M463.6 508.4L470.7 489.5M470.7 489.5L462.9 495.9M470.7 489.5L472.4 499.4M481.8 508.4L490.3 489.1M490.3 489.1L481.8 495.3M490.3 489.1L491.5 499.5M500.0 508.4L509.1 489.4M509.1 489.4L500.4 495.3M509.1 489.4L509.9 499.9M518.2 508.4L527.4 490.4M527.4 490.4L518.9 495.9M527.4 490.4L527.9 500.5M536.4 508.4L545.1 490.3M545.1 490.3L536.8 496.0M545.1 490.3L545.8 500.3M554.5 508.4L562.5 490.1M562.5 490.1L554.5 496.0M562.5 490.1L563.6 500.0M572.7 508.4L580.3 490.1M580.3 490.1L572.4 496.1M580.3 490.1L581.6 499.9M590.9 508.4L598.2 489.8M598.2 489.8L590.4 496.0M598.2 489.8L599.7 499.6M609.1 508.4L615.9 489.4M615.9 489.4L608.2 495.9M615.9 489.4L617.7 499.3M627.3 508.4L633.7 488.5M633.7 488.5L626.0 495.5M633.7 488.5L635.9 498.7M645.5 508.4L651.7 487.6M651.7 487.6L643.8 495.1M651.7 487.6L654.2 498.2M663.6 508.4L669.5 487.5M669.5 487.5L661.8 495.1M669.5 487.5L672.2 498.0M681.8 508.4L687.5 487.5M687.5 487.5L679.8 495.1M687.5 487.5L690.3 497.9M700.0 508.4L705.5 487.4M705.5 487.4L697.9 495.1M705.5 487.4L708.3 497.9M718.2 508.4L723.5 487.4M723.5 487.4L715.9 495.1M723.5 487.4L726.4 497.8M736.4 508.4L741.5 487.3M741.5 487.3L734.0 495.2M741.5 487.3L744.5 497.7M754.5 508.4L759.9 485.7M759.9 485.7L751.9 494.2M759.9 485.7L763.2 496.8M772.7 508.4L778.1 484.7M778.1 484.7L769.8 493.6M778.1 484.7L781.7 496.3M790.9 508.4L796.3 483.6M796.3 483.6L787.8 493.0M796.3 483.6L800.1 495.7M281.8 526.5L282.5 513.2M282.5 513.2L278.9 518.8M282.5 513.2L285.5 519.2M300.0 526.5L300.9 512.7M300.9 512.7L297.1 518.5M300.9 512.7L304.0 518.9M318.2 526.5L319.3 512.2M319.3 512.2L315.2 518.1M319.3 512.2L322.4 518.7M336.4 526.5L337.7 511.4M337.7 511.4L333.3 517.7M337.7 511.4L340.9 518.3M354.5 526.5L356.1 510.9M356.1 510.9L351.5 517.3M356.1 510.9L359.4 518.1M372.7 526.5L374.7 510.2M374.7 510.2L369.7 516.8M374.7 510.2L377.9 517.8M390.9 526.5L393.5 509.9M393.5 509.9L388.2 516.5M393.5 509.9L396.5 517.8M409.1 526.5L412.4 509.9M412.4 509.9L406.8 516.3M412.4 509.9L415.2 517.9M427.3 526.5L431.6 509.1M431.6 509.1L425.3 515.6M431.6 509.1L434.1 517.7M445.5 526.5L450.8 508.3M450.8 508.3L443.9 514.8M450.8 508.3L453.1 517.5M463.6 526.5L470.4 507.5M470.4 507.5L462.7 514.1M470.4 507.5L472.2 517.5M481.8 526.5L490.1 507.0M490.1 507.0L481.6 513.4M490.1 507.0L491.4 517.5M500.0 526.5L508.8 507.6M508.8 507.6L500.3 513.6M508.8 507.6L509.7 518.0M518.2 526.5L526.9 509.0M526.9 509.0L518.7 514.4M526.9 509.0L527.5 518.8M536.4 526.5L544.5 508.8M544.5 508.8L536.5 514.5M544.5 508.8L545.4 518.5M554.5 526.5L561.8 508.6M561.8 508.6L554.2 514.6M561.8 508.6L563.2 518.2M572.7 526.5L579.5 508.6M579.5 508.6L572.1 514.6M579.5 508.6L581.1 518.1M590.9 526.5L597.4 508.4M597.4 508.4L590.1 514.6M597.4 508.4L599.2 517.9M609.1 526.5L615.1 508.1M615.1 508.1L607.9 514.6M615.1 508.1L617.1 517.6M627.3 526.5L632.9 507.0M632.9 507.0L625.6 514.1M632.9 507.0L635.3 516.9M645.5 526.5L651.0 505.8M651.0 505.8L643.4 513.4M651.0 505.8L653.8 516.2M663.6 526.5L668.8 505.7M668.8 505.7L661.4 513.4M668.8 505.7L671.8 516.0M681.8 526.5L686.8 505.6M686.8 505.6L679.4 513.4M686.8 505.6L689.9 515.9M700.0 526.5L704.8 505.5M704.8 505.5L697.5 513.4M704.8 505.5L708.0 515.8M718.2 526.5L722.9 505.5M722.9 505.5L715.6 513.4M722.9 505.5L726.1 515.8M736.4 526.5L740.9 505.4M740.9 505.4L733.6 513.4M740.9 505.4L744.2 515.7M754.5 526.5L759.2 503.7M759.2 503.7L751.5 512.4M759.2 503.7L762.9 514.8M772.7 526.5L777.4 502.8M777.4 502.8L769.4 511.9M777.4 502.8L781.3 514.2M790.9 526.5L795.4 502.2M795.4 502.2L787.4 511.6M795.4 502.2L799.6 513.9M263.6 544.7L264.2 532.9M264.2 532.9L261.0 537.9M264.2 532.9L266.9 538.2M281.8 544.7L282.5 531.8M282.5 531.8L279.0 537.2M282.5 531.8L285.5 537.6M300.0 544.7L300.9 531.1M300.9 531.1L297.1 536.8M300.9 531.1L303.9 537.2M318.2 544.7L319.3 530.3M319.3 530.3L315.2 536.3M319.3 530.3L322.4 536.8M336.4 544.7L337.6 529.8M337.6 529.8L333.4 535.9M337.6 529.8L340.8 536.6M354.5 544.7L356.1 529.3M356.1 529.3L351.5 535.6M356.1 529.3L359.3 536.3M372.7 544.7L374.5 528.7M374.5 528.7L369.7 535.2M374.5 528.7L377.7 536.1M390.9 544.7L393.3 528.2M393.3 528.2L388.1 534.8M393.3 528.2L396.4 536.0M409.1 544.7L412.2 528.0M412.2 528.0L406.6 534.5M412.2 528.0L415.0 536.0M427.3 544.7L431.3 527.1M431.3 527.1L425.1 533.7M431.3 527.1L434.0 535.7M445.5 544.7L450.6 526.0M450.6 526.0L443.7 532.8M450.6 526.0L453.0 535.4M463.6 544.7L470.1 525.2M470.1 525.2L462.4 532.1M470.1 525.2L472.2 535.3M481.8 544.7L489.7 524.8M489.7 524.8L481.3 531.4M489.7 524.8L491.3 535.4M500.0 544.7L508.2 525.7M508.2 525.7L499.9 531.9M508.2 525.7L509.4 536.0M518.2 544.7L526.1 527.6M526.1 527.6L518.4 533.0M526.1 527.6L527.0 537.0M536.4 544.7L543.4 528.0M543.4 528.0L536.2 533.5M543.4 528.0L544.5 537.0M554.5 544.7L560.8 527.8M560.8 527.8L553.8 533.5M560.8 527.8L562.3 536.7M572.7 544.7L578.5 527.6M578.5 527.6L571.7 533.6M578.5 527.6L580.3 536.5M590.9 544.7L596.2 527.5M596.2 527.5L589.6 533.7M596.2 527.5L598.2 536.3M609.1 544.7L613.9 527.4M613.9 527.4L607.5 533.7M613.9 527.4L616.2 536.1M627.3 544.7L631.8 526.4M631.8 526.4L625.3 533.2M631.8 526.4L634.4 535.5M645.5 544.7L650.1 524.9M650.1 524.9L643.2 532.3M650.1 524.9L653.1 534.7M663.6 544.7L668.4 523.8M668.4 523.8L661.1 531.7M668.4 523.8L671.6 534.1M681.8 544.7L686.5 523.7M686.5 523.7L679.2 531.7M686.5 523.7L689.7 534.0M700.0 544.7L704.6 523.7M704.6 523.7L697.4 531.6M704.6 523.7L707.9 534.0M718.2 544.7L722.7 523.6M722.7 523.6L715.4 531.6M722.7 523.6L726.0 533.9M736.4 544.7L740.7 523.5M740.7 523.5L733.5 531.6M740.7 523.5L744.1 533.8M754.5 544.7L759.0 521.8M759.0 521.8L751.3 530.6M759.0 521.8L762.8 532.9M772.7 544.7L777.1 520.9M777.1 520.9L769.3 530.1M777.1 520.9L781.2 532.3M790.9 544.7L795.3 520.3M795.3 520.3L787.3 529.8M795.3 520.3L799.5 532.0M245.5 562.9L246.1 551.3M246.1 551.3L242.9 556.2M246.1 551.3L248.7 556.5M263.6 562.9L264.3 550.8M264.3 550.8L261.0 555.9M264.3 550.8L267.0 556.2M281.8 562.9L282.6 550.2M282.6 550.2L279.1 555.5M282.6 550.2L285.4 555.9M300.0 562.9L300.9 549.4M300.9 549.4L297.2 555.0M300.9 549.4L303.9 555.5M318.2 562.9L319.3 548.7M319.3 548.7L315.3 554.6M319.3 548.7L322.4 555.1M336.4 562.9L337.6 548.2M337.6 548.2L333.4 554.2M337.6 548.2L340.8 554.9M354.5 562.9L356.0 547.6M356.0 547.6L351.5 553.9M356.0 547.6L359.2 554.6M372.7 562.9L374.4 547.1M374.4 547.1L369.7 553.5M374.4 547.1L377.6 554.3M390.9 562.9L393.1 546.6M393.1 546.6L388.0 553.1M393.1 546.6L396.2 554.2M409.1 562.9L411.9 545.8M411.9 545.8L406.4 552.5M411.9 545.8L415.0 553.9M427.3 562.9L431.1 544.8M431.1 544.8L424.9 551.7M431.1 544.8L433.9 553.6M445.5 562.9L450.4 543.5M450.4 543.5L443.4 550.7M450.4 543.5L453.1 553.2M463.6 562.9L469.8 542.8M469.8 542.8L462.1 549.9M469.8 542.8L472.2 553.0M481.8 562.9L489.2 542.6M489.2 542.6L480.9 549.5M489.2 542.6L491.1 553.2M500.0 562.9L507.5 544.0M507.5 544.0L499.5 550.3M507.5 544.0L509.0 554.0M518.2 562.9L525.3 546.0M525.3 546.0L518.0 551.6M525.3 546.0L526.4 555.1M536.4 562.9L542.6 546.3M542.6 546.3L535.7 551.9M542.6 546.3L544.1 555.0M554.5 562.9L559.9 546.0M559.9 546.0L553.3 552.0M559.9 546.0L561.8 554.7M572.7 562.9L577.5 545.9M577.5 545.9L571.2 552.1M577.5 545.9L579.7 554.4M590.9 562.9L595.2 545.8M595.2 545.8L589.1 552.1M595.2 545.8L597.6 554.3M609.1 562.9L613.0 545.8M613.0 545.8L607.0 552.2M613.0 545.8L615.6 554.2M627.3 562.9L630.9 545.1M630.9 545.1L624.9 551.9M630.9 545.1L633.8 553.7M645.5 562.9L649.3 543.9M649.3 543.9L642.9 551.2M649.3 543.9L652.4 553.1M663.6 562.9L667.8 542.6M667.8 542.6L660.9 550.4M667.8 542.6L671.1 552.4M681.8 562.9L686.1 541.9M686.1 541.9L679.0 549.9M686.1 541.9L689.5 552.1M700.0 562.9L704.3 541.8M704.3 541.8L697.2 549.9M704.3 541.8L707.7 552.0M718.2 562.9L722.4 541.7M722.4 541.7L715.3 549.9M722.4 541.7L725.9 552.0M736.4 562.9L740.4 541.6M740.4 541.6L733.3 549.8M740.4 541.6L744.0 551.9M754.5 562.9L758.7 540.2M758.7 540.2L751.2 549.0M758.7 540.2L762.6 551.0M772.7 562.9L776.8 539.2M776.8 539.2L769.1 548.4M776.8 539.2L781.0 550.5M790.9 562.9L795.1 538.5M795.1 538.5L787.2 548.0M795.1 538.5L799.4 550.1M209.1 581.1L209.4 569.4M209.4 569.4L206.3 574.4M209.4 569.4L212.2 574.5M227.3 581.1L227.7 569.1M227.7 569.1L224.5 574.2M227.7 569.1L230.5 574.4M245.5 581.1L246.0 569.1M246.0 569.1L242.8 574.2M246.0 569.1L248.8 574.4M263.6 581.1L264.3 568.8M264.3 568.8L260.9 574.0M264.3 568.8L267.1 574.3M281.8 581.1L282.6 568.5M282.6 568.5L279.1 573.8M282.6 568.5L285.4 574.2M300.0 581.1L300.9 567.8M300.9 567.8L297.2 573.3M300.9 567.8L303.8 573.8M318.2 581.1L319.3 567.1M319.3 567.1L315.3 572.9M319.3 567.1L322.3 573.4M336.4 581.1L337.6 566.5M337.6 566.5L333.4 572.5M337.6 566.5L340.7 573.1M354.5 581.1L356.0 566.0M356.0 566.0L351.6 572.2M356.0 566.0L359.1 572.9M372.7 581.1L374.3 565.4M374.3 565.4L369.7 571.8M374.3 565.4L377.6 572.6M390.9 581.1L392.9 564.9M392.9 564.9L388.0 571.4M392.9 564.9L396.1 572.4M409.1 581.1L411.7 563.5M411.7 563.5L406.2 570.5M411.7 563.5L415.0 571.8M427.3 581.1L430.8 562.6M430.8 562.6L424.6 569.7M430.8 562.6L433.9 571.5M445.5 581.1L450.1 561.3M450.1 561.3L443.2 568.7M450.1 561.3L453.1 571.0M463.6 581.1L469.4 560.4M469.4 560.4L461.7 567.9M469.4 560.4L472.1 570.8M481.8 581.1L488.4 560.3M488.4 560.3L480.4 567.6M488.4 560.3L490.8 570.9M500.0 581.1L506.4 561.6M506.4 561.6L498.8 568.4M506.4 561.6L508.5 571.6M518.2 581.1L524.0 563.7M524.0 563.7L517.1 569.8M524.0 563.7L525.8 572.7M536.4 581.1L541.1 564.0M541.1 564.0L534.8 570.2M541.1 564.0L543.3 572.6M554.5 581.1L558.1 563.7M558.1 563.7L552.2 570.4M558.1 563.7L560.9 572.1M572.7 581.1L575.7 563.7M575.7 563.7L570.0 570.5M575.7 563.7L578.8 571.9M590.9 581.1L593.4 563.6M593.4 563.6L588.0 570.6M593.4 563.6L596.7 571.8M609.1 581.1L611.5 563.7M611.5 563.7L606.1 570.6M611.5 563.7L614.8 571.8M627.3 581.1L629.7 563.1M629.7 563.1L624.2 570.3M629.7 563.1L633.2 571.5M645.5 581.1L648.2 562.2M648.2 562.2L642.3 569.7M648.2 562.2L651.7 571.1M663.6 581.1L666.8 561.0M666.8 561.0L660.4 568.9M666.8 561.0L670.4 570.5M681.8 581.1L685.2 560.1M685.2 560.1L678.5 568.3M685.2 560.1L689.0 570.0M700.0 581.1L703.5 560.0M703.5 560.0L696.7 568.2M703.5 560.0L707.3 570.0M718.2 581.1L721.7 559.9M721.7 559.9L714.9 568.2M721.7 559.9L725.5 569.9M736.4 581.1L739.8 559.7M739.8 559.7L733.0 568.1M739.8 559.7L743.7 569.8M754.5 581.1L758.1 558.4M758.1 558.4L750.9 567.4M758.1 558.4L762.2 569.1M772.7 581.1L776.1 557.7M776.1 557.7L768.8 566.9M776.1 557.7L780.5 568.7M790.9 581.1L794.3 556.9M794.3 556.9L786.8 566.5M794.3 556.9L798.9 568.2M136.4 599.3L136.1 588.1M136.1 588.1L133.4 593.0M136.1 588.1L139.0 592.9M154.5 599.3L154.5 588.0M154.5 588.0L151.7 592.9M154.5 588.0L157.3 592.9M172.7 599.3L172.7 587.9M172.7 587.9L169.9 592.8M172.7 587.9L175.6 592.8M190.9 599.3L190.9 587.8M190.9 587.8L188.0 592.7M190.9 587.8L193.8 592.7M209.1 599.3L209.2 587.5M209.2 587.5L206.2 592.5M209.2 587.5L212.1 592.6M227.3 599.3L227.6 587.5M227.6 587.5L224.5 592.5M227.6 587.5L230.4 592.7M245.5 599.3L245.9 587.3M245.9 587.3L242.7 592.4M245.9 587.3L248.7 592.6M263.6 599.3L264.2 587.0M264.2 587.0L260.9 592.2M264.2 587.0L267.0 592.5M281.8 599.3L282.6 586.7M282.6 586.7L279.1 592.0M282.6 586.7L285.4 592.3M300.0 599.3L300.9 586.2M300.9 586.2L297.2 591.6M300.9 586.2L303.8 592.1M318.2 599.3L319.3 585.4M319.3 585.4L315.3 591.2M319.3 585.4L322.2 591.7M336.4 599.3L337.6 584.9M337.6 584.9L333.5 590.8M337.6 584.9L340.7 591.4M354.5 599.3L356.0 584.4M356.0 584.4L351.6 590.5M356.0 584.4L359.1 591.2M372.7 599.3L374.4 583.8M374.4 583.8L369.8 590.1M374.4 583.8L377.5 590.9M390.9 599.3L392.9 583.3M392.9 583.3L388.0 589.7M392.9 583.3L396.0 590.7M409.1 599.3L411.6 581.7M411.6 581.7L406.1 588.7M411.6 581.7L414.9 589.9M427.3 599.3L430.7 580.5M430.7 580.5L424.5 587.8M430.7 580.5L433.9 589.5M445.5 599.3L450.0 579.1M450.0 579.1L443.0 586.7M450.0 579.1L453.1 588.9M463.6 599.3L468.9 578.3M468.9 578.3L461.4 586.0M468.9 578.3L471.9 588.7M481.8 599.3L487.7 578.1M487.7 578.1L479.9 585.8M487.7 578.1L490.5 588.7M500.0 599.3L505.5 578.9M505.5 578.9L498.1 586.3M505.5 578.9L508.2 589.1M518.2 599.3L523.1 580.5M523.1 580.5L516.2 587.4M523.1 580.5L525.6 589.8M536.4 599.3L540.0 580.4M540.0 580.4L533.7 587.6M540.0 580.4L543.2 589.5M554.5 599.3L556.7 580.3M556.7 580.3L551.0 588.0M556.7 580.3L560.5 589.1M572.7 599.3L574.2 580.8M574.2 580.8L568.9 588.4M574.2 580.8L578.2 589.2M590.9 599.3L591.9 580.8M591.9 580.8L586.9 588.5M591.9 580.8L596.1 589.0M609.1 599.3L610.2 580.8M610.2 580.8L605.1 588.5M610.2 580.8L614.3 589.1M627.3 599.3L628.7 580.8M628.7 580.8L623.5 588.5M628.7 580.8L632.7 589.2M645.5 599.3L647.2 580.3M647.2 580.3L641.7 588.1M647.2 580.3L651.2 589.0M663.6 599.3L665.9 579.1M665.9 579.1L659.9 587.2M665.9 579.1L670.0 588.4M681.8 599.3L684.4 578.3M684.4 578.3L678.1 586.7M684.4 578.3L688.5 588.1M700.0 599.3L702.9 578.0M702.9 578.0L696.3 586.5M702.9 578.0L706.9 587.9M718.2 599.3L721.1 577.9M721.1 577.9L714.5 586.4M721.1 577.9L725.2 587.9M736.4 599.3L739.3 577.8M739.3 577.8L732.7 586.4M739.3 577.8L743.4 587.8M754.5 599.3L757.5 576.7M757.5 576.7L750.6 585.7M757.5 576.7L761.8 587.2M772.7 599.3L775.5 575.9M775.5 575.9L768.5 585.3M775.5 575.9L780.1 586.7M790.9 599.3L793.5 575.4M793.5 575.4L786.4 585.1M793.5 575.4L798.4 586.4M27.3 617.4L24.7 611.3M24.7 611.3L24.3 614.6M24.7 611.3L27.4 613.3M45.5 617.4L42.8 607.5M42.8 607.5L41.4 612.5M42.8 607.5L46.4 611.2M63.6 617.4L61.8 607.1M61.8 607.1L60.0 612.1M61.8 607.1L65.2 611.2M81.8 617.4L80.9 606.8M80.9 606.8L78.6 611.7M80.9 606.8L83.9 611.2M100.0 617.4L99.4 606.6M99.4 606.6L96.9 611.5M99.4 606.6L102.4 611.2M118.2 617.4L117.8 606.5M117.8 606.5L115.2 611.4M117.8 606.5L120.7 611.1M136.4 617.4L136.1 606.4M136.1 606.4L133.5 611.2M136.1 606.4L139.0 611.1M154.5 617.4L154.5 606.2M154.5 606.2L151.7 611.1M154.5 606.2L157.3 611.1M172.7 617.4L172.7 606.0M172.7 606.0L169.9 611.0M172.7 606.0L175.6 611.0M190.9 617.4L190.9 605.7M190.9 605.7L188.0 610.8M190.9 605.7L193.8 610.8M209.1 617.4L209.2 605.5M209.2 605.5L206.2 610.6M209.2 605.5L212.2 610.7M227.3 617.4L227.5 605.4M227.5 605.4L224.4 610.5M227.5 605.4L230.4 610.7M245.5 617.4L245.8 605.3M245.8 605.3L242.6 610.5M245.8 605.3L248.7 610.6M263.6 617.4L264.1 605.0M264.1 605.0L260.8 610.3M264.1 605.0L267.0 610.5M281.8 617.4L282.5 604.7M282.5 604.7L279.0 610.1M282.5 604.7L285.4 610.4M300.0 617.4L300.9 604.2M300.9 604.2L297.2 609.7M300.9 604.2L303.8 610.1M318.2 617.4L319.3 603.6M319.3 603.6L315.4 609.3M319.3 603.6L322.3 609.9M336.4 617.4L337.7 603.1M337.7 603.1L333.5 609.0M337.7 603.1L340.7 609.6M354.5 617.4L356.2 602.6M356.2 602.6L351.7 608.6M356.2 602.6L359.2 609.4M372.7 617.4L374.6 601.9M374.6 601.9L369.9 608.2M374.6 601.9L377.7 609.1M390.9 617.4L393.2 601.3M393.2 601.3L388.2 607.7M393.2 601.3L396.3 608.9M409.1 617.4L412.0 600.1M412.0 600.1L406.4 606.9M412.0 600.1L415.1 608.4M427.3 617.4L431.0 598.9M431.0 598.9L424.7 606.0M431.0 598.9L434.0 607.9M445.5 617.4L450.2 597.1M450.2 597.1L443.1 604.7M450.2 597.1L453.3 607.1M463.6 617.4L469.0 596.1M469.0 596.1L461.3 604.0M469.0 596.1L472.0 606.7M481.8 617.4L487.4 596.2M487.4 596.2L479.7 604.0M487.4 596.2L490.3 606.8M500.0 617.4L505.1 596.0M505.1 596.0L497.5 604.0M505.1 596.0L508.3 606.6M518.2 617.4L522.7 595.9M522.7 595.9L515.3 604.1M522.7 595.9L526.1 606.3M536.4 617.4L539.5 596.4M539.5 596.4L532.9 604.7M539.5 596.4L543.4 606.3M554.5 617.4L556.3 597.2M556.3 597.2L550.5 605.5M556.3 597.2L560.6 606.4M572.7 617.4L573.9 597.1M573.9 597.1L568.3 605.6M573.9 597.1L578.5 606.2M590.9 617.4L591.6 597.1M591.6 597.1L586.2 605.7M591.6 597.1L596.4 606.1M609.1 617.4L609.8 597.1M609.8 597.1L604.4 605.8M609.8 597.1L614.6 606.1M627.3 617.4L628.0 597.1M628.0 597.1L622.6 605.7M628.0 597.1L632.8 606.1M645.5 617.4L646.6 596.9M646.6 596.9L641.0 605.5M646.6 596.9L651.2 606.1M663.6 617.4L665.4 597.0M665.4 597.0L659.5 605.4M665.4 597.0L669.7 606.3M681.8 617.4L683.9 597.0M683.9 597.0L677.9 605.3M683.9 597.0L688.1 606.4M700.0 617.4L702.4 596.5M702.4 596.5L696.1 605.0M702.4 596.5L706.6 606.2M718.2 617.4L720.7 596.2M720.7 596.2L714.3 604.8M720.7 596.2L724.9 606.1M736.4 617.4L738.9 596.0M738.9 596.0L732.4 604.6M738.9 596.0L743.2 605.9M754.5 617.4L757.0 594.5M757.0 594.5L750.2 603.8M757.0 594.5L761.7 605.0M772.7 617.4L774.9 594.1M774.9 594.1L768.1 603.7M774.9 594.1L779.8 604.8M790.9 617.4L792.8 593.8M792.8 593.8L786.1 603.6M792.8 593.8L797.9 604.5M9.1 635.6L5.7 629.8M5.7 629.8L5.7 633.2M5.7 629.8L8.6 631.5M27.3 635.6L24.5 629.5M24.5 629.5L24.2 632.8M24.5 629.5L27.3 631.5M45.5 635.6L42.6 625.9M42.6 625.9L41.4 630.8M42.6 625.9L46.3 629.4M63.6 635.6L61.7 625.4M61.7 625.4L60.0 630.4M61.7 625.4L65.1 629.4M81.8 635.6L80.7 625.1M80.7 625.1L78.6 629.9M80.7 625.1L83.8 629.4M100.0 635.6L99.3 624.9M99.3 624.9L96.9 629.7M99.3 624.9L102.3 629.4M118.2 635.6L117.7 624.7M117.7 624.7L115.2 629.6M117.7 624.7L120.7 629.3M136.4 635.6L136.1 624.6M136.1 624.6L133.5 629.4M136.1 624.6L139.0 629.3M154.5 635.6L154.5 624.4M154.5 624.4L151.7 629.3M154.5 624.4L157.3 629.3M172.7 635.6L172.7 624.2M172.7 624.2L169.9 629.2M172.7 624.2L175.6 629.2M190.9 635.6L190.9 624.0M190.9 624.0L188.0 629.0M190.9 624.0L193.8 629.0M209.1 635.6L209.2 623.8M209.2 623.8L206.2 628.9M209.2 623.8L212.1 629.0M227.3 635.6L227.5 623.6M227.5 623.6L224.4 628.8M227.5 623.6L230.4 628.9M245.5 635.6L245.8 623.4M245.8 623.4L242.6 628.6M245.8 623.4L248.7 628.7M263.6 635.6L264.1 623.1M264.1 623.1L260.7 628.4M264.1 623.1L267.0 628.6M281.8 635.6L282.5 622.7M282.5 622.7L278.9 628.1M282.5 622.7L285.4 628.5M300.0 635.6L300.9 622.2M300.9 622.2L297.1 627.8M300.9 622.2L303.9 628.2M318.2 635.6L319.4 621.6M319.4 621.6L315.3 627.4M319.4 621.6L322.4 628.0M336.4 635.6L337.8 621.0M337.8 621.0L333.5 627.0M337.8 621.0L340.9 627.7M354.5 635.6L356.4 620.4M356.4 620.4L351.8 626.5M356.4 620.4L359.4 627.4M372.7 635.6L374.9 619.7M374.9 619.7L370.0 626.0M374.9 619.7L378.0 627.1M390.9 635.6L393.6 619.0M393.6 619.0L388.3 625.5M393.6 619.0L396.6 626.9M409.1 635.6L412.4 618.4M412.4 618.4L406.7 625.0M412.4 618.4L415.3 626.7M427.3 635.6L431.2 617.9M431.2 617.9L425.1 624.6M431.2 617.9L433.9 626.6M445.5 635.6L450.3 615.9M450.3 615.9L443.3 623.2M450.3 615.9L453.2 625.7M463.6 635.6L469.1 614.1M469.1 614.1L461.3 622.1M469.1 614.1L472.1 624.8M481.8 635.6L487.2 614.1M487.2 614.1L479.5 622.1M487.2 614.1L490.3 624.8M500.0 635.6L504.6 613.9M504.6 613.9L497.2 622.2M504.6 613.9L508.1 624.5M518.2 635.6L521.8 613.7M521.8 613.7L514.8 622.3M521.8 613.7L525.7 624.1M536.4 635.6L538.9 613.6M538.9 613.6L532.3 622.5M538.9 613.6L543.3 623.8M554.5 635.6L555.9 613.5M555.9 613.5L549.8 622.7M555.9 613.5L560.9 623.4M572.7 635.6L573.6 614.2M573.6 614.2L567.8 623.3M573.6 614.2L578.6 623.7M590.9 635.6L591.4 614.2M591.4 614.2L585.8 623.4M591.4 614.2L596.5 623.6M609.1 635.6L609.3 614.2M609.3 614.2L603.9 623.4M609.3 614.2L614.6 623.5M627.3 635.6L627.3 614.2M627.3 614.2L621.9 623.5M627.3 614.2L632.7 623.5M645.5 635.6L646.0 614.9M646.0 614.9L640.6 623.7M646.0 614.9L650.9 624.0M663.6 635.6L664.9 614.9M664.9 614.9L659.2 623.6M664.9 614.9L669.5 624.2M681.8 635.6L683.5 615.0M683.5 615.0L677.6 623.5M683.5 615.0L687.9 624.3M700.0 635.6L702.1 615.0M702.1 615.0L696.0 623.4M702.1 615.0L706.3 624.5M718.2 635.6L720.3 614.7M720.3 614.7L714.2 623.2M720.3 614.7L724.7 624.3M736.4 635.6L738.6 614.3M738.6 614.3L732.3 623.0M738.6 614.3L743.0 624.1M754.5 635.6L756.6 613.0M756.6 613.0L750.0 622.3M756.6 613.0L761.4 623.3M772.7 635.6L774.4 612.7M774.4 612.7L767.9 622.2M774.4 612.7L779.4 623.0M790.9 635.6L792.2 612.4M792.2 612.4L785.8 622.1M792.2 612.4L797.4 622.7M9.1 653.8L5.7 648.0M5.7 648.0L5.7 651.4M5.7 648.0L8.6 649.7M27.3 653.8L24.5 647.7M24.5 647.7L24.2 651.0M24.5 647.7L27.3 649.7M45.5 653.8L42.6 644.0M42.6 644.0L41.4 649.0M42.6 644.0L46.3 647.5M63.6 653.8L61.7 643.6M61.7 643.6L60.0 648.5M61.7 643.6L65.1 647.5M81.8 653.8L80.7 643.3M80.7 643.3L78.6 648.1M80.7 643.3L83.8 647.6M100.0 653.8L99.3 643.1M99.3 643.1L96.9 647.9M99.3 643.1L102.3 647.5M118.2 653.8L117.7 642.9M117.7 642.9L115.2 647.7M117.7 642.9L120.7 647.5M136.4 653.8L136.1 642.8M136.1 642.8L133.5 647.6M136.1 642.8L139.0 647.5M154.5 653.8L154.5 642.6M154.5 642.6L151.7 647.5M154.5 642.6L157.3 647.4M172.7 653.8L172.7 642.4M172.7 642.4L169.9 647.3M172.7 642.4L175.6 647.3M190.9 653.8L190.9 642.2M190.9 642.2L188.0 647.2M190.9 642.2L193.8 647.2M209.1 653.8L209.2 641.9M209.2 641.9L206.2 647.1M209.2 641.9L212.1 647.1M227.3 653.8L227.5 641.7M227.5 641.7L224.4 646.9M227.5 641.7L230.4 647.0M245.5 653.8L245.8 641.5M245.8 641.5L242.5 646.8M245.8 641.5L248.7 646.9M263.6 653.8L264.1 641.3M264.1 641.3L260.7 646.6M264.1 641.3L267.0 646.8M281.8 653.8L282.5 640.8M282.5 640.8L278.9 646.3M282.5 640.8L285.4 646.6M300.0 653.8L300.9 640.3M300.9 640.3L297.1 645.9M300.9 640.3L303.9 646.4M318.2 653.8L319.4 639.8M319.4 639.8L315.3 645.6M319.4 639.8L322.4 646.2M336.4 653.8L337.8 639.2M337.8 639.2L333.6 645.2M337.8 639.2L340.8 645.9M354.5 653.8L356.4 638.7M356.4 638.7L351.8 644.8M356.4 638.7L359.4 645.7M372.7 653.8L375.0 638.1M375.0 638.1L370.1 644.3M375.0 638.1L378.0 645.5M390.9 653.8L393.8 637.5M393.8 637.5L388.5 643.9M393.8 637.5L396.6 645.3M409.1 653.8L412.7 636.6M412.7 636.6L406.8 643.2M412.7 636.6L415.4 645.0M427.3 653.8L431.4 636.3M431.4 636.3L425.3 642.8M431.4 636.3L434.0 644.9M445.5 653.8L450.6 634.4M450.6 634.4L443.5 641.5M450.6 634.4L453.2 644.1M463.6 653.8L469.3 632.7M469.3 632.7L461.6 640.4M469.3 632.7L472.1 643.2M481.8 653.8L487.4 632.5M487.4 632.5L479.7 640.3M487.4 632.5L490.3 643.1M500.0 653.8L504.7 632.2M504.7 632.2L497.3 640.4M504.7 632.2L508.1 642.7M518.2 653.8L521.9 631.9M521.9 631.9L514.8 640.5M521.9 631.9L525.7 642.3M536.4 653.8L538.9 631.8M538.9 631.8L532.3 640.7M538.9 631.8L543.3 641.9M554.5 653.8L555.9 631.7M555.9 631.7L549.8 640.9M555.9 631.7L560.9 641.6M572.7 653.8L573.6 632.4M573.6 632.4L567.8 641.4M573.6 632.4L578.6 641.9M590.9 653.8L591.4 632.4M591.4 632.4L585.8 641.5M591.4 632.4L596.5 641.8M609.1 653.8L609.3 632.4M609.3 632.4L603.9 641.6M609.3 632.4L614.6 641.7M627.3 653.8L627.3 632.4M627.3 632.4L621.9 641.6M627.3 632.4L632.7 641.7M645.5 653.8L645.9 633.0M645.9 633.0L640.5 641.9M645.9 633.0L650.9 642.1M663.6 653.8L664.6 633.0M664.6 633.0L659.0 641.8M664.6 633.0L669.3 642.3M681.8 653.8L683.2 633.1M683.2 633.1L677.4 641.7M683.2 633.1L687.8 642.4M700.0 653.8L701.9 633.1M701.9 633.1L695.9 641.6M701.9 633.1L706.2 642.5M718.2 653.8L720.2 632.8M720.2 632.8L714.1 641.4M720.2 632.8L724.6 642.4M736.4 653.8L738.4 632.4M738.4 632.4L732.2 641.2M738.4 632.4L742.8 642.2M754.5 653.8L756.3 631.5M756.3 631.5L750.0 640.7M756.3 631.5L761.1 641.6M772.7 653.8L774.1 631.3M774.1 631.3L767.9 640.7M774.1 631.3L779.2 641.4M790.9 653.8L791.8 631.0M791.8 631.0L785.7 640.6M791.8 631.0L797.1 641.1M9.1 672.0L5.7 666.2M5.7 666.2L5.7 669.5M5.7 666.2L8.6 667.9M27.3 672.0L24.6 665.9M24.6 665.9L24.2 669.2M24.6 665.9L27.3 667.8M45.5 672.0L42.6 662.2M42.6 662.2L41.4 667.2M42.6 662.2L46.3 665.7M63.6 672.0L61.7 661.8M61.7 661.8L60.0 666.7M61.7 661.8L65.1 665.7M81.8 672.0L80.7 661.5M80.7 661.5L78.6 666.3M80.7 661.5L83.8 665.8M100.0 672.0L99.3 661.3M99.3 661.3L96.9 666.1M99.3 661.3L102.3 665.7M118.2 672.0L117.7 661.1M117.7 661.1L115.2 665.9M117.7 661.1L120.7 665.7M136.4 672.0L136.1 660.9M136.1 660.9L133.5 665.8M136.1 660.9L139.0 665.7M154.5 672.0L154.5 660.8M154.5 660.8L151.7 665.6M154.5 660.8L157.3 665.6M172.7 672.0L172.7 660.5M172.7 660.5L169.9 665.5M172.7 660.5L175.6 665.5M190.9 672.0L190.9 660.3M190.9 660.3L188.0 665.4M190.9 660.3L193.8 665.4M209.1 672.0L209.2 660.1M209.2 660.1L206.2 665.2M209.2 660.1L212.1 665.2M227.3 672.0L227.5 659.9M227.5 659.9L224.3 665.1M227.5 659.9L230.4 665.2M245.5 672.0L245.8 659.7M245.8 659.7L242.5 664.9M245.8 659.7L248.7 665.1M263.6 672.0L264.1 659.4M264.1 659.4L260.7 664.7M264.1 659.4L267.0 664.9M281.8 672.0L282.5 658.9M282.5 658.9L278.9 664.4M282.5 658.9L285.4 664.7M300.0 672.0L300.9 658.5M300.9 658.5L297.1 664.1M300.9 658.5L303.9 664.5M318.2 672.0L319.4 658.0M319.4 658.0L315.4 663.8M319.4 658.0L322.4 664.3M336.4 672.0L337.9 657.5M337.9 657.5L333.6 663.4M337.9 657.5L340.8 664.1M354.5 672.0L356.5 657.0M356.5 657.0L351.9 663.0M356.5 657.0L359.4 664.0M372.7 672.0L375.1 656.5M375.1 656.5L370.2 662.6M375.1 656.5L378.0 663.8M390.9 672.0L394.0 656.1M394.0 656.1L388.7 662.2M394.0 656.1L396.6 663.7M409.1 672.0L413.0 654.9M413.0 654.9L407.0 661.3M413.0 654.9L415.6 663.3M427.3 672.0L431.8 654.7M431.8 654.7L425.5 661.1M431.8 654.7L434.1 663.3M445.5 672.0L450.9 653.0M450.9 653.0L443.8 659.9M450.9 653.0L453.3 662.6M463.6 672.0L469.5 651.2M469.5 651.2L461.8 658.7M469.5 651.2L472.2 661.7M481.8 672.0L487.6 650.9M487.6 650.9L479.8 658.6M487.6 650.9L490.4 661.5M500.0 672.0L504.8 650.5M504.8 650.5L497.4 658.6M504.8 650.5L508.1 661.0M518.2 672.0L521.9 650.1M521.9 650.1L514.8 658.7M521.9 650.1L525.8 660.5M536.4 672.0L538.9 649.9M538.9 649.9L532.3 658.8M538.9 649.9L543.3 660.1M554.5 672.0L555.9 649.8M555.9 649.8L549.8 659.1M555.9 649.8L560.9 659.8M572.7 672.0L573.5 650.5M573.5 650.5L567.8 659.6M573.5 650.5L578.5 660.0M590.9 672.0L591.3 650.5M591.3 650.5L585.8 659.7M591.3 650.5L596.5 659.9M609.1 672.0L609.3 650.5M609.3 650.5L603.8 659.8M609.3 650.5L614.6 659.9M627.3 672.0L627.3 650.5M627.3 650.5L621.9 659.8M627.3 650.5L632.7 659.8M645.5 672.0L645.7 651.1M645.7 651.1L640.4 660.1M645.7 651.1L650.8 660.2M663.6 672.0L664.3 651.2M664.3 651.2L658.8 660.0M664.3 651.2L669.2 660.3M681.8 672.0L682.9 651.2M682.9 651.2L677.2 659.9M682.9 651.2L687.6 660.5M700.0 672.0L701.5 651.2M701.5 651.2L695.7 659.8M701.5 651.2L706.1 660.6M718.2 672.0L719.8 650.9M719.8 650.9L713.8 659.6M719.8 650.9L724.4 660.4M736.4 672.0L738.0 650.6M738.0 650.6L731.9 659.5M738.0 650.6L742.6 660.3M754.5 672.0L755.9 650.1M755.9 650.1L749.8 659.2M755.9 650.1L760.8 659.9M772.7 672.0L773.7 649.9M773.7 649.9L767.8 659.2M773.7 649.9L778.8 659.7M790.9 672.0L791.4 649.7M791.4 649.7L785.6 659.2M791.4 649.7L796.8 659.5M9.1 690.2L5.7 684.4M5.7 684.4L5.7 687.7M5.7 684.4L8.6 686.0M27.3 690.2L24.6 684.0M24.6 684.0L24.2 687.3M24.6 684.0L27.3 686.0M45.5 690.2L42.8 680.3M42.8 680.3L41.5 685.2M42.8 680.3L46.4 683.9M63.6 690.2L61.9 679.9M61.9 679.9L60.1 684.8M61.9 679.9L65.2 683.9M81.8 690.2L80.8 679.6M80.8 679.6L78.6 684.4M80.8 679.6L83.9 684.0M100.0 690.2L99.4 679.4M99.4 679.4L97.0 684.2M99.4 679.4L102.3 683.9M118.2 690.2L117.8 679.3M117.8 679.3L115.2 684.1M117.8 679.3L120.7 683.9M136.4 690.2L136.1 679.1M136.1 679.1L133.5 684.0M136.1 679.1L139.0 683.8M154.5 690.2L154.5 678.9M154.5 678.9L151.7 683.8M154.5 678.9L157.3 683.8M172.7 690.2L172.7 678.7M172.7 678.7L169.9 683.7M172.7 678.7L175.6 683.7M190.9 690.2L190.9 678.5M190.9 678.5L188.0 683.5M190.9 678.5L193.8 683.5M209.1 690.2L209.2 678.2M209.2 678.2L206.1 683.4M209.2 678.2L212.1 683.4M227.3 690.2L227.5 678.0M227.5 678.0L224.3 683.2M227.5 678.0L230.4 683.3M245.5 690.2L245.8 677.8M245.8 677.8L242.5 683.1M245.8 677.8L248.7 683.2M263.6 690.2L264.1 677.5M264.1 677.5L260.7 682.9M264.1 677.5L267.0 683.1M281.8 690.2L282.5 677.1M282.5 677.1L278.9 682.6M282.5 677.1L285.5 682.9M300.0 690.2L300.9 676.6M300.9 676.6L297.1 682.3M300.9 676.6L303.9 682.7M318.2 690.2L319.4 676.2M319.4 676.2L315.4 681.9M319.4 676.2L322.4 682.5M336.4 690.2L338.0 675.7M338.0 675.7L333.7 681.6M338.0 675.7L340.9 682.4M354.5 690.2L356.6 675.3M356.6 675.3L352.0 681.2M356.6 675.3L359.4 682.3M372.7 690.2L375.4 674.9M375.4 674.9L370.4 680.9M375.4 674.9L378.0 682.2M390.9 690.2L394.3 674.6M394.3 674.6L388.9 680.5M394.3 674.6L396.7 682.2M409.1 690.2L413.6 673.2M413.6 673.2L407.4 679.4M413.6 673.2L415.9 681.7M427.3 690.2L432.3 673.1M432.3 673.1L425.8 679.3M432.3 673.1L434.4 681.8M445.5 690.2L451.3 671.7M451.3 671.7L444.1 678.2M451.3 671.7L453.4 681.1M463.6 690.2L469.9 669.8M469.9 669.8L462.1 677.1M469.9 669.8L472.3 680.2M481.8 690.2L487.9 669.4M487.9 669.4L480.1 676.9M487.9 669.4L490.5 679.9M500.0 690.2L505.1 668.8M505.1 668.8L497.5 676.8M505.1 668.8L508.2 679.3M518.2 690.2L521.9 668.3M521.9 668.3L514.8 676.8M521.9 668.3L525.8 678.7M536.4 690.2L538.9 668.1M538.9 668.1L532.3 677.0M538.9 668.1L543.3 678.3M554.5 690.2L555.9 668.0M555.9 668.0L549.8 677.3M555.9 668.0L560.9 678.0M572.7 690.2L573.5 668.7M573.5 668.7L567.8 677.8M573.5 668.7L578.5 678.2M590.9 690.2L591.2 668.7M591.2 668.7L585.7 677.9M591.2 668.7L596.4 678.1M609.1 690.2L609.2 668.7M609.2 668.7L603.8 678.0M609.2 668.7L614.5 678.0M627.3 690.2L627.3 668.7M627.3 668.7L621.9 678.0M627.3 668.7L632.6 678.0M645.5 690.2L645.7 669.3M645.7 669.3L640.3 678.3M645.7 669.3L650.8 678.4M663.6 690.2L664.1 669.3M664.1 669.3L658.7 678.2M664.1 669.3L669.1 678.4M681.8 690.2L682.4 669.3M682.4 669.3L676.9 678.2M682.4 669.3L687.4 678.5M700.0 690.2L700.7 669.3M700.7 669.3L695.2 678.1M700.7 669.3L705.6 678.5M718.2 690.2L718.7 669.0M718.7 669.0L713.2 678.0M718.7 669.0L723.8 678.3M736.4 690.2L736.7 668.7M736.7 668.7L731.2 677.9M736.7 668.7L741.9 678.1M754.5 690.2L754.6 668.6M754.6 668.6L749.2 677.9M754.6 668.6L760.0 678.0M772.7 690.2L772.6 668.5M772.6 668.5L767.2 677.9M772.6 668.5L778.1 677.8M790.9 690.2L790.4 668.3M790.4 668.3L785.2 677.9M790.4 668.3L796.1 677.7M9.1 708.3L5.7 702.5M5.7 702.5L5.7 705.9M5.7 702.5L8.6 704.2M27.3 708.3L24.7 702.2M24.7 702.2L24.3 705.5M24.7 702.2L27.4 704.2M45.5 708.3L43.0 698.3M43.0 698.3L41.6 703.3M43.0 698.3L46.6 702.1M63.6 708.3L62.1 697.9M62.1 697.9L60.1 702.8M62.1 697.9L65.3 702.1M81.8 708.3L80.9 697.6M80.9 697.6L78.6 702.5M80.9 697.6L84.0 702.1M100.0 708.3L99.4 697.4M99.4 697.4L96.9 702.3M99.4 697.4L102.4 702.0M118.2 708.3L117.8 697.3M117.8 697.3L115.2 702.2M117.8 697.3L120.7 702.0M136.4 708.3L136.1 697.1M136.1 697.1L133.4 702.0M136.1 697.1L139.1 701.9M154.5 708.3L154.5 696.9M154.5 696.9L151.7 701.9M154.5 696.9L157.4 701.9M172.7 708.3L172.7 696.6M172.7 696.6L169.8 701.7M172.7 696.6L175.7 701.7M190.9 708.3L190.9 696.4M190.9 696.4L187.9 701.6M190.9 696.4L193.9 701.6M209.1 708.3L209.2 696.3M209.2 696.3L206.1 701.5M209.2 696.3L212.2 701.5M227.3 708.3L227.5 696.1M227.5 696.1L224.3 701.3M227.5 696.1L230.5 701.4M245.5 708.3L245.8 695.9M245.8 695.9L242.5 701.2M245.8 695.9L248.7 701.4M263.6 708.3L264.1 695.5M264.1 695.5L260.7 701.0M264.1 695.5L267.1 701.2M281.8 708.3L282.5 695.0M282.5 695.0L278.9 700.6M282.5 695.0L285.5 701.0M300.0 708.3L300.9 694.6M300.9 694.6L297.1 700.3M300.9 694.6L304.0 700.8M318.2 708.3L319.5 694.2M319.5 694.2L315.4 700.0M319.5 694.2L322.5 700.6M336.4 708.3L338.1 693.9M338.1 693.9L333.7 699.7M338.1 693.9L340.9 700.6M354.5 708.3L356.8 693.7M356.8 693.7L352.2 699.5M356.8 693.7L359.5 700.6M372.7 708.3L375.6 693.4M375.6 693.4L370.6 699.1M375.6 693.4L378.1 700.6M390.9 708.3L394.6 693.1M394.6 693.1L389.2 698.8M394.6 693.1L396.8 700.6M409.1 708.3L413.8 692.6M413.8 692.6L407.8 698.2M413.8 692.6L415.7 700.6M427.3 708.3L432.4 692.7M432.4 692.7L426.3 698.2M432.4 692.7L434.1 700.8M445.5 708.3L451.0 692.3M451.0 692.3L444.6 697.8M451.0 692.3L452.6 700.6M463.6 708.3L469.2 691.5M469.2 691.5L462.6 697.4M469.2 691.5L471.0 700.2M481.8 708.3L487.1 691.4M487.1 691.4L480.6 697.4M487.1 691.4L489.1 700.1M500.0 708.3L504.3 691.1M504.3 691.1L498.1 697.5M504.3 691.1L506.7 699.6M518.2 708.3L521.5 689.4M521.5 689.4L515.3 696.8M521.5 689.4L524.8 698.4M536.4 708.3L538.6 689.2M538.6 689.2L532.9 697.0M538.6 689.2L542.4 698.1M554.5 708.3L555.8 688.0M555.8 688.0L550.2 696.5M555.8 688.0L560.3 697.2M572.7 708.3L573.4 688.0M573.4 688.0L568.0 696.7M573.4 688.0L578.2 697.0M590.9 708.3L591.0 688.0M591.0 688.0L585.9 696.8M591.0 688.0L596.1 696.8M609.1 708.3L609.1 688.0M609.1 688.0L604.0 696.8M609.1 688.0L614.2 696.8M627.3 708.3L627.3 687.7M627.3 687.7L622.1 696.6M627.3 687.7L632.4 696.6M645.5 708.3L645.6 687.4M645.6 687.4L640.3 696.4M645.6 687.4L650.8 696.5M663.6 708.3L663.9 687.1M663.9 687.1L658.5 696.2M663.9 687.1L669.1 696.4M681.8 708.3L682.0 687.0M682.0 687.0L676.6 696.2M682.0 687.0L687.3 696.3M700.0 708.3L700.0 686.9M700.0 686.9L694.7 696.2M700.0 686.9L705.4 696.2M718.2 708.3L717.9 686.8M717.9 686.8L712.6 696.2M717.9 686.8L723.4 696.1M736.4 708.3L735.7 686.7M735.7 686.7L730.6 696.3M735.7 686.7L741.4 695.9M754.5 708.3L753.6 686.7M753.6 686.7L748.6 696.3M753.6 686.7L759.4 695.9M772.7 708.3L771.6 686.7M771.6 686.7L766.7 696.4M771.6 686.7L777.5 695.8M790.9 708.3L789.6 686.7M789.6 686.7L784.8 696.4M789.6 686.7L795.6 695.8M9.1 726.5L5.7 720.7M5.7 720.7L5.7 724.1M5.7 720.7L8.6 722.4M27.3 726.5L24.7 720.3M24.7 720.3L24.3 723.7M24.7 720.3L27.4 722.4M45.5 726.5L43.1 716.3M43.1 716.3L41.6 721.3M43.1 716.3L46.7 720.1M63.6 726.5L62.2 715.9M62.2 715.9L60.2 720.9M62.2 715.9L65.5 720.1M81.8 726.5L81.0 715.6M81.0 715.6L78.6 720.5M81.0 715.6L84.1 720.2M100.0 726.5L99.5 715.4M99.5 715.4L96.9 720.3M99.5 715.4L102.5 720.1M118.2 726.5L117.9 715.1M117.9 715.1L115.2 720.2M117.9 715.1L120.8 720.0M136.4 726.5L136.2 714.9M136.2 714.9L133.4 720.0M136.2 714.9L139.2 719.9M154.5 726.5L154.5 714.6M154.5 714.6L151.6 719.8M154.5 714.6L157.5 719.8M172.7 726.5L172.7 714.6M172.7 714.6L169.7 719.8M172.7 714.6L175.7 719.8M190.9 726.5L190.9 714.5M190.9 714.5L187.9 719.7M190.9 714.5L193.9 719.7M209.1 726.5L209.2 714.3M209.2 714.3L206.1 719.5M209.2 714.3L212.2 719.6M227.3 726.5L227.5 714.1M227.5 714.1L224.3 719.4M227.5 714.1L230.5 719.5M245.5 726.5L245.8 714.0M245.8 714.0L242.5 719.3M245.8 714.0L248.8 719.5M263.6 726.5L264.1 713.6M264.1 713.6L260.6 719.1M264.1 713.6L267.1 719.3M281.8 726.5L282.5 713.2M282.5 713.2L278.9 718.8M282.5 713.2L285.5 719.1M300.0 726.5L300.9 712.7M300.9 712.7L297.1 718.5M300.9 712.7L304.0 718.9M318.2 726.5L319.5 712.2M319.5 712.2L315.4 718.0M319.5 712.2L322.5 718.7M336.4 726.5L338.2 712.1M338.2 712.1L333.8 717.9M338.2 712.1L341.0 718.8M354.5 726.5L356.9 712.1M356.9 712.1L352.3 717.8M356.9 712.1L359.5 719.0M372.7 726.5L375.8 711.9M375.8 711.9L370.8 717.4M375.8 711.9L378.1 719.0M390.9 726.5L394.8 711.7M394.8 711.7L389.4 717.1M394.8 711.7L396.8 719.1M409.1 726.5L414.2 710.9M414.2 710.9L408.1 716.4M414.2 710.9L415.9 718.9M427.3 726.5L432.7 711.2M432.7 711.2L426.5 716.5M432.7 711.2L434.2 719.2M445.5 726.5L450.8 711.9M450.8 711.9L444.8 716.9M450.8 711.9L452.1 719.6M463.6 726.5L468.7 711.9M468.7 711.9L462.9 716.9M468.7 711.9L470.2 719.5M481.8 726.5L486.6 711.7M486.6 711.7L480.8 717.0M486.6 711.7L488.2 719.3M500.0 726.5L503.9 711.5M503.9 711.5L498.4 717.0M503.9 711.5L506.0 719.0M518.2 726.5L521.2 710.3M521.2 710.3L515.8 716.6M521.2 710.3L523.9 718.1M536.4 726.5L538.4 710.2M538.4 710.2L533.4 716.8M538.4 710.2L541.6 717.8M554.5 726.5L555.7 708.8M555.7 708.8L550.8 716.2M555.7 708.8L559.6 716.8M572.7 726.5L573.3 708.8M573.3 708.8L568.6 716.3M573.3 708.8L577.5 716.6M590.9 726.5L591.0 708.8M591.0 708.8L586.5 716.4M591.0 708.8L595.4 716.5M609.1 726.5L609.1 707.5M609.1 707.5L604.3 715.7M609.1 707.5L613.9 715.7M627.3 726.5L627.3 707.2M627.3 707.2L622.4 715.6M627.3 707.2L632.1 715.6M645.5 726.5L645.5 706.9M645.5 706.9L640.6 715.4M645.5 706.9L650.4 715.4M663.6 726.5L663.8 706.6M663.8 706.6L658.7 715.2M663.8 706.6L668.7 715.2M681.8 726.5L681.9 706.4M681.9 706.4L676.8 715.1M681.9 706.4L686.9 715.2M700.0 726.5L700.0 706.3M700.0 706.3L695.0 715.1M700.0 706.3L705.1 715.1M718.2 726.5L717.9 706.2M717.9 706.2L712.9 715.1M717.9 706.2L723.1 714.9M736.4 726.5L735.7 706.1M735.7 706.1L730.9 715.1M735.7 706.1L741.1 714.8M754.5 726.5L753.7 706.0M753.7 706.0L748.9 715.1M753.7 706.0L759.2 714.7M772.7 726.5L771.7 705.9M771.7 705.9L767.0 715.1M771.7 705.9L777.3 714.6M790.9 726.5L789.7 705.8M789.7 705.8L785.0 715.1M789.7 705.8L795.4 714.5M9.1 744.7L5.7 738.9M5.7 738.9L5.7 742.3M5.7 738.9L8.6 740.6M27.3 744.7L24.8 738.5M24.8 738.5L24.3 741.8M24.8 738.5L27.4 740.6M45.5 744.7L43.2 734.2M43.2 734.2L41.6 739.3M43.2 734.2L46.8 738.2M63.6 744.7L62.3 733.8M62.3 733.8L60.1 738.9M62.3 733.8L65.6 738.2M81.8 744.7L81.1 733.5M81.1 733.5L78.6 738.5M81.1 733.5L84.2 738.2M100.0 744.7L99.6 733.2M99.6 733.2L96.9 738.3M99.6 733.2L102.6 738.1M118.2 744.7L118.0 733.0M118.0 733.0L115.1 738.1M118.0 733.0L121.0 738.0M136.4 744.7L136.3 732.8M136.3 732.8L133.3 738.0M136.3 732.8L139.3 737.9M154.5 744.7L154.5 732.6M154.5 732.6L151.5 737.9M154.5 732.6L157.6 737.9M172.7 744.7L172.7 732.5M172.7 732.5L169.7 737.8M172.7 732.5L175.8 737.8M190.9 744.7L190.9 732.3M190.9 732.3L187.8 737.7M190.9 732.3L194.0 737.7M209.1 744.7L209.2 732.2M209.2 732.2L206.0 737.6M209.2 732.2L212.3 737.7M227.3 744.7L227.5 732.0M227.5 732.0L224.2 737.5M227.5 732.0L230.6 737.6M245.5 744.7L245.8 731.8M245.8 731.8L242.4 737.3M245.8 731.8L248.9 737.4M263.6 744.7L264.1 731.5M264.1 731.5L260.6 737.1M264.1 731.5L267.2 737.3M281.8 744.7L282.5 731.2M282.5 731.2L278.8 736.9M282.5 731.2L285.6 737.2M300.0 744.7L300.9 730.7M300.9 730.7L297.0 736.5M300.9 730.7L304.0 737.0M318.2 744.7L319.6 730.2M319.6 730.2L315.4 736.1M319.6 730.2L322.6 736.8M336.4 744.7L338.3 730.5M338.3 730.5L333.9 736.2M338.3 730.5L341.0 737.1M354.5 744.7L357.0 730.9M357.0 730.9L352.5 736.2M357.0 730.9L359.4 737.5M372.7 744.7L375.9 730.4M375.9 730.4L371.0 735.8M375.9 730.4L378.1 737.4M390.9 744.7L395.1 730.1M395.1 730.1L389.6 735.4M395.1 730.1L396.9 737.5M409.1 744.7L414.6 729.2M414.6 729.2L408.3 734.5M414.6 729.2L416.1 737.3M427.3 744.7L432.9 729.6M432.9 729.6L426.7 734.8M432.9 729.6L434.2 737.6M445.5 744.7L451.0 730.2M451.0 730.2L445.0 735.1M451.0 730.2L452.2 737.9M463.6 744.7L468.6 731.0M468.6 731.0L463.0 735.7M468.6 731.0L469.9 738.2M481.8 744.7L486.4 730.8M486.4 730.8L481.0 735.7M486.4 730.8L487.9 738.0M500.0 744.7L503.7 730.6M503.7 730.6L498.6 735.8M503.7 730.6L505.6 737.6M518.2 744.7L521.0 729.8M521.0 729.8L516.1 735.6M521.0 729.8L523.5 737.0M536.4 744.7L538.3 729.7M538.3 729.7L533.7 735.7M538.3 729.7L541.2 736.7M554.5 744.7L555.6 728.3M555.6 728.3L551.0 735.1M555.6 728.3L559.3 735.7M572.7 744.7L573.2 728.3M573.2 728.3L568.9 735.2M573.2 728.3L577.1 735.5M590.9 744.7L591.0 728.2M591.0 728.2L586.8 735.4M591.0 728.2L595.1 735.4M609.1 744.7L609.1 726.9M609.1 726.9L604.7 734.6M609.1 726.9L613.5 734.6M627.3 744.7L627.3 726.7M627.3 726.7L622.8 734.5M627.3 726.7L631.8 734.5M645.5 744.7L645.5 726.4M645.5 726.4L640.9 734.3M645.5 726.4L650.0 734.3M663.6 744.7L663.6 726.1M663.6 726.1L659.0 734.2M663.6 726.1L668.3 734.2M681.8 744.7L681.8 725.8M681.8 725.8L677.1 734.0M681.8 725.8L686.5 734.0M700.0 744.7L700.0 725.7M700.0 725.7L695.2 733.9M700.0 725.7L704.8 733.9M718.2 744.7L717.9 725.5M717.9 725.5L713.2 733.9M717.9 725.5L722.8 733.7M736.4 744.7L735.8 725.3M735.8 725.3L731.2 733.9M735.8 725.3L740.9 733.5M754.5 744.7L753.7 725.2M753.7 725.2L749.2 733.8M753.7 725.2L759.0 733.4M772.7 744.7L771.7 725.1M771.7 725.1L767.3 733.8M771.7 725.1L777.1 733.3M790.9 744.7L789.7 724.9M789.7 724.9L785.3 733.8M789.7 724.9L795.2 733.2M9.1 762.9L5.7 757.1M5.7 757.1L5.7 760.4M5.7 757.1L8.6 758.8M27.3 762.9L24.8 756.7M24.8 756.7L24.3 760.0M24.8 756.7L27.4 758.7M45.5 762.9L43.2 752.3M43.2 752.3L41.5 757.5M43.2 752.3L46.8 756.3M63.6 762.9L62.3 751.9M62.3 751.9L60.1 757.0M62.3 751.9L65.6 756.3M81.8 762.9L81.2 751.6M81.2 751.6L78.6 756.6M81.2 751.6L84.3 756.3M100.0 762.9L99.7 751.3M99.7 751.3L96.9 756.4M99.7 751.3L102.7 756.2M118.2 762.9L118.1 751.1M118.1 751.1L115.2 756.2M118.1 751.1L121.1 756.2M136.4 762.9L136.3 750.8M136.3 750.8L133.3 756.1M136.3 750.8L139.3 756.0M154.5 762.9L154.5 750.6M154.5 750.6L151.5 755.9M154.5 750.6L157.6 755.9M172.7 762.9L172.7 750.5M172.7 750.5L169.6 755.8M172.7 750.5L175.8 755.8M190.9 762.9L190.9 750.3M190.9 750.3L187.8 755.8M190.9 750.3L194.1 755.8M209.1 762.9L209.2 750.3M209.2 750.3L206.0 755.7M209.2 750.3L212.3 755.8M227.3 762.9L227.5 750.1M227.5 750.1L224.2 755.6M227.5 750.1L230.6 755.7M245.5 762.9L245.8 749.9M245.8 749.9L242.4 755.5M245.8 749.9L248.9 755.6M263.6 762.9L264.1 749.7M264.1 749.7L260.6 755.3M264.1 749.7L267.2 755.5M281.8 762.9L282.5 749.4M282.5 749.4L278.8 755.1M282.5 749.4L285.6 755.4M300.0 762.9L300.9 748.9M300.9 748.9L297.0 754.7M300.9 748.9L304.0 755.2M318.2 762.9L319.7 748.4M319.7 748.4L315.4 754.3M319.7 748.4L322.7 755.0M336.4 762.9L338.4 748.7M338.4 748.7L334.0 754.3M338.4 748.7L341.1 755.4M354.5 762.9L357.1 749.1M357.1 749.1L352.6 754.4M357.1 749.1L359.5 755.7M372.7 762.9L376.0 748.7M376.0 748.7L371.0 754.0M376.0 748.7L378.2 755.6M390.9 762.9L395.2 748.3M395.2 748.3L389.7 753.6M395.2 748.3L397.0 755.7M409.1 762.9L414.7 747.4M414.7 747.4L408.4 752.7M414.7 747.4L416.1 755.5M427.3 762.9L433.0 747.8M433.0 747.8L426.7 752.9M433.0 747.8L434.3 755.8M445.5 762.9L451.0 748.4M451.0 748.4L445.0 753.3M451.0 748.4L452.2 756.1M463.6 762.9L468.5 749.3M468.5 749.3L463.0 754.0M468.5 749.3L469.8 756.4M481.8 762.9L486.3 749.2M486.3 749.2L481.0 754.0M486.3 749.2L487.8 756.3M500.0 762.9L503.7 748.9M503.7 748.9L498.6 754.1M503.7 748.9L505.6 755.9M518.2 762.9L521.0 748.0M521.0 748.0L516.1 753.7M521.0 748.0L523.5 755.2M536.4 762.9L538.3 747.8M538.3 747.8L533.7 753.9M538.3 747.8L541.2 754.8M554.5 762.9L555.6 746.5M555.6 746.5L551.0 753.3M555.6 746.5L559.3 753.8M572.7 762.9L573.2 746.4M573.2 746.4L568.9 753.4M573.2 746.4L577.1 753.7M590.9 762.9L591.0 746.4M591.0 746.4L586.8 753.5M591.0 746.4L595.1 753.6M609.1 762.9L609.1 745.5M609.1 745.5L604.7 753.0M609.1 745.5L613.4 753.0M627.3 762.9L627.3 745.3M627.3 745.3L622.9 752.9M627.3 745.3L631.7 752.9M645.5 762.9L645.5 745.1M645.5 745.1L641.0 752.8M645.5 745.1L649.9 752.8M663.6 762.9L663.6 744.9M663.6 744.9L659.2 752.7M663.6 744.9L668.1 752.7M681.8 762.9L681.8 744.8M681.8 744.8L677.3 752.6M681.8 744.8L686.4 752.6M700.0 762.9L700.0 744.6M700.0 744.6L695.4 752.5M700.0 744.6L704.6 752.5M718.2 762.9L717.9 744.4M717.9 744.4L713.4 752.5M717.9 744.4L722.7 752.3M736.4 762.9L735.8 744.2M735.8 744.2L731.4 752.4M735.8 744.2L740.7 752.2M754.5 762.9L753.8 744.1M753.8 744.1L749.4 752.4M753.8 744.1L758.8 752.0M772.7 762.9L771.8 744.0M771.8 744.0L767.5 752.4M771.8 744.0L776.9 751.9M790.9 762.9L789.8 743.9M789.8 743.9L785.5 752.4M789.8 743.9L795.0 751.8" stroke="#fff" stroke-width="1" fill="none" shape-rendering="crispEdges"/>
<text x="5.6" y="49.6" font-size="24.3" font-weight="bold" fill="#808080" textLength="382.6" lengthAdjust="spacingAndGlyphs">modelo GEFS-WAVE (NCEP)</text>
<text x="4.8" y="72.1" font-size="24.3" font-weight="bold" fill="#808080" textLength="495.0" lengthAdjust="spacingAndGlyphs">forecast date: 2025-10-21 00:00:00</text>
<text x="41.0" y="94.6" font-size="24.3" font-weight="bold" fill="#808080" textLength="448.0" lengthAdjust="spacingAndGlyphs">valid date: 2025-10-29 03:00:00</text>
<polyline points="766.0,27.5 765.0,28.4 759.4,36.0 751.9,45.3 742.5,56.6 735.0,64.0 727.5,69.7 718.1,77.2 708.8,84.7 699.4,91.3 690.0,96.0 682.5,99.7 675.0,103.4 670.3,108.1 665.6,113.8 660.0,119.4 654.4,123.1 647.8,127.8 643.1,134.4 638.4,141.9 634.7,151.3 631.9,160.6 629.0,168.0 625.0,176.0 621.0,183.0 617.5,189.5 610.0,199.5 600.0,208.0 590.0,216.0 576.0,227.0 570.0,232.0 562.5,236.0 557.5,239.5 555.0,249.5 550.0,259.5 545.0,264.5 537.5,272.0 534.5,278.0 535.0,282.0 527.5,286.0 517.5,293.0 507.5,302.0 502.5,304.0 499.0,303.0 500.0,298.0 497.5,296.0 495.0,298.0 494.0,302.0 496.0,307.0 487.5,311.0 475.0,316.0 462.5,321.0 449.0,326.0 445.0,321.5 437.5,319.0 429.0,320.0 424.0,317.0 419.0,313.0 410.0,312.0 400.0,309.5 390.0,311.0 380.0,312.0 370.0,317.0 360.0,322.0 355.0,319.0 350.0,319.5 344.0,316.0 345.0,312.0 337.5,309.5 327.5,307.5 317.5,304.5 307.5,301.0 300.0,294.5 290.0,287.0 279.5,286.3 272.0,285.2 263.0,285.8 255.5,284.8 248.0,286.3 239.0,288.5 236.0,285.5 234.5,281.0 230.0,276.5 224.0,272.0 221.8,269.0 218.0,266.8 214.3,266.0 212.0,264.5 210.5,261.5 207.5,257.0 204.5,253.3 200.8,251.0 197.8,248.8 197.0,245.0 196.3,237.5 195.8,231.5 196.7,227.0 195.5,222.5 196.3,219.5 199.3,216.5 199.5,214.3 197.8,212.0 197.0,209.8 201.5,205.3 201.8,201.5 200.8,197.0 200.8,192.5 202.3,189.5 210.5,189.5 216.5,188.8 219.5,186.5 221.8,183.5 223.3,177.5 223.3,173.0 221.0,170.0 218.8,167.0 217.5,158.3 216.3,152.0 213.8,144.5 211.8,143.3" fill="none" stroke="#000" stroke-width="1" shape-rendering="crispEdges"/>
<polyline points="235.0,28.0 233.8,34.5 234.5,42.0 233.8,50.8 230.0,57.0 226.0,62.0 223.8,69.5 226.0,74.5 225.0,80.8 226.0,85.8 227.5,94.5 215.0,97.0 212.5,100.8 216.0,107.0 216.0,114.5 213.8,120.8 220.0,129.5 216.0,135.8 211.8,143.0 211.0,152.0 213.0,162.0 213.8,169.5 217.3,174.5 215.8,179.0 216.5,183.5 215.0,186.5 210.5,188.8 204.5,188.0 197.0,187.7 195.5,189.2 197.0,191.0 196.3,195.5 197.0,201.5 197.8,203.8 192.5,206.8 190.3,210.5 188.8,216.5 188.0,224.0 187.3,230.0 187.7,235.3 191.0,239.8 194.0,244.3 194.8,251.0 195.5,254.8 198.5,256.3 199.7,260.0 199.3,266.0 198.5,269.0 194.0,273.5 185.0,275.0 189.5,277.3 194.0,281.0 190.3,284.8 192.5,290.0 200.0,295.8 205.0,300.8 212.5,307.0 222.5,310.8 232.5,313.3 237.5,315.8 250.0,322.0 257.5,327.0 267.5,332.0 275.0,338.3 282.5,345.8 287.5,352.0 290.5,358.3 289.5,363.3 282.5,369.5 276.3,377.0 272.5,387.0 272.5,394.5 275.0,402.0 280.0,409.5 287.5,418.3 300.0,424.5 307.5,426.3 315.0,424.5 320.0,427.0 322.5,437.0 324.3,449.5 324.5,464.5 317.5,473.3 310.0,482.0 305.0,489.5 300.0,497.0 295.0,504.5 287.5,512.0 277.5,518.3 270.0,524.5 265.0,529.5 262.5,535.8 261.3,544.5 261.3,550.8 257.5,554.5 250.0,558.3 240.0,563.3 230.0,569.5 220.0,573.3 210.0,577.0 200.0,580.8 187.5,585.8 175.0,588.3 162.5,592.0 150.0,595.8 137.5,598.3 125.0,600.0 110.0,602.0 100.0,605.6 90.0,606.3 81.9,607.8 60.0,611.0 32.5,614.4 27.5,614.8 21.3,615.6 13.8,616.3 8.8,615.3 5.0,616.9 0.0,617.5" fill="none" stroke="#000" stroke-width="1" shape-rendering="crispEdges"/>
<polyline points="407.0,28.4 410.0,29.5 416.0,36.5 421.3,44.5 427.5,53.3 437.5,59.5 442.5,55.8 447.5,60.8 457.5,67.0 467.5,68.3 475.0,72.0 482.5,77.0 488.8,87.0 497.5,94.5 507.5,101.5 511.3,99.5 517.5,103.3 525.0,105.0 528.8,110.8 536.3,113.3 537.5,119.5 542.5,125.8 543.8,134.5 550.0,142.0 560.0,149.5 572.5,153.3 580.0,158.3 583.8,162.0 578.8,167.0 570.0,172.0 568.0,178.3 560.0,182.0 553.8,187.0 551.3,194.5 552.5,209.5 551.3,227.0 552.5,230.8 557.5,232.5 562.5,235.8" fill="none" stroke="#000" stroke-width="1" shape-rendering="crispEdges"/>
<polyline points="374.0,42.5 380.0,41.0 386.0,38.0 390.0,33.0 395.0,30.5 400.0,29.5" fill="none" stroke="#000" stroke-width="1" shape-rendering="crispEdges"/>
<polyline points="700.3,28.4 699.8,35.0 702.2,37.8 702.8,42.5 695.6,44.0 690.9,46.3 690.0,51.9 688.1,54.7 680.6,55.6 675.0,57.5 667.5,60.3 663.8,65.0 662.3,76.3 660.9,77.2 658.1,76.3 656.3,78.1 658.1,80.9 660.9,80.0 662.3,78.1" fill="none" stroke="#000" stroke-width="1" shape-rendering="crispEdges"/>
<polyline points="660.9,81.0 655.3,88.4 648.8,89.4 647.8,95.0 645.0,97.8 647.8,100.6 650.6,104.4 645.9,106.3 645.0,111.9 648.8,113.8 652.5,112.8 656.3,110.9 658.1,113.8 654.4,115.6 653.4,117.5 658.1,119.4" fill="none" stroke="#000" stroke-width="1" shape-rendering="crispEdges"/>
<polyline points="736.9,28.4 736.9,44.4 739.7,43.4 739.7,41.6 735.0,41.0 729.4,42.1 725.6,41.6 723.8,44.4 723.4,50.0 724.7,55.6 722.8,62.2 720.0,66.9 715.3,71.6 710.6,74.4 705.9,74.4 705.0,72.5 702.2,75.3 703.1,80.0 700.3,79.1 695.6,82.8 690.0,88.4 684.4,93.1 678.8,95.0 675.9,94.1 675.0,95.9 670.3,97.8 662.8,95.9 658.1,95.9 657.2,98.8 660.9,102.5 664.7,105.3 661.9,110.0 660.0,115.6 658.1,119.4" fill="none" stroke="#000" stroke-width="1" shape-rendering="crispEdges"/>
<path d="M9.5 28V772.5M81.5 28V772.5M154.5 28V772.5M227.5 28V772.5M299.5 28V772.5M372.5 28V772.5M445.5 28V772.5M518.5 28V772.5M590.5 28V772.5M663.5 28V772.5M736.5 28V772.5M0 36.5H800M0 109.5H800M0 181.5H800M0 254.5H800M0 327.5H800M0 400.5H800M0 472.5H800M0 545.5H800M0 618.5H800M0 690.5H800M0 763.5H800" stroke="#808080" stroke-width="1" fill="none" shape-rendering="crispEdges"/>
<g class="ls" clip-path="url(#pc)"><clipPath id="pc"><rect x="0" y="28.6" width="800" height="744"/></clipPath><text x="771" y="32.3" font-size="11" fill="#7c7c86" stroke="#7c7c86" stroke-width="0.5" textLength="21" lengthAdjust="spacingAndGlyphs">31S</text><text x="771" y="105.3" font-size="11" fill="#7c7c86" stroke="#7c7c86" stroke-width="0.5" textLength="21" lengthAdjust="spacingAndGlyphs">32S</text><text x="771" y="177.3" font-size="11" fill="#7c7c86" stroke="#7c7c86" stroke-width="0.5" textLength="21" lengthAdjust="spacingAndGlyphs">33S</text><text x="771" y="250.3" font-size="11" fill="#7c7c86" stroke="#7c7c86" stroke-width="0.5" textLength="21" lengthAdjust="spacingAndGlyphs">34S</text><text x="771" y="323.3" font-size="11" fill="#7c7c86" stroke="#7c7c86" stroke-width="0.5" textLength="21" lengthAdjust="spacingAndGlyphs">35S</text><text x="771" y="396.3" font-size="11" fill="#7c7c86" stroke="#7c7c86" stroke-width="0.5" textLength="21" lengthAdjust="spacingAndGlyphs">36S</text><text x="771" y="468.3" font-size="11" fill="#7c7c86" stroke="#7c7c86" stroke-width="0.5" textLength="21" lengthAdjust="spacingAndGlyphs">37S</text><text x="771" y="541.3" font-size="11" fill="#7c7c86" stroke="#7c7c86" stroke-width="0.5" textLength="21" lengthAdjust="spacingAndGlyphs">38S</text><text x="771" y="614.3" font-size="11" fill="#7c7c86" stroke="#7c7c86" stroke-width="0.5" textLength="21" lengthAdjust="spacingAndGlyphs">39S</text><text x="771" y="686.3" font-size="11" fill="#7c7c86" stroke="#7c7c86" stroke-width="0.5" textLength="21" lengthAdjust="spacingAndGlyphs">40S</text><text x="771" y="759.3" font-size="11" fill="#7c7c86" stroke="#7c7c86" stroke-width="0.5" textLength="21" lengthAdjust="spacingAndGlyphs">41S</text><text transform="translate(14.1,743.8) rotate(90)" font-size="11" fill="#7c7c86" stroke="#7c7c86" stroke-width="0.5" textLength="21.5" lengthAdjust="spacingAndGlyphs">61W</text><text transform="translate(86.1,743.8) rotate(90)" font-size="11" fill="#7c7c86" stroke="#7c7c86" stroke-width="0.5" textLength="21.5" lengthAdjust="spacingAndGlyphs">60W</text><text transform="translate(159.1,743.8) rotate(90)" font-size="11" fill="#7c7c86" stroke="#7c7c86" stroke-width="0.5" textLength="21.5" lengthAdjust="spacingAndGlyphs">59W</text><text transform="translate(232.1,743.8) rotate(90)" font-size="11" fill="#7c7c86" stroke="#7c7c86" stroke-width="0.5" textLength="21.5" lengthAdjust="spacingAndGlyphs">58W</text><text transform="translate(304.1,743.8) rotate(90)" font-size="11" fill="#7c7c86" stroke="#7c7c86" stroke-width="0.5" textLength="21.5" lengthAdjust="spacingAndGlyphs">57W</text><text transform="translate(377.1,743.8) rotate(90)" font-size="11" fill="#7c7c86" stroke="#7c7c86" stroke-width="0.5" textLength="21.5" lengthAdjust="spacingAndGlyphs">56W</text><text transform="translate(450.1,743.8) rotate(90)" font-size="11" fill="#7c7c86" stroke="#7c7c86" stroke-width="0.5" textLength="21.5" lengthAdjust="spacingAndGlyphs">55W</text><text transform="translate(523.1,743.8) rotate(90)" font-size="11" fill="#7c7c86" stroke="#7c7c86" stroke-width="0.5" textLength="21.5" lengthAdjust="spacingAndGlyphs">54W</text><text transform="translate(595.1,743.8) rotate(90)" font-size="11" fill="#7c7c86" stroke="#7c7c86" stroke-width="0.5" textLength="21.5" lengthAdjust="spacingAndGlyphs">53W</text><text transform="translate(668.1,743.8) rotate(90)" font-size="11" fill="#7c7c86" stroke="#7c7c86" stroke-width="0.5" textLength="21.5" lengthAdjust="spacingAndGlyphs">52W</text><text transform="translate(741.1,743.8) rotate(90)" font-size="11" fill="#7c7c86" stroke="#7c7c86" stroke-width="0.5" textLength="21.5" lengthAdjust="spacingAndGlyphs">51W</text></g>
<path d="M1.5 28v4.5M1.5 772.8v-4.8M9.5 28v9.0M9.5 772.8v-17.3M16.5 28v4.5M16.5 772.8v-4.8M23.5 28v4.5M23.5 772.8v-4.8M30.5 28v4.5M30.5 772.8v-4.8M38.5 28v4.5M38.5 772.8v-4.8M45.5 28v9.0M45.5 772.8v-9.3M52.5 28v4.5M52.5 772.8v-4.8M59.5 28v4.5M59.5 772.8v-4.8M67.5 28v4.5M67.5 772.8v-4.8M74.5 28v4.5M74.5 772.8v-4.8M81.5 28v9.0M81.5 772.8v-17.3M89.5 28v4.5M89.5 772.8v-4.8M96.5 28v4.5M96.5 772.8v-4.8M103.5 28v4.5M103.5 772.8v-4.8M110.5 28v4.5M110.5 772.8v-4.8M118.5 28v9.0M118.5 772.8v-9.3M125.5 28v4.5M125.5 772.8v-4.8M132.5 28v4.5M132.5 772.8v-4.8M139.5 28v4.5M139.5 772.8v-4.8M147.5 28v4.5M147.5 772.8v-4.8M154.5 28v9.0M154.5 772.8v-17.3M161.5 28v4.5M161.5 772.8v-4.8M169.5 28v4.5M169.5 772.8v-4.8M176.5 28v4.5M176.5 772.8v-4.8M183.5 28v4.5M183.5 772.8v-4.8M190.5 28v9.0M190.5 772.8v-9.3M198.5 28v4.5M198.5 772.8v-4.8M205.5 28v4.5M205.5 772.8v-4.8M212.5 28v4.5M212.5 772.8v-4.8M219.5 28v4.5M219.5 772.8v-4.8M227.5 28v9.0M227.5 772.8v-17.3M234.5 28v4.5M234.5 772.8v-4.8M241.5 28v4.5M241.5 772.8v-4.8M249.5 28v4.5M249.5 772.8v-4.8M256.5 28v4.5M256.5 772.8v-4.8M263.5 28v9.0M263.5 772.8v-9.3M270.5 28v4.5M270.5 772.8v-4.8M278.5 28v4.5M278.5 772.8v-4.8M285.5 28v4.5M285.5 772.8v-4.8M292.5 28v4.5M292.5 772.8v-4.8M299.5 28v9.0M299.5 772.8v-17.3M307.5 28v4.5M307.5 772.8v-4.8M314.5 28v4.5M314.5 772.8v-4.8M321.5 28v4.5M321.5 772.8v-4.8M329.5 28v4.5M329.5 772.8v-4.8M336.5 28v9.0M336.5 772.8v-9.3M343.5 28v4.5M343.5 772.8v-4.8M350.5 28v4.5M350.5 772.8v-4.8M358.5 28v4.5M358.5 772.8v-4.8M365.5 28v4.5M365.5 772.8v-4.8M372.5 28v9.0M372.5 772.8v-17.3M379.5 28v4.5M379.5 772.8v-4.8M387.5 28v4.5M387.5 772.8v-4.8M394.5 28v4.5M394.5 772.8v-4.8M401.5 28v4.5M401.5 772.8v-4.8M409.5 28v9.0M409.5 772.8v-9.3M416.5 28v4.5M416.5 772.8v-4.8M423.5 28v4.5M423.5 772.8v-4.8M430.5 28v4.5M430.5 772.8v-4.8M438.5 28v4.5M438.5 772.8v-4.8M445.5 28v17.5M445.5 772.8v-17.3M452.5 28v4.5M452.5 772.8v-4.8M459.5 28v4.5M459.5 772.8v-4.8M467.5 28v4.5M467.5 772.8v-4.8M474.5 28v4.5M474.5 772.8v-4.8M481.5 28v9.0M481.5 772.8v-9.3M489.5 28v4.5M489.5 772.8v-4.8M496.5 28v4.5M496.5 772.8v-4.8M503.5 28v4.5M503.5 772.8v-4.8M510.5 28v4.5M510.5 772.8v-4.8M518.5 28v17.5M518.5 772.8v-17.3M525.5 28v4.5M525.5 772.8v-4.8M532.5 28v4.5M532.5 772.8v-4.8M539.5 28v4.5M539.5 772.8v-4.8M547.5 28v4.5M547.5 772.8v-4.8M554.5 28v9.0M554.5 772.8v-9.3M561.5 28v4.5M561.5 772.8v-4.8M569.5 28v4.5M569.5 772.8v-4.8M576.5 28v4.5M576.5 772.8v-4.8M583.5 28v4.5M583.5 772.8v-4.8M590.5 28v17.5M590.5 772.8v-17.3M598.5 28v4.5M598.5 772.8v-4.8M605.5 28v4.5M605.5 772.8v-4.8M612.5 28v4.5M612.5 772.8v-4.8M619.5 28v4.5M619.5 772.8v-4.8M627.5 28v9.0M627.5 772.8v-9.3M634.5 28v4.5M634.5 772.8v-4.8M641.5 28v4.5M641.5 772.8v-4.8M649.5 28v4.5M649.5 772.8v-4.8M656.5 28v4.5M656.5 772.8v-4.8M663.5 28v17.5M663.5 772.8v-17.3M670.5 28v4.5M670.5 772.8v-4.8M678.5 28v4.5M678.5 772.8v-4.8M685.5 28v4.5M685.5 772.8v-4.8M692.5 28v4.5M692.5 772.8v-4.8M699.5 28v9.0M699.5 772.8v-9.3M707.5 28v4.5M707.5 772.8v-4.8M714.5 28v4.5M714.5 772.8v-4.8M721.5 28v4.5M721.5 772.8v-4.8M729.5 28v4.5M729.5 772.8v-4.8M736.5 28v17.5M736.5 772.8v-17.3M743.5 28v4.5M743.5 772.8v-4.8M750.5 28v4.5M750.5 772.8v-4.8M758.5 28v4.5M758.5 772.8v-4.8M765.5 28v4.5M765.5 772.8v-4.8M772.5 28v9.0M772.5 772.8v-9.3M779.5 28v4.5M779.5 772.8v-4.8M787.5 28v4.5M787.5 772.8v-4.8M794.5 28v4.5M794.5 772.8v-4.8M0 29.5h4.5M800 29.5h-4.5M0 36.5h4.5M800 36.5h-17.5M0 43.5h4.5M800 43.5h-4.5M0 50.5h4.5M800 50.5h-4.5M0 58.5h4.5M800 58.5h-4.5M0 65.5h4.5M800 65.5h-4.5M0 72.5h9.0M800 72.5h-9.0M0 80.5h4.5M800 80.5h-4.5M0 87.5h4.5M800 87.5h-4.5M0 94.5h4.5M800 94.5h-4.5M0 101.5h4.5M800 101.5h-4.5M0 109.5h17.5M800 109.5h-17.5M0 116.5h4.5M800 116.5h-4.5M0 123.5h4.5M800 123.5h-4.5M0 130.5h4.5M800 130.5h-4.5M0 138.5h4.5M800 138.5h-4.5M0 145.5h9.0M800 145.5h-9.0M0 152.5h4.5M800 152.5h-4.5M0 160.5h4.5M800 160.5h-4.5M0 167.5h4.5M800 167.5h-4.5M0 174.5h4.5M800 174.5h-4.5M0 181.5h17.5M800 181.5h-17.5M0 189.5h4.5M800 189.5h-4.5M0 196.5h4.5M800 196.5h-4.5M0 203.5h4.5M800 203.5h-4.5M0 210.5h4.5M800 210.5h-4.5M0 218.5h9.0M800 218.5h-9.0M0 225.5h4.5M800 225.5h-4.5M0 232.5h4.5M800 232.5h-4.5M0 240.5h4.5M800 240.5h-4.5M0 247.5h4.5M800 247.5h-4.5M0 254.5h17.5M800 254.5h-17.5M0 261.5h4.5M800 261.5h-4.5M0 269.5h4.5M800 269.5h-4.5M0 276.5h4.5M800 276.5h-4.5M0 283.5h4.5M800 283.5h-4.5M0 290.5h9.0M800 290.5h-9.0M0 298.5h4.5M800 298.5h-4.5M0 305.5h4.5M800 305.5h-4.5M0 312.5h4.5M800 312.5h-4.5M0 320.5h4.5M800 320.5h-4.5M0 327.5h17.5M800 327.5h-17.5M0 334.5h4.5M800 334.5h-4.5M0 341.5h4.5M800 341.5h-4.5M0 349.5h4.5M800 349.5h-4.5M0 356.5h4.5M800 356.5h-4.5M0 363.5h9.0M800 363.5h-9.0M0 370.5h4.5M800 370.5h-4.5M0 378.5h4.5M800 378.5h-4.5M0 385.5h4.5M800 385.5h-4.5M0 392.5h4.5M800 392.5h-4.5M0 399.5h17.5M800 399.5h-17.5M0 407.5h4.5M800 407.5h-4.5M0 414.5h4.5M800 414.5h-4.5M0 421.5h4.5M800 421.5h-4.5M0 429.5h4.5M800 429.5h-4.5M0 436.5h9.0M800 436.5h-9.0M0 443.5h4.5M800 443.5h-4.5M0 450.5h4.5M800 450.5h-4.5M0 458.5h4.5M800 458.5h-4.5M0 465.5h4.5M800 465.5h-4.5M0 472.5h17.5M800 472.5h-17.5M0 479.5h4.5M800 479.5h-4.5M0 487.5h4.5M800 487.5h-4.5M0 494.5h4.5M800 494.5h-4.5M0 501.5h4.5M800 501.5h-4.5M0 509.5h9.0M800 509.5h-9.0M0 516.5h4.5M800 516.5h-4.5M0 523.5h4.5M800 523.5h-4.5M0 530.5h4.5M800 530.5h-4.5M0 538.5h4.5M800 538.5h-4.5M0 545.5h17.5M800 545.5h-17.5M0 552.5h4.5M800 552.5h-4.5M0 559.5h4.5M800 559.5h-4.5M0 567.5h4.5M800 567.5h-4.5M0 574.5h4.5M800 574.5h-4.5M0 581.5h9.0M800 581.5h-9.0M0 589.5h4.5M800 589.5h-4.5M0 596.5h4.5M800 596.5h-4.5M0 603.5h4.5M800 603.5h-4.5M0 610.5h4.5M800 610.5h-4.5M0 618.5h17.5M800 618.5h-17.5M0 625.5h4.5M800 625.5h-4.5M0 632.5h4.5M800 632.5h-4.5M0 639.5h4.5M800 639.5h-4.5M0 647.5h4.5M800 647.5h-4.5M0 654.5h9.0M800 654.5h-9.0M0 661.5h4.5M800 661.5h-4.5M0 669.5h4.5M800 669.5h-4.5M0 676.5h4.5M800 676.5h-4.5M0 683.5h4.5M800 683.5h-4.5M0 690.5h17.5M800 690.5h-17.5M0 698.5h4.5M800 698.5h-4.5M0 705.5h4.5M800 705.5h-4.5M0 712.5h4.5M800 712.5h-4.5M0 719.5h4.5M800 719.5h-4.5M0 727.5h9.0M800 727.5h-9.0M0 734.5h4.5M800 734.5h-4.5M0 741.5h4.5M800 741.5h-4.5M0 749.5h4.5M800 749.5h-4.5M0 756.5h4.5M800 756.5h-4.5M0 763.5h17.5M800 763.5h-17.5M0 770.5h4.5M800 770.5h-4.5" stroke="#000" stroke-width="1" fill="none" shape-rendering="crispEdges"/>
<path d="M0 27.9H800" stroke="#000" stroke-width="1.3" fill="none"/>
<path d="M0.6 27.3V772.5" stroke="#000" stroke-width="1.3" fill="none"/>
<path d="M0 772H8" stroke="#000" stroke-width="1.2" fill="none"/>
<defs><linearGradient id="cb" x1="0" y1="1" x2="0" y2="0">
<stop offset="0.0000" stop-color="#0000ff"/>
<stop offset="0.2667" stop-color="#00ffff"/>
<stop offset="0.4000" stop-color="#00fc00"/>
<stop offset="0.5333" stop-color="#ffff00"/>
<stop offset="0.8333" stop-color="#ff0000"/>
<stop offset="1.0000" stop-color="#be0082"/>
</linearGradient></defs>
<rect x="32" y="160" width="49.8" height="608.4" fill="#000"/>
<rect x="33.5" y="161.3" width="46.6" height="605.8" fill="#fff"/>
<rect x="34.2" y="162.1" width="45.3" height="604.3" fill="url(#cb)"/>
<g class="ls"><text x="86.3" y="165.3" font-size="14.5" fill="#000" stroke="#000" stroke-width="0.35">30</text><text x="86.3" y="316.8" font-size="14.5" fill="#000" stroke="#000" stroke-width="0.35">22</text><text x="86.3" y="468.8" font-size="14.5" fill="#000" stroke="#000" stroke-width="0.35">15</text><text x="86.3" y="620.3" font-size="14.5" fill="#000" stroke="#000" stroke-width="0.35">8</text><text x="86.3" y="772.3" font-size="14.5" fill="#000" stroke="#000" stroke-width="0.35">0</text><text x="33.8" y="147.6" font-size="14.5" fill="#000" stroke="#000" stroke-width="0.35" textLength="45" lengthAdjust="spacing">[m/s]</text></g>
</svg></body></html>
